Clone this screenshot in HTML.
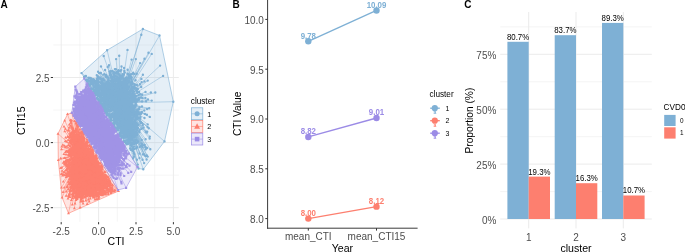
<!DOCTYPE html>
<html><head><meta charset="utf-8"><style>
html,body{margin:0;padding:0;background:#fff;width:685px;height:252px;overflow:hidden;}
svg{display:block;will-change:transform;}
text{font-family:"Liberation Sans",sans-serif;}
</style></head><body>
<svg width="685" height="252" viewBox="0 0 685 252">
<defs><clipPath id="cpA"><rect x="53.3" y="19.0" width="125.50000000000001" height="202.7"/></clipPath></defs>
<line x1="79.90" y1="19.0" x2="79.90" y2="221.7" stroke="#EBEBEB" stroke-width="0.5"/>
<line x1="117.30" y1="19.0" x2="117.30" y2="221.7" stroke="#EBEBEB" stroke-width="0.5"/>
<line x1="154.70" y1="19.0" x2="154.70" y2="221.7" stroke="#EBEBEB" stroke-width="0.5"/>
<line x1="53.3" y1="175.15" x2="178.8" y2="175.15" stroke="#EBEBEB" stroke-width="0.5"/>
<line x1="53.3" y1="110.05" x2="178.8" y2="110.05" stroke="#EBEBEB" stroke-width="0.5"/>
<line x1="53.3" y1="44.95" x2="178.8" y2="44.95" stroke="#EBEBEB" stroke-width="0.5"/>
<line x1="61.20" y1="19.0" x2="61.20" y2="221.7" stroke="#EBEBEB" stroke-width="1"/>
<line x1="98.60" y1="19.0" x2="98.60" y2="221.7" stroke="#EBEBEB" stroke-width="1"/>
<line x1="136.00" y1="19.0" x2="136.00" y2="221.7" stroke="#EBEBEB" stroke-width="1"/>
<line x1="173.40" y1="19.0" x2="173.40" y2="221.7" stroke="#EBEBEB" stroke-width="1"/>
<line x1="53.3" y1="207.70" x2="178.8" y2="207.70" stroke="#EBEBEB" stroke-width="1"/>
<line x1="53.3" y1="142.60" x2="178.8" y2="142.60" stroke="#EBEBEB" stroke-width="1"/>
<line x1="53.3" y1="77.50" x2="178.8" y2="77.50" stroke="#EBEBEB" stroke-width="1"/>
<g clip-path="url(#cpA)"><path d="M81.5 73.1 L107.1 50.2 L142.9 29.0 L159.5 35.5 L173.3 101.7 L164.5 141.4 L143.3 169.3 L138.5 168.5Z" fill="#7EB0D5" fill-opacity="0.2" stroke="#7EB0D5" stroke-width="0.6"/><path d="M58.0 133.8 L67.5 114.2 L71.8 113.0 L118.5 191.0 L68.5 213.3 L62.1 197.5 L58.3 160.0Z" fill="#FD7F6F" fill-opacity="0.2" stroke="#FD7F6F" stroke-width="0.6"/><path d="M71.8 113.0 L75.3 86.7 L84.3 78.5 L137.5 167.0 L126.1 187.8 L118.0 190.0Z" fill="#A093E6" fill-opacity="0.2" stroke="#A093E6" stroke-width="0.6"/><path d="M120.0 103.0L128.8 111.3M120.0 103.0L116.7 107.3M120.0 103.0L119.0 106.3M120.0 103.0L121.4 132.1M120.0 103.0L117.5 81.1M120.0 103.0L126.8 83.6M120.0 103.0L128.0 104.1M120.0 103.0L116.1 119.9M120.0 103.0L118.3 78.3M120.0 103.0L118.4 99.9M120.0 103.0L111.6 96.3M120.0 103.0L126.6 98.9M120.0 103.0L122.5 104.4M120.0 103.0L112.9 102.3M120.0 103.0L101.1 85.8M120.0 103.0L113.6 103.3M120.0 103.0L115.1 100.0M120.0 103.0L127.9 134.4M120.0 103.0L130.6 83.2M120.0 103.0L125.3 78.6M120.0 103.0L133.2 134.8M120.0 103.0L126.6 115.2M120.0 103.0L99.0 96.3M120.0 103.0L122.2 126.1M120.0 103.0L104.4 108.3M120.0 103.0L127.6 86.5M120.0 103.0L131.9 121.4M120.0 103.0L123.1 133.7M120.0 103.0L100.0 97.5M120.0 103.0L104.6 93.3M120.0 103.0L119.8 105.4M120.0 103.0L136.7 116.7M120.0 103.0L111.1 92.1M120.0 103.0L125.8 123.8M120.0 103.0L117.1 90.0M120.0 103.0L119.9 109.4M120.0 103.0L115.8 95.8M120.0 103.0L114.7 87.9M120.0 103.0L102.6 84.9M120.0 103.0L122.1 86.7M120.0 103.0L119.1 135.0M120.0 103.0L105.5 104.2M120.0 103.0L104.4 80.2M120.0 103.0L129.6 100.4M120.0 103.0L112.0 94.6M120.0 103.0L120.5 77.3M120.0 103.0L112.3 77.1M120.0 103.0L122.0 115.4M120.0 103.0L137.1 114.1M120.0 103.0L133.6 92.2M120.0 103.0L110.6 91.5M120.0 103.0L124.9 127.3M120.0 103.0L125.0 130.0M120.0 103.0L104.4 95.0M120.0 103.0L118.1 94.9M120.0 103.0L96.0 83.7M120.0 103.0L98.2 94.6M120.0 103.0L105.8 91.2M120.0 103.0L133.9 94.3M120.0 103.0L126.5 96.3M120.0 103.0L128.8 104.3M120.0 103.0L104.8 99.1M120.0 103.0L103.9 93.9M120.0 103.0L135.0 106.8M120.0 103.0L129.3 101.6M120.0 103.0L129.4 125.5M120.0 103.0L133.0 86.8M120.0 103.0L129.7 126.1M120.0 103.0L124.6 90.5M120.0 103.0L132.1 105.4M120.0 103.0L132.6 133.2M120.0 103.0L129.1 128.6M120.0 103.0L103.5 105.3M120.0 103.0L135.0 135.4M120.0 103.0L114.0 74.6M120.0 103.0L117.5 110.1M120.0 103.0L123.5 126.7M120.0 103.0L133.4 111.3M120.0 103.0L134.4 129.3M120.0 103.0L108.8 95.7M120.0 103.0L107.3 85.0M120.0 103.0L136.7 126.1M120.0 103.0L129.2 119.1M120.0 103.0L124.3 84.8M120.0 103.0L122.1 76.9M120.0 103.0L99.9 103.3M120.0 103.0L130.7 137.7M120.0 103.0L130.9 129.2M120.0 103.0L123.2 133.1M120.0 103.0L112.6 123.4M120.0 103.0L134.5 95.7M120.0 103.0L120.2 101.8M120.0 103.0L123.7 91.1M120.0 103.0L114.2 78.1M120.0 103.0L116.6 78.8M120.0 103.0L90.3 84.2M120.0 103.0L126.0 82.8M120.0 103.0L120.5 128.0M120.0 103.0L127.0 126.9M120.0 103.0L123.7 108.9M120.0 103.0L126.5 101.4M120.0 103.0L112.2 76.8M120.0 103.0L114.9 118.4M120.0 103.0L112.6 80.4M120.0 103.0L132.7 110.4M120.0 103.0L113.0 107.8M120.0 103.0L131.7 87.5M120.0 103.0L112.6 100.8M120.0 103.0L126.3 91.7M120.0 103.0L104.9 107.8M120.0 103.0L123.3 86.4M120.0 103.0L123.5 128.1M120.0 103.0L118.5 109.6M120.0 103.0L112.5 100.6M120.0 103.0L127.8 122.6M120.0 103.0L113.6 103.7M120.0 103.0L129.5 117.0M120.0 103.0L95.1 83.3M120.0 103.0L109.1 110.2M120.0 103.0L118.1 116.8M120.0 103.0L126.2 114.0M120.0 103.0L103.6 109.8M120.0 103.0L125.9 113.4M120.0 103.0L131.0 118.0M120.0 103.0L132.0 137.9M120.0 103.0L114.0 127.0M120.0 103.0L123.4 128.9M120.0 103.0L135.2 120.3M120.0 103.0L113.8 99.2M120.0 103.0L134.9 121.6M120.0 103.0L131.1 89.9M120.0 103.0L93.0 82.3M120.0 103.0L125.3 109.8M120.0 103.0L128.9 86.9M120.0 103.0L133.9 125.8M120.0 103.0L133.0 114.3M120.0 103.0L103.1 106.0M120.0 103.0L95.9 90.6M120.0 103.0L135.1 133.3M120.0 103.0L108.8 106.2M120.0 103.0L125.7 132.8M120.0 103.0L125.3 95.8M120.0 103.0L122.5 82.4M120.0 103.0L127.0 84.9M120.0 103.0L128.8 97.7M120.0 103.0L120.7 110.1M120.0 103.0L116.8 128.5M120.0 103.0L123.2 89.5M120.0 103.0L101.2 105.8M120.0 103.0L119.4 110.5M120.0 103.0L113.7 93.6M120.0 103.0L94.1 79.8M120.0 103.0L102.0 93.0M120.0 103.0L120.2 90.7M120.0 103.0L113.7 84.0M120.0 103.0L125.3 115.9M120.0 103.0L124.7 85.6M120.0 103.0L136.9 112.7M120.0 103.0L107.0 103.5M120.0 103.0L118.3 113.2M120.0 103.0L101.1 85.4M120.0 103.0L105.4 97.8M120.0 103.0L124.9 129.5M120.0 103.0L96.9 83.2M120.0 103.0L118.6 79.0M120.0 103.0L133.2 94.9M120.0 103.0L124.0 105.7M120.0 103.0L122.8 112.6M120.0 103.0L124.9 108.9M120.0 103.0L101.1 87.2M120.0 103.0L133.5 92.2M120.0 103.0L133.6 95.1M120.0 103.0L107.5 110.6M120.0 103.0L126.8 107.2M120.0 103.0L108.7 78.3M120.0 103.0L121.0 117.5M120.0 103.0L133.9 107.3M120.0 103.0L132.0 125.1M120.0 103.0L124.6 95.0M120.0 103.0L129.7 102.5M120.0 103.0L117.0 124.3M120.0 103.0L109.6 85.0M120.0 103.0L103.3 97.9M120.0 103.0L98.5 78.5M120.0 103.0L109.5 105.5M120.0 103.0L105.3 92.6M120.0 103.0L118.3 84.2M120.0 103.0L131.2 123.7M120.0 103.0L106.4 103.4M120.0 103.0L108.8 106.1M120.0 103.0L131.4 104.8M120.0 103.0L100.5 82.7M120.0 103.0L91.1 88.3M120.0 103.0L121.6 94.5M120.0 103.0L104.3 85.5M120.0 103.0L97.0 97.9M120.0 103.0L120.5 103.9M120.0 103.0L130.1 123.2M120.0 103.0L125.5 136.8M120.0 103.0L106.9 103.1M120.0 103.0L122.9 112.3M120.0 103.0L96.1 88.1M120.0 103.0L117.0 80.6M120.0 103.0L120.1 107.2M120.0 103.0L114.6 107.6M120.0 103.0L126.8 130.4M120.0 103.0L96.1 84.5M120.0 103.0L123.8 85.6M120.0 103.0L111.4 83.2M120.0 103.0L128.1 125.5M120.0 103.0L114.1 76.4M120.0 103.0L105.2 83.7M120.0 103.0L105.7 91.6M120.0 103.0L119.5 106.2M120.0 103.0L112.8 91.1M120.0 103.0L123.2 116.7M120.0 103.0L112.0 104.0M120.0 103.0L110.5 119.4M120.0 103.0L116.0 109.9M120.0 103.0L120.2 95.6M120.0 103.0L97.4 78.7M120.0 103.0L115.2 96.5M120.0 103.0L121.7 78.5M120.0 103.0L122.3 101.0M120.0 103.0L119.4 83.1M120.0 103.0L129.5 105.0M120.0 103.0L133.9 134.8M120.0 103.0L120.1 83.1M120.0 103.0L120.2 76.0M120.0 103.0L121.0 125.3M120.0 103.0L95.5 83.4M120.0 103.0L121.0 97.6M120.0 103.0L114.3 77.9M120.0 103.0L125.9 78.0M120.0 103.0L129.1 108.6M120.0 103.0L128.6 128.0M120.0 103.0L114.4 97.7M120.0 103.0L122.1 129.9M120.0 103.0L121.3 116.1M120.0 103.0L128.2 96.9M120.0 103.0L96.0 91.2M120.0 103.0L120.9 111.2M120.0 103.0L102.7 90.8M120.0 103.0L127.1 140.2M120.0 103.0L107.2 103.4M120.0 103.0L124.9 81.7M120.0 103.0L97.7 80.5M120.0 103.0L133.3 112.7M120.0 103.0L119.5 112.8M120.0 103.0L100.6 87.6M120.0 103.0L126.5 94.2M120.0 103.0L127.0 95.7M120.0 103.0L131.2 121.5M120.0 103.0L118.4 89.4M120.0 103.0L111.7 98.0M120.0 103.0L118.7 97.4M120.0 103.0L116.3 110.5M120.0 103.0L129.7 110.3M120.0 103.0L131.2 106.4M120.0 103.0L128.3 96.7M120.0 103.0L112.6 84.0M120.0 103.0L129.6 131.7M120.0 103.0L118.6 99.6M120.0 103.0L126.4 111.1M120.0 103.0L126.9 127.5M120.0 103.0L121.3 127.6M120.0 103.0L104.3 108.2M120.0 103.0L98.0 92.1M120.0 103.0L105.5 109.5M120.0 103.0L107.9 84.3M120.0 103.0L124.4 85.9M120.0 103.0L116.7 85.6M120.0 103.0L132.6 120.2M120.0 103.0L103.2 85.4M120.0 103.0L127.1 134.1M120.0 103.0L134.0 96.0M120.0 103.0L114.5 76.0M120.0 103.0L116.6 121.1M120.0 103.0L108.2 101.6M120.0 103.0L118.8 81.2M120.0 103.0L102.0 84.8M120.0 103.0L135.8 113.6M120.0 103.0L133.0 101.3M120.0 103.0L113.3 99.9M120.0 103.0L110.7 76.5M120.0 103.0L119.7 114.1M120.0 103.0L122.5 131.6M120.0 103.0L114.9 85.1M120.0 103.0L119.3 123.2M120.0 103.0L111.6 110.5M120.0 103.0L115.1 117.4M120.0 103.0L121.0 106.5M120.0 103.0L116.9 76.6M120.0 103.0L131.0 123.8M120.0 103.0L107.5 76.8M120.0 103.0L96.9 95.2M120.0 103.0L119.7 115.3M120.0 103.0L107.1 82.4M120.0 103.0L114.0 118.5M120.0 103.0L116.4 87.5M120.0 103.0L116.7 78.6M120.0 103.0L136.8 101.5M120.0 103.0L107.0 112.9M120.0 103.0L116.1 102.7M120.0 103.0L128.5 137.6M120.0 103.0L124.2 130.1M120.0 103.0L123.4 110.9M120.0 103.0L119.9 124.5M120.0 103.0L113.3 89.6M120.0 103.0L98.3 81.3M120.0 103.0L124.8 107.7M120.0 103.0L125.7 131.4M120.0 103.0L110.4 95.7M120.0 103.0L113.2 100.1M120.0 103.0L111.7 78.8M120.0 103.0L104.7 86.0M120.0 103.0L132.4 130.5M120.0 103.0L131.3 109.4M120.0 103.0L125.0 95.1M120.0 103.0L124.3 78.6M120.0 103.0L123.7 117.9M120.0 103.0L130.9 136.9M120.0 103.0L93.1 88.7M120.0 103.0L123.5 111.7M120.0 103.0L133.5 109.9M120.0 103.0L110.9 85.8M120.0 103.0L136.2 104.5M120.0 103.0L129.1 113.4M120.0 103.0L104.9 100.1M120.0 103.0L109.9 85.6M120.0 103.0L129.1 97.8M120.0 103.0L122.5 94.3M120.0 103.0L111.4 96.7M120.0 103.0L122.1 121.2M120.0 103.0L118.6 91.2M120.0 103.0L133.7 99.9M120.0 103.0L135.3 102.0M120.0 103.0L134.3 105.7M120.0 103.0L107.6 91.7M120.0 103.0L107.9 100.9M120.0 103.0L134.2 99.0M120.0 103.0L129.8 130.5M120.0 103.0L97.4 95.8M120.0 103.0L119.6 95.1M120.0 103.0L132.5 109.3M120.0 103.0L136.8 123.6M120.0 103.0L107.6 114.3M120.0 103.0L124.0 93.7M120.0 103.0L120.6 93.7M120.0 103.0L105.9 109.1M120.0 103.0L131.0 94.3M120.0 103.0L116.3 86.8M120.0 103.0L132.9 131.0M120.0 103.0L125.4 141.3M120.0 103.0L128.1 120.7M120.0 103.0L128.5 81.6M120.0 103.0L114.0 107.3M120.0 103.0L110.6 104.4M120.0 103.0L99.0 101.1M120.0 103.0L124.5 81.3M120.0 103.0L102.8 103.4M120.0 103.0L111.3 115.4M120.0 103.0L124.4 87.4M120.0 103.0L130.5 130.3M120.0 103.0L96.2 91.5M120.0 103.0L113.1 116.9M120.0 103.0L107.1 113.6M120.0 103.0L133.7 88.1M120.0 103.0L113.7 85.3M120.0 103.0L124.1 81.6M120.0 103.0L93.5 80.0M120.0 103.0L131.8 104.6M120.0 103.0L137.3 124.7M120.0 103.0L124.4 127.5M120.0 103.0L134.5 115.8M120.0 103.0L103.6 86.1M120.0 103.0L104.7 109.8M120.0 103.0L127.4 88.3M120.0 103.0L108.1 111.0M120.0 103.0L123.4 136.1M120.0 103.0L127.3 96.2M120.0 103.0L126.9 88.6M120.0 103.0L137.6 117.3M120.0 103.0L123.5 97.1M120.0 103.0L124.6 102.7M120.0 103.0L117.1 124.0M120.0 103.0L107.7 105.6M120.0 103.0L123.5 81.5M120.0 103.0L132.9 122.0M120.0 103.0L138.0 114.6M120.0 103.0L121.4 94.0M120.0 103.0L95.0 92.1M120.0 103.0L130.2 113.0M120.0 103.0L116.8 86.9M120.0 103.0L128.3 89.1M120.0 103.0L127.9 106.3M120.0 103.0L110.4 75.8M120.0 103.0L91.7 81.3M120.0 103.0L130.7 114.7M120.0 103.0L110.3 110.9M120.0 103.0L130.1 124.5M120.0 103.0L111.2 102.4M120.0 103.0L106.0 75.0M120.0 103.0L114.1 126.0M120.0 103.0L97.7 89.1M120.0 103.0L102.9 90.6M120.0 103.0L102.5 93.8M120.0 103.0L127.6 112.5M120.0 103.0L127.1 84.9M120.0 103.0L97.3 99.0M120.0 103.0L129.0 99.9M120.0 103.0L96.6 93.0M120.0 103.0L123.6 133.7M120.0 103.0L124.4 127.2M120.0 103.0L98.9 100.7M120.0 103.0L130.3 119.7M120.0 103.0L133.0 86.6M120.0 103.0L121.8 136.8M120.0 103.0L122.6 82.0M120.0 103.0L126.2 131.8M120.0 103.0L126.3 136.0M120.0 103.0L115.3 76.0M120.0 103.0L112.3 92.7M120.0 103.0L123.7 127.3M120.0 103.0L117.3 123.5M120.0 103.0L118.8 110.9M120.0 103.0L94.3 82.4M120.0 103.0L117.2 84.7M120.0 103.0L135.1 112.8M120.0 103.0L135.9 114.5M120.0 103.0L125.3 85.9M120.0 103.0L131.1 100.5M120.0 103.0L102.9 99.3M120.0 103.0L110.7 115.3M120.0 103.0L128.3 105.9M120.0 103.0L134.2 132.6M120.0 103.0L113.1 117.2M120.0 103.0L123.0 132.6M120.0 103.0L109.7 104.3M120.0 103.0L133.6 106.9M120.0 103.0L104.7 111.3M120.0 103.0L114.0 110.2M120.0 103.0L114.3 80.6M120.0 103.0L115.3 103.0M120.0 103.0L111.5 90.1M120.0 103.0L122.6 99.5M120.0 103.0L135.5 102.2M120.0 103.0L105.6 75.9M120.0 103.0L132.8 126.4M120.0 103.0L117.4 85.5M120.0 103.0L129.1 126.5M120.0 103.0L118.1 77.6M120.0 103.0L119.3 79.9M120.0 103.0L100.6 101.8M120.0 103.0L126.8 121.4M120.0 103.0L109.0 83.2M120.0 103.0L126.1 99.9M120.0 103.0L129.9 90.6M120.0 103.0L95.6 87.0M120.0 103.0L123.7 104.0M120.0 103.0L128.7 93.6M120.0 103.0L126.3 117.1M120.0 103.0L99.3 94.6M120.0 103.0L128.5 101.1M120.0 103.0L130.1 126.2M120.0 103.0L98.8 101.4M120.0 103.0L107.8 84.2M120.0 103.0L114.5 120.4M120.0 103.0L119.6 124.0M120.0 103.0L135.2 107.0M120.0 103.0L123.0 96.4M120.0 103.0L134.3 97.2M120.0 103.0L104.5 98.6M120.0 103.0L115.1 116.2M120.0 103.0L133.4 122.7M120.0 103.0L115.9 128.2M120.0 103.0L103.4 83.7M120.0 103.0L129.2 92.5M120.0 103.0L120.4 76.8M120.0 103.0L135.2 105.8M120.0 103.0L119.5 84.3M120.0 103.0L111.6 104.9M120.0 103.0L121.8 91.9M120.0 103.0L130.3 90.7M120.0 103.0L111.3 79.0M120.0 103.0L129.6 114.6M120.0 103.0L118.4 92.9M120.0 103.0L113.4 124.7M120.0 103.0L120.6 136.3M120.0 103.0L123.6 111.4M120.0 103.0L129.0 112.6M120.0 103.0L130.8 91.6M120.0 103.0L91.5 88.4M120.0 103.0L99.1 86.6M120.0 103.0L124.8 97.3M120.0 103.0L96.9 80.4M120.0 103.0L133.6 122.2M120.0 103.0L113.2 108.0M120.0 103.0L112.7 101.6M120.0 103.0L126.5 117.8M120.0 103.0L128.0 98.1M120.0 103.0L109.5 117.5M120.0 103.0L125.5 91.3M120.0 103.0L128.7 140.0M120.0 103.0L105.0 91.5M120.0 103.0L129.3 81.9M120.0 103.0L125.6 104.5M120.0 103.0L135.2 98.1M120.0 103.0L92.9 84.1M120.0 103.0L102.7 89.3M120.0 103.0L130.0 130.2M120.0 103.0L128.2 102.2M120.0 103.0L111.8 110.4M120.0 103.0L109.2 92.2M120.0 103.0L131.2 113.6M120.0 103.0L121.9 135.9M120.0 103.0L123.8 121.8M120.0 103.0L97.8 86.1M120.0 103.0L113.4 123.0M120.0 103.0L129.2 81.4M120.0 103.0L100.1 104.1M120.0 103.0L130.5 132.2M120.0 103.0L127.7 111.9M120.0 103.0L136.9 100.4M120.0 103.0L116.5 95.1M120.0 103.0L135.8 115.5M120.0 103.0L114.9 100.0M120.0 103.0L130.3 104.7M120.0 103.0L121.5 98.9M120.0 103.0L116.8 117.5M120.0 103.0L125.6 78.4M120.0 103.0L98.3 99.2M120.0 103.0L130.5 92.9M120.0 103.0L114.2 122.4M120.0 103.0L124.0 130.6M120.0 103.0L130.5 90.6M120.0 103.0L124.1 88.1M120.0 103.0L118.2 81.4M120.0 103.0L133.7 96.2M120.0 103.0L105.0 95.2M120.0 103.0L128.2 123.8M120.0 103.0L124.8 106.0M120.0 103.0L133.0 98.4M120.0 103.0L131.4 104.8M120.0 103.0L91.6 83.2M120.0 103.0L111.6 77.2M120.0 103.0L130.7 97.0M120.0 103.0L129.8 128.1M120.0 103.0L120.7 91.4M120.0 103.0L119.4 111.0M120.0 103.0L133.2 136.3M120.0 103.0L133.2 115.0M120.0 103.0L132.8 137.3M120.0 103.0L104.8 88.5M120.0 103.0L110.5 107.8M120.0 103.0L103.3 92.0M120.0 103.0L131.8 126.7M120.0 103.0L112.6 104.0M120.0 103.0L94.6 82.6M120.0 103.0L128.4 88.5M120.0 103.0L129.1 105.2M120.0 103.0L101.2 100.7M120.0 103.0L115.2 119.4M120.0 103.0L91.0 88.9M120.0 103.0L99.8 100.5M120.0 103.0L108.9 115.8M120.0 103.0L132.6 89.9M120.0 103.0L114.7 115.0M120.0 103.0L116.5 114.0M120.0 103.0L93.5 90.2M120.0 103.0L98.1 78.5M120.0 103.0L120.4 95.8M120.0 103.0L125.2 79.3M120.0 103.0L121.2 76.0M120.0 103.0L121.3 101.5M120.0 103.0L93.5 86.6M120.0 103.0L114.4 86.9M120.0 103.0L123.0 119.1M120.0 103.0L125.8 83.1M120.0 103.0L107.0 101.6M120.0 103.0L120.4 128.1M120.0 103.0L130.3 107.5M120.0 103.0L108.0 87.1M120.0 103.0L111.4 76.1M120.0 103.0L101.3 99.0M120.0 103.0L112.2 100.1M120.0 103.0L95.5 95.0M120.0 103.0L128.9 119.4M120.0 103.0L133.7 93.8M120.0 103.0L127.2 116.3M120.0 103.0L101.3 104.1M120.0 103.0L103.5 91.5M120.0 103.0L137.4 110.0M120.0 103.0L99.4 97.0M120.0 103.0L132.5 118.5M120.0 103.0L124.7 109.7M120.0 103.0L125.1 101.5M120.0 103.0L115.8 111.1M120.0 103.0L125.9 95.7M120.0 103.0L135.6 127.0M120.0 103.0L127.7 92.0M120.0 103.0L92.0 83.7M120.0 103.0L123.9 130.8M120.0 103.0L129.2 136.3M120.0 103.0L109.3 103.8M120.0 103.0L98.5 77.4M120.0 103.0L107.0 97.2M120.0 103.0L116.6 84.7M120.0 103.0L124.2 104.7M120.0 103.0L109.2 102.7M120.0 103.0L120.6 104.0M120.0 103.0L123.6 120.3M120.0 103.0L122.8 119.9M120.0 103.0L113.9 84.9M120.0 103.0L135.5 112.0M120.0 103.0L121.5 83.0M120.0 103.0L133.2 133.9M120.0 103.0L110.8 97.8M120.0 103.0L100.3 88.9M120.0 103.0L101.3 82.9M120.0 103.0L128.7 120.8M120.0 103.0L114.2 84.9M120.0 103.0L114.5 79.6M120.0 103.0L118.3 127.5M120.0 103.0L132.3 88.6M120.0 103.0L133.7 116.5M120.0 103.0L102.1 82.3M120.0 103.0L130.2 128.7M120.0 103.0L125.9 122.7M120.0 103.0L124.4 124.1M120.0 103.0L133.4 113.7M120.0 103.0L125.7 121.3M120.0 103.0L103.9 91.3M120.0 103.0L117.1 89.4M120.0 103.0L121.0 97.2M120.0 103.0L106.7 98.0M120.0 103.0L126.9 132.5M120.0 103.0L114.2 94.3M120.0 103.0L117.8 93.3M120.0 103.0L120.9 129.6M120.0 103.0L107.4 82.0M120.0 103.0L105.1 91.4M120.0 103.0L105.8 92.4M120.0 103.0L111.8 101.4M120.0 103.0L125.8 87.1M120.0 103.0L97.3 80.0M120.0 103.0L105.4 99.6M120.0 103.0L130.8 124.1M120.0 103.0L103.7 106.1M120.0 103.0L96.7 78.7M120.0 103.0L105.0 95.8M120.0 103.0L129.0 126.6M120.0 103.0L118.2 101.9M120.0 103.0L101.0 82.3M120.0 103.0L132.4 89.9M120.0 103.0L117.5 103.9M120.0 103.0L125.9 124.9M120.0 103.0L126.9 88.2M120.0 103.0L102.5 79.8M120.0 103.0L93.1 89.8M120.0 103.0L120.5 97.6M120.0 103.0L135.4 125.0M120.0 103.0L122.4 130.3M120.0 103.0L126.8 80.7M120.0 103.0L96.3 89.3M120.0 103.0L90.0 85.8M120.0 103.0L115.9 118.5M120.0 103.0L128.0 117.6M120.0 103.0L110.5 105.3M120.0 103.0L125.3 94.7M120.0 103.0L123.5 103.4M120.0 103.0L124.2 83.1M120.0 103.0L127.3 112.5M120.0 103.0L136.5 101.4M120.0 103.0L123.3 95.4M120.0 103.0L122.7 133.1M120.0 103.0L106.5 111.5M120.0 103.0L131.4 100.2M120.0 103.0L115.3 119.2M120.0 103.0L129.2 115.4M120.0 103.0L106.4 90.7M120.0 103.0L110.4 121.4M120.0 103.0L96.8 94.9M120.0 103.0L114.1 124.6M120.0 103.0L120.4 82.0M120.0 103.0L130.1 139.5M120.0 103.0L111.2 116.5M120.0 103.0L124.6 82.6M120.0 103.0L95.4 81.3M120.0 103.0L126.7 117.7M120.0 103.0L118.3 130.2M120.0 103.0L108.2 97.9M120.0 103.0L122.6 129.9M120.0 103.0L106.7 82.0M120.0 103.0L108.8 101.9M120.0 103.0L122.6 125.1M120.0 103.0L130.4 102.3M120.0 103.0L127.7 110.1M120.0 103.0L123.2 99.8M120.0 103.0L106.4 108.3M120.0 103.0L126.6 128.8M120.0 103.0L122.5 94.8M120.0 103.0L117.2 130.1M120.0 103.0L108.1 114.3M120.0 103.0L127.4 109.2M120.0 103.0L97.1 79.9M120.0 103.0L122.2 132.9M120.0 103.0L120.4 133.8M120.0 103.0L114.2 116.0M120.0 103.0L131.5 85.0M120.0 103.0L106.0 87.1M120.0 103.0L127.0 124.2M120.0 103.0L131.3 102.8M120.0 103.0L106.4 105.2M120.0 103.0L125.3 126.5M120.0 103.0L132.5 137.2M120.0 103.0L124.7 131.2M120.0 103.0L93.9 87.0M120.0 103.0L102.0 98.1M120.0 103.0L116.2 121.7M120.0 103.0L103.5 92.1M120.0 103.0L120.9 136.1M120.0 103.0L131.9 114.9M120.0 103.0L119.9 85.0M120.0 103.0L110.6 104.8M120.0 103.0L120.3 136.3M120.0 103.0L124.3 88.8M120.0 103.0L106.6 114.3M120.0 103.0L114.0 116.3M120.0 103.0L106.6 87.1M120.0 103.0L129.4 137.3M120.0 103.0L114.3 127.5M120.0 103.0L125.0 114.4M120.0 103.0L116.3 115.8M120.0 103.0L117.7 114.8M120.0 103.0L111.6 89.6M120.0 103.0L124.1 123.9M120.0 103.0L125.0 93.5M120.0 103.0L107.6 108.4M120.0 103.0L131.0 117.9M120.0 103.0L118.3 120.0M120.0 103.0L117.0 95.8M120.0 103.0L129.9 139.5M120.0 103.0L109.1 86.0M120.0 103.0L118.8 78.5M120.0 103.0L115.2 79.7M120.0 103.0L123.7 140.7M120.0 103.0L106.0 109.8M120.0 103.0L106.5 75.9M120.0 103.0L114.7 95.2M120.0 103.0L110.6 106.0M120.0 103.0L124.3 103.4M120.0 103.0L107.3 88.5M120.0 103.0L115.1 80.9M120.0 103.0L105.9 109.7M120.0 103.0L121.5 89.2M120.0 103.0L104.8 111.6M120.0 103.0L112.8 97.9M120.0 103.0L104.3 87.8M120.0 103.0L112.3 82.0M120.0 103.0L129.4 110.3M120.0 103.0L114.7 100.6M120.0 103.0L119.7 120.8M120.0 103.0L130.9 124.8M120.0 103.0L125.6 131.5M120.0 103.0L119.1 109.0M120.0 103.0L129.7 121.2M120.0 103.0L105.4 99.9M120.0 103.0L122.6 121.9M120.0 103.0L98.6 99.9M120.0 103.0L107.9 101.5M120.0 103.0L122.6 93.5M120.0 103.0L127.7 113.0M120.0 103.0L111.0 118.5M120.0 103.0L104.2 87.0M120.0 103.0L99.4 92.8M120.0 103.0L130.7 139.6M120.0 103.0L107.9 96.7M120.0 103.0L108.5 97.9M120.0 103.0L102.1 88.1M120.0 103.0L126.1 81.7M120.0 103.0L106.9 102.9M120.0 103.0L93.8 82.9M120.0 103.0L102.5 91.4M120.0 103.0L104.2 107.3M120.0 103.0L108.9 87.5M120.0 103.0L136.3 123.3M120.0 103.0L106.9 81.7M120.0 103.0L106.6 103.8M120.0 103.0L109.1 90.1M120.0 103.0L102.4 94.9M120.0 103.0L111.8 110.2M120.0 103.0L132.0 138.0M120.0 103.0L104.1 101.7M120.0 103.0L106.8 87.2M120.0 103.0L119.1 103.2M120.0 103.0L133.2 93.7M120.0 103.0L123.0 104.1M120.0 103.0L101.1 97.5M120.0 103.0L130.3 120.2M120.0 103.0L113.9 84.1M120.0 103.0L103.3 107.9M120.0 103.0L124.2 115.0M120.0 103.0L117.7 89.6M120.0 103.0L109.3 84.0M120.0 103.0L131.8 111.3M120.0 103.0L123.0 96.8M120.0 103.0L111.0 117.8M120.0 103.0L131.1 134.6M120.0 103.0L104.0 107.3M120.0 103.0L130.0 113.2M120.0 103.0L110.4 103.1M120.0 103.0L119.7 125.7M120.0 103.0L117.5 107.4M120.0 103.0L124.3 90.8M120.0 103.0L127.3 121.5M120.0 103.0L126.8 79.0M120.0 103.0L114.4 103.8M120.0 103.0L95.3 94.3M120.0 103.0L134.4 107.9M120.0 103.0L105.6 95.1M120.0 103.0L131.8 122.2M120.0 103.0L101.6 84.8M120.0 103.0L132.7 117.4M120.0 103.0L131.9 114.4M120.0 103.0L124.8 132.4M120.0 103.0L129.3 110.0M120.0 103.0L120.5 135.1M120.0 103.0L125.1 137.3M120.0 103.0L105.6 106.0M120.0 103.0L114.3 79.5M120.0 103.0L118.5 85.5M120.0 103.0L115.1 119.7M120.0 103.0L119.3 124.1M120.0 103.0L116.8 78.9M120.0 103.0L103.9 91.5M120.0 103.0L96.9 90.4M120.0 103.0L134.8 99.6M120.0 103.0L115.3 127.7M120.0 103.0L126.6 103.0M120.0 103.0L126.0 118.1M120.0 103.0L127.0 97.6M120.0 103.0L119.2 118.0M120.0 103.0L111.4 76.1M120.0 103.0L128.7 97.4M120.0 103.0L125.6 125.7M120.0 103.0L125.1 86.3M120.0 103.0L123.1 122.4M120.0 103.0L103.4 103.4M120.0 103.0L102.8 84.3M120.0 103.0L109.2 96.7M120.0 103.0L109.7 75.4M120.0 103.0L119.5 133.2M120.0 103.0L96.9 82.5M120.0 103.0L110.7 101.1M120.0 103.0L135.0 105.4M120.0 103.0L109.7 96.8M120.0 103.0L102.2 87.6M120.0 103.0L103.0 107.1M120.0 103.0L137.1 112.6M120.0 103.0L119.3 113.2M120.0 103.0L110.3 105.6M120.0 103.0L109.9 90.7M120.0 103.0L115.6 122.7M120.0 103.0L135.7 103.5M120.0 103.0L117.1 84.4M120.0 103.0L135.3 124.8M120.0 103.0L102.3 79.0M120.0 103.0L128.4 109.6M120.0 103.0L125.0 130.9M120.0 103.0L106.6 83.9M120.0 103.0L134.3 132.4M120.0 103.0L118.8 87.9M120.0 103.0L127.0 79.7M120.0 103.0L119.0 91.7M120.0 103.0L112.7 107.1M120.0 103.0L116.6 84.9M120.0 103.0L102.1 80.5M120.0 103.0L111.7 85.4M120.0 103.0L118.1 85.4M120.0 103.0L108.9 97.8M120.0 103.0L119.7 81.1M120.0 103.0L133.7 91.5M120.0 103.0L132.0 133.0M120.0 103.0L105.8 112.6M120.0 103.0L109.3 114.2M120.0 103.0L133.7 134.1M120.0 103.0L136.9 100.1M120.0 103.0L126.1 86.5M120.0 103.0L114.9 105.7M120.0 103.0L124.0 120.5M120.0 103.0L125.8 92.6M120.0 103.0L95.2 92.8M120.0 103.0L117.2 110.0M120.0 103.0L129.2 126.5M120.0 103.0L130.9 110.0M120.0 103.0L117.3 117.4M120.0 103.0L108.2 106.3M120.0 103.0L110.9 76.9M120.0 103.0L124.6 133.9M120.0 103.0L127.1 98.3M120.0 103.0L122.9 101.4M120.0 103.0L113.5 92.0M120.0 103.0L117.7 91.6M120.0 103.0L121.6 138.3M120.0 103.0L111.1 117.6M120.0 103.0L115.3 121.9M120.0 103.0L103.4 79.1M120.0 103.0L93.2 91.7M120.0 103.0L110.8 80.9M120.0 103.0L133.4 125.2M120.0 103.0L131.8 121.4M120.0 103.0L105.8 76.8M120.0 103.0L100.5 77.5M120.0 103.0L136.6 128.8M120.0 103.0L98.6 81.7M120.0 103.0L95.9 88.8M120.0 103.0L123.3 137.3M120.0 103.0L98.2 91.2M120.0 103.0L129.3 128.7M120.0 103.0L110.3 95.4M120.0 103.0L114.3 117.2M120.0 103.0L98.0 83.3M120.0 103.0L113.1 115.1M120.0 103.0L134.5 94.5M120.0 103.0L105.1 96.3M120.0 103.0L121.1 76.6M120.0 103.0L118.4 127.8M120.0 103.0L99.5 87.9M120.0 103.0L111.3 114.1M120.0 103.0L102.9 85.6M120.0 103.0L100.2 88.5M120.0 103.0L134.1 107.7M120.0 103.0L105.7 102.3M120.0 103.0L112.3 116.7M120.0 103.0L121.9 82.8M120.0 103.0L126.8 105.6M120.0 103.0L112.9 114.9M120.0 103.0L122.2 84.2M120.0 103.0L121.6 132.0M120.0 103.0L130.3 123.3M120.0 103.0L112.9 116.9M120.0 103.0L130.6 132.4M120.0 103.0L110.5 85.3M120.0 103.0L113.6 96.6M120.0 103.0L113.8 120.0M120.0 103.0L105.7 94.5M120.0 103.0L95.7 83.2M120.0 103.0L124.1 93.3M120.0 103.0L122.4 131.2M120.0 103.0L100.6 96.5M120.0 103.0L117.4 91.7M120.0 103.0L135.4 113.8M120.0 103.0L114.5 107.1M120.0 103.0L124.3 99.9M120.0 103.0L124.4 133.3M120.0 103.0L131.8 98.7M120.0 103.0L111.0 117.1M120.0 103.0L119.0 115.7M120.0 103.0L131.9 91.4M120.0 103.0L117.6 126.0M120.0 103.0L127.2 137.3M120.0 103.0L100.6 101.2M120.0 103.0L121.9 129.9M120.0 103.0L111.9 114.2M120.0 103.0L110.5 101.2M120.0 103.0L120.0 84.0M120.0 103.0L98.0 81.7M120.0 103.0L100.8 94.1M120.0 103.0L107.7 86.5M120.0 103.0L124.0 137.7M120.0 103.0L102.8 100.4M120.0 103.0L109.9 110.3M120.0 103.0L130.1 94.9M120.0 103.0L136.3 131.6M120.0 103.0L135.5 96.1M120.0 103.0L106.8 114.9M120.0 103.0L110.4 95.7M120.0 103.0L115.7 113.7M120.0 103.0L115.9 108.6M120.0 103.0L122.8 107.7M120.0 103.0L137.4 110.9M120.0 103.0L111.2 75.3M120.0 103.0L131.8 105.3M120.0 103.0L136.4 105.0M120.0 103.0L109.6 93.0M120.0 103.0L118.7 127.8M120.0 103.0L119.9 94.0M120.0 103.0L125.5 91.7M120.0 103.0L115.6 123.4M120.0 103.0L135.5 118.2M120.0 103.0L95.0 93.2M120.0 103.0L115.3 114.5M120.0 103.0L126.1 112.2M120.0 103.0L100.6 100.6M120.0 103.0L108.0 114.5M120.0 103.0L123.0 115.1M120.0 103.0L106.1 98.2M120.0 103.0L130.4 91.3M120.0 103.0L119.4 105.6M120.0 103.0L117.3 95.0M120.0 103.0L102.8 79.7M120.0 103.0L118.9 93.8M120.0 103.0L110.8 84.2M120.0 103.0L134.5 136.4M120.0 103.0L100.4 87.4M120.0 103.0L102.4 103.9M120.0 103.0L128.0 116.9M120.0 103.0L123.8 96.5M120.0 103.0L107.9 86.5M120.0 103.0L115.8 120.1M120.0 103.0L118.3 97.9M120.0 103.0L137.1 115.0M120.0 103.0L129.0 138.0M120.0 103.0L120.8 136.3M120.0 103.0L106.5 98.6M120.0 103.0L96.9 79.7M120.0 103.0L116.7 130.6M120.0 103.0L125.7 101.1M120.0 103.0L127.0 118.3M120.0 103.0L125.0 136.0M120.0 103.0L137.2 119.4M120.0 103.0L102.7 99.3M120.0 103.0L132.8 106.9M120.0 103.0L109.3 83.1M120.0 103.0L126.4 124.7M120.0 103.0L120.7 122.1M120.0 103.0L99.4 88.8M120.0 103.0L132.1 96.5M120.0 103.0L103.9 109.1M120.0 103.0L93.8 86.9M120.0 103.0L127.0 84.9M120.0 103.0L128.9 133.0M120.0 103.0L131.4 108.9M120.0 103.0L135.2 123.8M120.0 103.0L112.9 99.2M120.0 103.0L112.2 98.6M120.0 103.0L131.3 88.5M120.0 103.0L108.5 80.3M120.0 103.0L114.4 121.4M120.0 103.0L127.9 107.6M120.0 103.0L123.9 79.7M120.0 103.0L122.4 118.0M120.0 103.0L109.9 90.7M120.0 103.0L125.0 113.5M120.0 103.0L114.3 84.9M120.0 103.0L95.5 90.7M120.0 103.0L105.0 89.8M120.0 103.0L130.8 114.2M120.0 103.0L110.0 86.4M120.0 103.0L102.9 104.8M120.0 103.0L126.4 98.3M120.0 103.0L110.9 77.3M120.0 103.0L100.7 79.0M120.0 103.0L106.7 111.0M120.0 103.0L127.4 105.8M120.0 103.0L111.9 120.6M120.0 103.0L100.7 102.4M120.0 103.0L119.5 86.7M120.0 103.0L130.1 119.6M120.0 103.0L131.8 103.3M120.0 103.0L114.7 92.0M120.0 103.0L133.9 106.3M120.0 103.0L96.2 86.3M120.0 103.0L132.6 110.3M120.0 103.0L104.1 110.8M120.0 103.0L104.3 105.0M120.0 103.0L95.0 89.6M120.0 103.0L126.0 137.2M120.0 103.0L129.4 136.7M120.0 103.0L93.3 85.5M120.0 103.0L103.9 95.5M120.0 103.0L116.1 87.7M120.0 103.0L111.3 104.0M120.0 103.0L135.0 127.0M120.0 103.0L111.9 99.2M120.0 103.0L127.0 127.6M120.0 103.0L114.5 104.2M120.0 103.0L115.7 121.3M120.0 103.0L111.1 84.1M120.0 103.0L99.9 102.8M120.0 103.0L122.3 129.5M120.0 103.0L129.2 81.0M120.0 103.0L134.9 126.3M120.0 103.0L121.7 103.5M120.0 103.0L131.0 120.0M120.0 103.0L110.2 111.0M120.0 103.0L122.9 132.2M120.0 103.0L120.6 111.9M120.0 103.0L130.3 93.1M120.0 103.0L132.7 132.7M120.0 103.0L112.3 113.7M120.0 103.0L117.5 106.7M120.0 103.0L111.5 83.1M120.0 103.0L123.4 96.5M120.0 103.0L118.4 112.9M120.0 103.0L116.9 105.8M120.0 103.0L102.5 92.8M120.0 103.0L131.8 86.6M120.0 103.0L125.1 124.0M120.0 103.0L141.4 78.9M120.0 103.0L140.3 113.5M120.0 103.0L139.8 129.7M120.0 103.0L139.5 132.2M120.0 103.0L116.0 73.3M120.0 103.0L129.7 77.8M120.0 103.0L127.6 73.8M120.0 103.0L128.7 78.2M120.0 103.0L87.1 81.6M120.0 103.0L135.5 88.1M120.0 103.0L149.2 108.3M120.0 103.0L100.9 73.0M120.0 103.0L142.1 101.4M120.0 103.0L141.2 87.0M120.0 103.0L118.7 73.9M120.0 103.0L144.3 110.5M120.0 103.0L122.5 76.1M120.0 103.0L151.7 100.6M120.0 103.0L138.6 94.9M120.0 103.0L137.1 135.1M120.0 103.0L134.1 86.5M120.0 103.0L129.0 143.1M120.0 103.0L121.2 69.9M120.0 103.0L88.1 83.5M120.0 103.0L123.8 74.6M120.0 103.0L136.0 140.2M120.0 103.0L129.4 140.6M120.0 103.0L105.1 70.0M120.0 103.0L138.9 117.8M120.0 103.0L115.9 69.3M120.0 103.0L128.9 76.8M120.0 103.0L131.0 139.7M120.0 103.0L135.0 84.8M120.0 103.0L124.7 141.8M120.0 103.0L138.3 125.0M120.0 103.0L100.5 72.9M120.0 103.0L131.6 59.6M120.0 103.0L139.7 147.0M120.0 103.0L138.9 99.7M120.0 103.0L137.2 99.5M120.0 103.0L119.2 55.7M120.0 103.0L141.1 97.4M120.0 103.0L149.8 136.6M120.0 103.0L123.8 142.2M120.0 103.0L141.1 113.7M120.0 103.0L90.3 80.4M120.0 103.0L141.6 82.1M120.0 103.0L136.3 96.0M120.0 103.0L138.9 98.0M120.0 103.0L140.2 94.3M120.0 103.0L136.7 73.7M120.0 103.0L132.0 82.0M120.0 103.0L134.8 87.4M120.0 103.0L138.1 128.1M120.0 103.0L137.0 133.3M120.0 103.0L145.0 113.9M120.0 103.0L120.4 70.9M120.0 103.0L145.8 131.8M120.0 103.0L85.9 75.9M120.0 103.0L130.0 78.1M120.0 103.0L110.9 71.2M120.0 103.0L122.6 74.3M120.0 103.0L132.6 83.6M120.0 103.0L148.0 99.4M120.0 103.0L98.1 71.8M120.0 103.0L119.5 74.8M120.0 103.0L126.3 77.4M120.0 103.0L131.9 143.0M120.0 103.0L121.5 66.5M120.0 103.0L130.8 145.3M120.0 103.0L133.8 141.8M120.0 103.0L127.2 78.1M120.0 103.0L109.4 71.8M120.0 103.0L139.9 114.6M120.0 103.0L93.6 79.3M120.0 103.0L96.8 75.2M120.0 103.0L99.1 73.0M120.0 103.0L146.9 132.5M120.0 103.0L127.9 144.0M120.0 103.0L137.3 130.4M120.0 103.0L110.7 71.8M120.0 103.0L134.2 73.9M120.0 103.0L134.0 146.6M120.0 103.0L137.3 92.8M120.0 103.0L139.9 84.3M120.0 103.0L86.2 80.0M120.0 103.0L128.4 141.6M120.0 103.0L149.8 116.9M120.0 103.0L134.4 84.2M120.0 103.0L113.3 73.6M120.0 103.0L135.2 143.3M120.0 103.0L133.1 140.7M120.0 103.0L93.1 79.7M120.0 103.0L87.7 79.6M120.0 103.0L137.8 88.9M120.0 103.0L134.7 136.8M120.0 103.0L142.2 94.7M120.0 103.0L131.8 74.1M120.0 103.0L129.0 74.5M120.0 103.0L132.1 82.3M120.0 103.0L128.9 141.8M120.0 103.0L133.2 72.7M120.0 103.0L136.9 84.9M120.0 103.0L141.7 122.9M120.0 103.0L117.0 72.0M120.0 103.0L114.0 73.1M120.0 103.0L140.1 118.7M120.0 103.0L135.4 140.9M120.0 103.0L127.6 69.8M120.0 103.0L85.6 76.2M120.0 103.0L136.9 89.1M120.0 103.0L130.4 76.1M120.0 103.0L142.6 98.1M120.0 103.0L114.8 72.5M120.0 103.0L132.2 139.3M120.0 103.0L98.4 76.5M120.0 103.0L140.0 121.6M120.0 103.0L141.6 128.7M120.0 103.0L130.5 82.6M120.0 103.0L147.6 127.1M120.0 103.0L88.9 77.7M120.0 103.0L124.1 67.9M120.0 103.0L107.7 67.0M120.0 103.0L112.5 71.0M120.0 103.0L124.4 70.9M120.0 103.0L104.3 74.1M120.0 103.0L130.4 77.1M120.0 103.0L140.4 117.8M120.0 103.0L131.6 77.4M120.0 103.0L135.0 88.5M120.0 103.0L137.9 91.8M120.0 103.0L147.1 109.0M120.0 103.0L91.9 79.7M120.0 103.0L97.6 76.9M120.0 103.0L132.5 143.8M120.0 103.0L131.5 145.8M120.0 103.0L109.7 73.7M120.0 103.0L131.7 83.4M120.0 103.0L137.8 127.4M120.0 103.0L109.5 71.8M120.0 103.0L109.0 65.2M120.0 103.0L145.5 91.9M120.0 103.0L88.7 85.1M120.0 103.0L90.4 82.5M120.0 103.0L84.1 76.8M120.0 103.0L145.4 97.9M120.0 103.0L91.6 78.8M120.0 103.0L128.7 75.9M120.0 103.0L130.6 74.5M120.0 103.0L103.3 74.6M120.0 103.0L140.5 116.9M120.0 103.0L139.0 109.2M120.0 103.0L140.7 121.7M120.0 103.0L113.4 71.7M120.0 103.0L116.9 73.3M120.0 103.0L137.8 111.8M120.0 103.0L90.5 82.0M120.0 103.0L142.8 124.9M120.0 103.0L118.4 70.1M120.0 103.0L101.0 66.4M120.0 103.0L134.2 148.9M120.0 103.0L141.9 111.9M120.0 103.0L90.7 78.0M120.0 103.0L139.5 107.5M120.0 103.0L89.0 81.0M120.0 103.0L129.5 143.0M120.0 103.0L131.5 79.6M120.0 103.0L127.0 143.0M120.0 103.0L139.1 92.0M120.0 103.0L135.1 135.8M120.0 103.0L110.0 73.4M120.0 103.0L143.6 127.5M120.0 103.0L139.0 131.8M120.0 103.0L136.7 90.4M120.0 103.0L135.7 140.5M120.0 103.0L137.0 91.2M120.0 103.0L118.4 70.3M120.0 103.0L139.0 113.1M120.0 103.0L114.9 69.1M120.0 103.0L118.0 71.8M120.0 103.0L140.9 122.9M120.0 103.0L137.0 134.9M120.0 103.0L145.6 149.4M120.0 103.0L136.9 89.2M120.0 103.0L137.9 109.8M120.0 103.0L139.0 113.8M120.0 103.0L135.5 80.2M120.0 103.0L124.8 72.6M120.0 103.0L90.2 81.3M120.0 103.0L142.0 106.5M120.0 103.0L103.7 56.0M120.0 103.0L116.1 59.1M120.0 103.0L127.5 49.9M120.0 103.0L141.3 34.8M120.0 103.0L148.5 52.8M120.0 103.0L151.7 53.9M120.0 103.0L135.8 59.1M120.0 103.0L144.5 58.7M120.0 103.0L140.1 63.1M120.0 103.0L160.1 65.6M120.0 103.0L163.1 75.9M120.0 103.0L142.9 74.8M120.0 103.0L147.7 80.6M120.0 103.0L150.9 92.5M120.0 103.0L155.3 92.5M120.0 103.0L144.5 81.4M120.0 103.0L146.1 101.3M120.0 103.0L146.9 114.8M120.0 103.0L147.7 124.4M120.0 103.0L144.5 118.0M120.0 103.0L148.8 128.2M120.0 103.0L147.2 131.7M120.0 103.0L149.6 138.5M120.0 103.0L145.6 139.3M120.0 103.0L141.7 140.0M120.0 103.0L147.2 148.0M120.0 103.0L144.0 154.4M120.0 103.0L145.6 156.0M120.0 103.0L126.0 142.9M120.0 103.0L134.3 154.3M120.0 103.0L142.6 147.3M120.0 103.0L142.8 154.4M120.0 103.0L146.9 155.5M120.0 103.0L139.5 153.5M120.0 103.0L133.9 156.7M120.0 103.0L137.1 147.3M120.0 103.0L136.0 143.4M120.0 103.0L142.9 145.1M120.0 103.0L133.7 153.1M120.0 103.0L136.9 159.7M120.0 103.0L147.7 156.6M120.0 103.0L132.6 148.5M120.0 103.0L126.5 144.2M120.0 103.0L137.1 142.8M120.0 103.0L144.7 144.9M120.0 103.0L137.8 164.6M120.0 103.0L130.1 148.5M120.0 103.0L150.3 149.2M120.0 103.0L136.2 148.4M120.0 103.0L144.8 155.4M120.0 103.0L142.5 159.8M120.0 103.0L134.1 143.9M120.0 103.0L130.8 149.7M120.0 103.0L141.8 143.8M120.0 103.0L138.0 141.4M120.0 103.0L141.1 145.9M120.0 103.0L139.5 158.1M120.0 103.0L133.1 158.3M120.0 103.0L133.9 142.9M120.0 103.0L132.8 150.9M120.0 103.0L146.6 159.5M120.0 103.0L144.1 163.1M120.0 103.0L145.3 147.0M120.0 103.0L81.5 73.1M120.0 103.0L107.1 50.2M120.0 103.0L142.9 29.0M120.0 103.0L159.5 35.5M120.0 103.0L173.3 101.7M120.0 103.0L164.5 141.4M120.0 103.0L143.3 169.3M120.0 103.0L138.5 168.5" stroke="#7EB0D5" stroke-width="0.5" fill="none" stroke-opacity="1.0"/><path d="M81.0 154.0L78.1 151.7M81.0 154.0L76.2 140.0M81.0 154.0L75.9 148.1M81.0 154.0L72.4 181.7M81.0 154.0L84.1 197.4M81.0 154.0L69.2 162.5M81.0 154.0L81.6 140.4M81.0 154.0L85.4 170.6M81.0 154.0L74.8 145.8M81.0 154.0L105.2 186.8M81.0 154.0L71.7 180.8M81.0 154.0L72.8 147.5M81.0 154.0L71.9 178.6M81.0 154.0L75.9 147.1M81.0 154.0L70.2 154.9M81.0 154.0L96.8 192.5M81.0 154.0L88.6 182.2M81.0 154.0L109.9 182.9M81.0 154.0L83.1 141.0M81.0 154.0L96.2 156.7M81.0 154.0L96.0 168.6M81.0 154.0L100.8 189.3M81.0 154.0L84.3 164.3M81.0 154.0L91.6 155.1M81.0 154.0L83.5 191.3M81.0 154.0L92.2 166.4M81.0 154.0L85.7 186.6M81.0 154.0L75.7 174.8M81.0 154.0L69.0 174.8M81.0 154.0L103.2 188.4M81.0 154.0L86.8 148.3M81.0 154.0L75.4 181.8M81.0 154.0L90.8 195.8M81.0 154.0L90.8 176.4M81.0 154.0L84.2 154.9M81.0 154.0L87.2 160.2M81.0 154.0L92.3 190.3M81.0 154.0L92.5 180.5M81.0 154.0L99.8 174.0M81.0 154.0L74.8 151.2M81.0 154.0L89.0 174.6M81.0 154.0L80.8 132.2M81.0 154.0L70.5 183.0M81.0 154.0L72.5 165.1M81.0 154.0L89.1 150.8M81.0 154.0L83.8 178.5M81.0 154.0L78.2 165.7M81.0 154.0L76.5 130.6M81.0 154.0L91.7 195.8M81.0 154.0L89.7 192.0M81.0 154.0L78.5 162.9M81.0 154.0L79.7 185.2M81.0 154.0L84.4 137.6M81.0 154.0L79.6 178.6M81.0 154.0L105.3 184.5M81.0 154.0L100.4 182.7M81.0 154.0L76.3 165.2M81.0 154.0L107.9 192.7M81.0 154.0L76.7 189.3M81.0 154.0L80.0 137.1M81.0 154.0L92.1 177.0M81.0 154.0L83.1 132.7M81.0 154.0L73.0 170.6M81.0 154.0L72.6 164.7M81.0 154.0L103.0 180.8M81.0 154.0L73.1 140.5M81.0 154.0L96.1 166.5M81.0 154.0L81.7 161.1M81.0 154.0L100.0 170.7M81.0 154.0L92.4 185.5M81.0 154.0L88.2 174.9M81.0 154.0L76.0 184.0M81.0 154.0L92.1 161.0M81.0 154.0L91.3 169.5M81.0 154.0L85.5 182.6M81.0 154.0L70.9 187.8M81.0 154.0L74.5 141.3M81.0 154.0L110.7 190.8M81.0 154.0L107.2 192.4M81.0 154.0L80.0 129.5M81.0 154.0L110.0 183.9M81.0 154.0L78.4 174.6M81.0 154.0L70.3 187.2M81.0 154.0L80.8 152.2M81.0 154.0L81.5 193.5M81.0 154.0L86.9 193.8M81.0 154.0L105.6 184.4M81.0 154.0L77.7 173.4M81.0 154.0L80.2 152.6M81.0 154.0L102.3 167.0M81.0 154.0L84.3 171.0M81.0 154.0L83.0 160.6M81.0 154.0L94.1 161.6M81.0 154.0L101.6 195.2M81.0 154.0L76.5 193.9M81.0 154.0L109.4 185.9M81.0 154.0L87.2 163.6M81.0 154.0L89.3 195.5M81.0 154.0L78.3 188.6M81.0 154.0L69.8 179.0M81.0 154.0L78.0 185.8M81.0 154.0L92.0 185.4M81.0 154.0L81.8 157.9M81.0 154.0L96.0 166.5M81.0 154.0L85.4 178.5M81.0 154.0L93.8 170.1M81.0 154.0L82.0 131.3M81.0 154.0L76.6 155.5M81.0 154.0L109.1 189.7M81.0 154.0L93.9 186.1M81.0 154.0L83.9 192.8M81.0 154.0L84.3 167.5M81.0 154.0L77.6 149.8M81.0 154.0L88.1 191.5M81.0 154.0L69.5 152.7M81.0 154.0L81.9 143.0M81.0 154.0L89.4 144.9M81.0 154.0L74.3 179.8M81.0 154.0L69.2 172.6M81.0 154.0L79.5 151.2M81.0 154.0L107.7 179.4M81.0 154.0L101.4 192.8M81.0 154.0L88.8 152.5M81.0 154.0L105.2 174.7M81.0 154.0L101.0 187.8M81.0 154.0L94.0 174.6M81.0 154.0L73.5 161.6M81.0 154.0L90.5 184.4M81.0 154.0L75.6 160.3M81.0 154.0L96.8 189.6M81.0 154.0L94.1 174.0M81.0 154.0L75.7 187.9M81.0 154.0L78.8 161.1M81.0 154.0L69.5 171.7M81.0 154.0L71.4 137.6M81.0 154.0L97.0 167.3M81.0 154.0L88.9 178.6M81.0 154.0L71.2 184.4M81.0 154.0L78.3 156.3M81.0 154.0L111.1 192.1M81.0 154.0L83.7 134.3M81.0 154.0L80.1 163.2M81.0 154.0L73.7 158.4M81.0 154.0L86.6 193.0M81.0 154.0L78.6 155.9M81.0 154.0L88.4 187.5M81.0 154.0L85.5 196.2M81.0 154.0L109.3 190.6M81.0 154.0L86.0 184.3M81.0 154.0L97.7 184.5M81.0 154.0L80.0 181.5M81.0 154.0L74.1 189.2M81.0 154.0L85.7 150.4M81.0 154.0L74.2 172.0M81.0 154.0L79.6 158.5M81.0 154.0L77.2 125.5M81.0 154.0L76.1 192.5M81.0 154.0L93.2 191.0M81.0 154.0L81.8 132.2M81.0 154.0L88.9 161.3M81.0 154.0L68.7 161.6M81.0 154.0L76.8 188.2M81.0 154.0L100.2 167.9M81.0 154.0L111.6 188.9M81.0 154.0L102.6 187.4M81.0 154.0L85.3 178.0M81.0 154.0L87.2 161.8M81.0 154.0L98.6 192.7M81.0 154.0L88.6 195.7M81.0 154.0L85.4 144.3M81.0 154.0L110.6 187.8M81.0 154.0L96.6 185.3M81.0 154.0L98.2 161.6M81.0 154.0L102.4 186.1M81.0 154.0L97.5 180.1M81.0 154.0L94.5 189.3M81.0 154.0L87.1 191.2M81.0 154.0L78.4 138.1M81.0 154.0L105.6 178.1M81.0 154.0L91.1 189.9M81.0 154.0L97.2 170.9M81.0 154.0L93.1 155.5M81.0 154.0L75.5 153.8M81.0 154.0L92.5 181.7M81.0 154.0L79.0 176.3M81.0 154.0L79.7 192.0M81.0 154.0L71.3 151.4M81.0 154.0L97.7 194.3M81.0 154.0L82.9 155.2M81.0 154.0L105.5 188.1M81.0 154.0L90.7 175.9M81.0 154.0L71.0 176.1M81.0 154.0L77.9 171.8M81.0 154.0L81.3 168.6M81.0 154.0L90.1 148.4M81.0 154.0L98.0 174.7M81.0 154.0L88.8 164.7M81.0 154.0L78.1 155.7M81.0 154.0L98.9 173.6M81.0 154.0L80.2 136.9M81.0 154.0L75.6 183.2M81.0 154.0L97.3 164.7M81.0 154.0L98.4 194.9M81.0 154.0L108.3 184.5M81.0 154.0L92.7 169.2M81.0 154.0L82.6 154.4M81.0 154.0L101.4 195.0M81.0 154.0L72.3 171.7M81.0 154.0L94.6 160.4M81.0 154.0L112.2 186.8M81.0 154.0L97.0 192.8M81.0 154.0L82.9 194.8M81.0 154.0L94.0 181.5M81.0 154.0L89.3 149.1M81.0 154.0L86.9 161.2M81.0 154.0L82.6 148.4M81.0 154.0L85.1 165.6M81.0 154.0L72.5 167.2M81.0 154.0L81.3 150.8M81.0 154.0L82.2 133.3M81.0 154.0L106.0 186.3M81.0 154.0L77.2 185.9M81.0 154.0L91.7 154.7M81.0 154.0L97.0 161.1M81.0 154.0L82.7 183.7M81.0 154.0L77.8 167.7M81.0 154.0L85.9 166.6M81.0 154.0L76.9 134.1M81.0 154.0L96.6 178.7M81.0 154.0L105.3 172.1M81.0 154.0L95.7 190.6M81.0 154.0L91.0 159.9M81.0 154.0L90.1 157.3M81.0 154.0L98.2 181.7M81.0 154.0L104.7 193.4M81.0 154.0L98.3 165.3M81.0 154.0L69.5 142.4M81.0 154.0L77.1 172.9M81.0 154.0L89.3 171.3M81.0 154.0L96.9 158.2M81.0 154.0L69.5 173.8M81.0 154.0L75.0 140.6M81.0 154.0L77.9 197.4M81.0 154.0L82.1 155.8M81.0 154.0L69.8 146.0M81.0 154.0L72.1 190.7M81.0 154.0L87.6 145.2M81.0 154.0L85.0 143.1M81.0 154.0L82.3 168.9M81.0 154.0L92.8 192.4M81.0 154.0L76.1 145.9M81.0 154.0L80.3 140.1M81.0 154.0L86.4 156.9M81.0 154.0L73.1 175.6M81.0 154.0L85.6 160.2M81.0 154.0L85.0 143.8M81.0 154.0L96.2 163.1M81.0 154.0L97.6 162.2M81.0 154.0L78.6 153.6M81.0 154.0L91.6 172.5M81.0 154.0L97.7 173.8M81.0 154.0L83.6 167.0M81.0 154.0L78.4 147.3M81.0 154.0L75.9 137.9M81.0 154.0L102.8 183.0M81.0 154.0L100.9 192.5M81.0 154.0L103.2 186.7M81.0 154.0L90.2 161.1M81.0 154.0L80.1 147.6M81.0 154.0L76.2 172.9M81.0 154.0L84.8 166.9M81.0 154.0L90.9 179.1M81.0 154.0L80.8 193.3M81.0 154.0L85.3 150.8M81.0 154.0L107.9 186.3M81.0 154.0L101.3 193.8M81.0 154.0L91.0 186.7M81.0 154.0L97.8 181.1M81.0 154.0L89.3 194.4M81.0 154.0L69.0 167.6M81.0 154.0L78.9 144.0M81.0 154.0L108.8 180.5M81.0 154.0L97.3 179.3M81.0 154.0L73.7 186.1M81.0 154.0L79.5 189.1M81.0 154.0L89.7 166.0M81.0 154.0L104.7 179.0M81.0 154.0L110.6 182.6M81.0 154.0L79.6 129.5M81.0 154.0L100.5 171.1M81.0 154.0L71.5 169.8M81.0 154.0L92.9 175.7M81.0 154.0L69.0 153.9M81.0 154.0L88.1 166.7M81.0 154.0L76.1 150.5M81.0 154.0L102.7 168.8M81.0 154.0L103.6 190.3M81.0 154.0L80.8 163.7M81.0 154.0L81.4 173.6M81.0 154.0L79.1 192.4M81.0 154.0L107.2 188.9M81.0 154.0L81.3 195.3M81.0 154.0L74.4 147.9M81.0 154.0L97.7 195.8M81.0 154.0L79.7 153.9M81.0 154.0L92.8 181.3M81.0 154.0L97.6 177.2M81.0 154.0L72.5 161.7M81.0 154.0L85.6 172.3M81.0 154.0L75.3 137.6M81.0 154.0L80.8 160.7M81.0 154.0L70.2 151.6M81.0 154.0L92.3 185.3M81.0 154.0L91.7 194.0M81.0 154.0L109.9 183.7M81.0 154.0L71.0 137.6M81.0 154.0L77.6 143.8M81.0 154.0L84.7 150.8M81.0 154.0L87.4 164.4M81.0 154.0L96.3 179.8M81.0 154.0L103.0 177.4M81.0 154.0L89.2 164.8M81.0 154.0L80.8 182.8M81.0 154.0L80.7 152.8M81.0 154.0L93.3 154.6M81.0 154.0L99.7 193.6M81.0 154.0L88.3 178.5M81.0 154.0L77.5 194.9M81.0 154.0L69.8 149.9M81.0 154.0L82.7 195.6M81.0 154.0L72.1 182.9M81.0 154.0L109.2 184.1M81.0 154.0L93.6 175.7M81.0 154.0L95.2 180.4M81.0 154.0L82.3 179.9M81.0 154.0L85.0 142.4M81.0 154.0L68.0 161.2M81.0 154.0L73.0 187.1M81.0 154.0L89.4 184.3M81.0 154.0L74.7 184.8M81.0 154.0L85.8 157.1M81.0 154.0L96.6 176.8M81.0 154.0L82.3 140.1M81.0 154.0L91.4 184.6M81.0 154.0L94.8 179.6M81.0 154.0L84.6 189.6M81.0 154.0L91.8 194.1M81.0 154.0L111.0 185.0M81.0 154.0L85.1 154.9M81.0 154.0L76.1 130.8M81.0 154.0L84.4 150.8M81.0 154.0L76.6 170.4M81.0 154.0L87.1 184.3M81.0 154.0L90.4 192.6M81.0 154.0L92.5 161.7M81.0 154.0L98.8 166.5M81.0 154.0L110.6 182.6M81.0 154.0L92.8 186.8M81.0 154.0L84.5 137.9M81.0 154.0L71.7 153.2M81.0 154.0L79.8 145.7M81.0 154.0L82.1 147.3M81.0 154.0L91.5 192.0M81.0 154.0L75.5 149.1M81.0 154.0L84.5 171.0M81.0 154.0L96.1 194.2M81.0 154.0L78.7 163.7M81.0 154.0L70.4 170.4M81.0 154.0L111.8 190.3M81.0 154.0L105.5 193.0M81.0 154.0L71.5 180.5M81.0 154.0L89.8 164.3M81.0 154.0L96.1 168.1M81.0 154.0L70.0 175.1M81.0 154.0L86.6 183.5M81.0 154.0L85.9 144.9M81.0 154.0L80.8 140.5M81.0 154.0L86.4 142.0M81.0 154.0L110.0 183.9M81.0 154.0L79.2 185.9M81.0 154.0L97.0 166.0M81.0 154.0L100.0 191.6M81.0 154.0L83.5 164.4M81.0 154.0L77.8 145.2M81.0 154.0L70.6 140.5M81.0 154.0L74.1 190.0M81.0 154.0L77.4 186.8M81.0 154.0L85.8 153.2M81.0 154.0L109.5 185.4M81.0 154.0L109.8 181.4M81.0 154.0L78.8 132.1M81.0 154.0L94.3 158.7M81.0 154.0L84.1 145.0M81.0 154.0L90.5 171.6M81.0 154.0L105.0 191.3M81.0 154.0L74.9 163.5M81.0 154.0L86.0 153.1M81.0 154.0L86.4 143.2M81.0 154.0L103.9 181.0M81.0 154.0L76.7 149.9M81.0 154.0L86.4 163.3M81.0 154.0L87.2 162.8M81.0 154.0L83.9 177.5M81.0 154.0L100.6 168.0M81.0 154.0L89.9 145.9M81.0 154.0L84.7 168.4M81.0 154.0L92.7 193.9M81.0 154.0L71.2 162.5M81.0 154.0L106.8 190.0M81.0 154.0L83.0 158.6M81.0 154.0L96.7 168.8M81.0 154.0L77.7 179.8M81.0 154.0L91.2 147.1M81.0 154.0L98.0 184.4M81.0 154.0L83.8 180.0M81.0 154.0L68.4 172.6M81.0 154.0L75.5 184.3M81.0 154.0L83.4 175.2M81.0 154.0L85.0 190.3M81.0 154.0L73.1 161.2M81.0 154.0L109.3 185.2M81.0 154.0L77.7 159.7M81.0 154.0L74.4 155.5M81.0 154.0L76.5 176.3M81.0 154.0L84.5 138.6M81.0 154.0L98.3 188.7M81.0 154.0L71.9 185.8M81.0 154.0L82.2 165.5M81.0 154.0L87.0 176.1M81.0 154.0L76.0 184.6M81.0 154.0L71.8 188.1M81.0 154.0L69.3 151.0M81.0 154.0L86.6 168.4M81.0 154.0L88.6 191.7M81.0 154.0L74.6 160.7M81.0 154.0L83.5 191.7M81.0 154.0L83.4 168.1M81.0 154.0L76.2 158.1M81.0 154.0L82.9 185.9M81.0 154.0L100.8 169.6M81.0 154.0L89.3 167.9M81.0 154.0L93.2 179.4M81.0 154.0L74.4 180.4M81.0 154.0L91.7 190.8M81.0 154.0L78.0 160.8M81.0 154.0L72.2 155.4M81.0 154.0L78.7 150.7M81.0 154.0L75.5 171.0M81.0 154.0L85.5 143.4M81.0 154.0L92.8 176.9M81.0 154.0L72.6 179.6M81.0 154.0L80.6 150.1M81.0 154.0L88.9 173.1M81.0 154.0L84.2 172.8M81.0 154.0L70.8 154.4M81.0 154.0L102.0 187.0M81.0 154.0L90.7 177.3M81.0 154.0L86.6 160.4M81.0 154.0L84.3 161.8M81.0 154.0L101.6 192.3M81.0 154.0L73.1 182.7M81.0 154.0L96.8 193.4M81.0 154.0L89.0 161.5M81.0 154.0L77.6 179.5M81.0 154.0L72.5 152.4M81.0 154.0L93.6 165.1M81.0 154.0L77.5 149.7M81.0 154.0L75.8 165.5M81.0 154.0L81.7 167.6M81.0 154.0L85.3 160.6M81.0 154.0L89.4 166.1M81.0 154.0L81.7 139.7M81.0 154.0L73.7 142.0M81.0 154.0L74.7 161.5M81.0 154.0L69.5 165.5M81.0 154.0L68.3 151.0M81.0 154.0L92.2 177.8M81.0 154.0L95.5 193.2M81.0 154.0L100.1 188.5M81.0 154.0L93.5 179.9M81.0 154.0L85.3 150.4M81.0 154.0L82.9 142.4M81.0 154.0L90.9 161.0M81.0 154.0L82.3 151.0M81.0 154.0L83.6 187.5M81.0 154.0L71.6 153.0M81.0 154.0L74.4 187.2M81.0 154.0L95.4 160.1M81.0 154.0L88.0 178.4M81.0 154.0L79.8 154.2M81.0 154.0L93.2 178.7M81.0 154.0L100.5 163.5M81.0 154.0L81.9 193.8M81.0 154.0L91.6 189.9M81.0 154.0L88.3 180.7M81.0 154.0L109.9 180.6M81.0 154.0L73.7 184.0M81.0 154.0L81.3 170.9M81.0 154.0L81.6 192.0M81.0 154.0L92.7 193.7M81.0 154.0L79.9 158.8M81.0 154.0L108.3 182.1M81.0 154.0L77.9 176.9M81.0 154.0L87.5 187.4M81.0 154.0L87.4 152.0M81.0 154.0L103.8 175.5M81.0 154.0L108.0 183.3M81.0 154.0L93.7 195.8M81.0 154.0L71.8 166.8M81.0 154.0L75.8 160.7M81.0 154.0L71.9 134.5M81.0 154.0L99.5 188.9M81.0 154.0L91.4 158.9M81.0 154.0L74.1 166.4M81.0 154.0L83.6 165.8M81.0 154.0L84.8 169.8M81.0 154.0L80.9 139.8M81.0 154.0L73.9 149.2M81.0 154.0L85.7 150.7M81.0 154.0L80.0 151.7M81.0 154.0L87.9 154.6M81.0 154.0L83.6 179.3M81.0 154.0L92.8 157.0M81.0 154.0L88.1 142.4M81.0 154.0L77.9 126.7M81.0 154.0L90.1 152.6M81.0 154.0L83.3 186.9M81.0 154.0L86.3 148.1M81.0 154.0L97.1 195.2M81.0 154.0L102.3 188.4M81.0 154.0L70.9 154.3M81.0 154.0L80.4 136.9M81.0 154.0L81.6 188.8M81.0 154.0L81.9 165.8M81.0 154.0L96.7 181.9M81.0 154.0L71.0 147.6M81.0 154.0L86.5 152.7M81.0 154.0L76.9 185.7M81.0 154.0L108.9 182.9M81.0 154.0L88.6 177.4M81.0 154.0L86.1 157.2M81.0 154.0L97.3 190.1M81.0 154.0L85.1 175.0M81.0 154.0L101.0 168.2M81.0 154.0L72.6 162.1M81.0 154.0L74.2 167.8M81.0 154.0L87.6 195.7M81.0 154.0L72.7 168.2M81.0 154.0L73.3 172.5M81.0 154.0L78.7 193.9M81.0 154.0L84.1 156.9M81.0 154.0L71.2 180.8M81.0 154.0L72.0 151.3M81.0 154.0L85.0 153.7M81.0 154.0L84.7 182.6M81.0 154.0L73.1 136.0M81.0 154.0L74.2 167.5M81.0 154.0L92.9 156.2M81.0 154.0L103.9 187.6M81.0 154.0L71.9 140.2M81.0 154.0L81.5 157.4M81.0 154.0L100.0 181.1M81.0 154.0L75.6 171.0M81.0 154.0L87.9 142.6M81.0 154.0L114.3 191.5M81.0 154.0L72.1 164.5M81.0 154.0L76.8 165.2M81.0 154.0L76.9 144.3M81.0 154.0L75.9 162.0M81.0 154.0L93.0 169.3M81.0 154.0L92.4 153.1M81.0 154.0L96.9 172.6M81.0 154.0L69.3 150.2M81.0 154.0L84.8 197.1M81.0 154.0L104.9 194.4M81.0 154.0L89.6 153.5M81.0 154.0L86.9 163.4M81.0 154.0L83.5 136.9M81.0 154.0L76.2 159.2M81.0 154.0L68.2 166.5M81.0 154.0L91.5 184.1M81.0 154.0L90.0 166.6M81.0 154.0L83.1 192.6M81.0 154.0L101.0 178.5M81.0 154.0L70.4 172.5M81.0 154.0L84.9 190.2M81.0 154.0L94.6 185.6M81.0 154.0L84.4 140.6M81.0 154.0L102.4 187.6M81.0 154.0L71.8 188.1M81.0 154.0L76.2 161.3M81.0 154.0L109.0 183.0M81.0 154.0L82.3 140.6M81.0 154.0L85.1 187.0M81.0 154.0L69.3 174.7M81.0 154.0L85.9 148.3M81.0 154.0L81.4 181.5M81.0 154.0L73.5 135.5M81.0 154.0L84.9 183.0M81.0 154.0L93.0 181.9M81.0 154.0L82.0 131.9M81.0 154.0L91.0 168.2M81.0 154.0L75.6 182.8M81.0 154.0L81.2 168.2M81.0 154.0L88.2 195.2M81.0 154.0L98.0 163.4M81.0 154.0L69.8 159.7M81.0 154.0L70.1 171.0M81.0 154.0L89.2 156.6M81.0 154.0L102.9 188.9M81.0 154.0L72.9 147.2M81.0 154.0L74.1 146.9M81.0 154.0L86.2 147.3M81.0 154.0L95.4 176.3M81.0 154.0L92.3 177.5M81.0 154.0L84.9 151.3M81.0 154.0L92.5 168.3M81.0 154.0L95.3 179.1M81.0 154.0L81.5 171.0M81.0 154.0L80.4 197.3M81.0 154.0L81.5 136.8M81.0 154.0L98.2 193.3M81.0 154.0L82.6 172.1M81.0 154.0L101.4 170.3M81.0 154.0L81.7 136.1M81.0 154.0L72.4 155.2M81.0 154.0L99.4 177.2M81.0 154.0L81.0 192.5M81.0 154.0L97.4 172.4M81.0 154.0L72.9 130.5M81.0 154.0L71.2 162.4M81.0 154.0L71.6 139.6M81.0 154.0L82.6 147.5M81.0 154.0L85.2 185.4M81.0 154.0L85.6 160.5M81.0 154.0L76.9 196.2M81.0 154.0L84.1 167.6M81.0 154.0L98.9 170.5M81.0 154.0L80.2 146.0M81.0 154.0L94.0 171.3M81.0 154.0L70.0 153.2M81.0 154.0L86.3 176.0M81.0 154.0L76.3 148.4M81.0 154.0L68.1 151.9M81.0 154.0L80.4 167.1M81.0 154.0L77.8 154.7M81.0 154.0L78.5 159.5M81.0 154.0L79.2 163.8M81.0 154.0L90.0 154.4M81.0 154.0L71.0 143.0M81.0 154.0L77.7 179.6M81.0 154.0L68.7 163.4M81.0 154.0L80.3 161.3M81.0 154.0L73.1 169.3M81.0 154.0L76.7 183.4M81.0 154.0L95.8 176.0M81.0 154.0L87.2 178.7M81.0 154.0L104.8 193.0M81.0 154.0L75.9 128.5M81.0 154.0L73.0 146.0M81.0 154.0L90.9 195.1M81.0 154.0L83.0 169.6M81.0 154.0L98.6 180.7M81.0 154.0L74.8 134.0M81.0 154.0L96.0 191.8M81.0 154.0L74.0 141.8M81.0 154.0L87.5 179.5M81.0 154.0L92.7 168.0M81.0 154.0L94.2 173.9M81.0 154.0L72.9 154.0M81.0 154.0L79.3 183.8M81.0 154.0L72.0 168.1M81.0 154.0L102.9 184.1M81.0 154.0L77.8 125.3M81.0 154.0L107.8 184.5M81.0 154.0L79.2 168.8M81.0 154.0L80.3 169.2M81.0 154.0L107.0 187.5M81.0 154.0L79.4 149.3M81.0 154.0L103.7 184.3M81.0 154.0L87.0 163.5M81.0 154.0L95.3 158.0M81.0 154.0L112.6 184.8M81.0 154.0L74.6 184.0M81.0 154.0L104.3 181.0M81.0 154.0L100.2 177.8M81.0 154.0L86.9 145.8M81.0 154.0L93.8 160.0M81.0 154.0L90.3 160.3M81.0 154.0L98.5 186.1M81.0 154.0L73.7 154.2M81.0 154.0L78.6 138.8M81.0 154.0L93.1 153.0M81.0 154.0L98.1 175.5M81.0 154.0L81.2 132.8M81.0 154.0L73.2 136.3M81.0 154.0L86.0 195.6M81.0 154.0L92.9 177.8M81.0 154.0L79.7 170.0M81.0 154.0L70.2 169.1M81.0 154.0L74.5 138.3M81.0 154.0L86.7 151.6M81.0 154.0L89.7 187.6M81.0 154.0L71.2 164.2M81.0 154.0L69.5 178.9M81.0 154.0L72.1 167.9M81.0 154.0L91.4 151.6M81.0 154.0L79.7 164.9M81.0 154.0L108.5 182.0M81.0 154.0L74.6 179.0M81.0 154.0L90.9 153.1M81.0 154.0L89.8 160.0M81.0 154.0L96.9 186.0M81.0 154.0L98.3 168.8M81.0 154.0L105.3 192.0M81.0 154.0L83.5 190.3M81.0 154.0L93.2 177.6M81.0 154.0L95.6 156.4M81.0 154.0L72.7 141.3M81.0 154.0L94.5 174.4M81.0 154.0L81.0 139.8M81.0 154.0L95.7 165.1M81.0 154.0L112.7 191.3M81.0 154.0L74.0 177.4M81.0 154.0L96.5 165.1M81.0 154.0L83.4 168.7M81.0 154.0L72.0 182.1M81.0 154.0L82.7 143.4M81.0 154.0L97.9 170.9M81.0 154.0L90.8 168.4M81.0 154.0L80.1 168.5M81.0 154.0L84.2 152.4M81.0 154.0L109.0 178.7M81.0 154.0L73.9 188.7M81.0 154.0L70.2 183.5M81.0 154.0L74.9 193.1M81.0 154.0L104.6 177.0M81.0 154.0L93.2 152.6M81.0 154.0L74.3 177.1M81.0 154.0L77.3 149.8M81.0 154.0L93.2 158.1M81.0 154.0L71.4 169.9M81.0 154.0L80.0 140.4M81.0 154.0L76.3 158.7M81.0 154.0L91.4 149.7M81.0 154.0L90.9 194.3M81.0 154.0L78.0 190.1M81.0 154.0L92.6 168.1M81.0 154.0L72.7 194.0M81.0 154.0L90.2 189.6M81.0 154.0L80.0 175.1M81.0 154.0L77.0 137.0M81.0 154.0L95.7 166.4M81.0 154.0L103.7 194.5M81.0 154.0L85.5 151.2M81.0 154.0L80.2 133.0M81.0 154.0L96.5 170.2M81.0 154.0L87.3 178.1M81.0 154.0L104.6 177.1M81.0 154.0L89.0 162.7M81.0 154.0L93.7 176.1M81.0 154.0L104.4 191.4M81.0 154.0L98.2 181.4M81.0 154.0L79.3 154.8M81.0 154.0L88.0 151.6M81.0 154.0L88.0 167.3M81.0 154.0L87.5 155.8M81.0 154.0L95.7 168.8M81.0 154.0L76.0 159.4M81.0 154.0L79.8 143.0M81.0 154.0L102.2 178.5M81.0 154.0L71.6 144.2M81.0 154.0L75.7 156.1M81.0 154.0L89.3 185.1M81.0 154.0L95.0 164.1M81.0 154.0L74.6 157.7M81.0 154.0L73.7 193.6M81.0 154.0L90.1 168.9M81.0 154.0L112.4 189.0M81.0 154.0L104.4 193.2M81.0 154.0L102.8 175.1M81.0 154.0L71.0 182.8M81.0 154.0L71.3 157.1M81.0 154.0L69.2 154.3M81.0 154.0L80.7 145.7M81.0 154.0L89.8 181.0M81.0 154.0L86.2 146.2M81.0 154.0L86.8 139.6M81.0 154.0L76.1 138.8M81.0 154.0L75.7 130.2M81.0 154.0L101.5 177.4M81.0 154.0L78.1 147.9M81.0 154.0L104.6 185.9M81.0 154.0L91.5 160.1M81.0 154.0L94.4 173.7M81.0 154.0L106.1 192.4M81.0 154.0L91.7 162.5M81.0 154.0L98.9 185.9M81.0 154.0L82.8 184.9M81.0 154.0L71.6 187.0M81.0 154.0L76.6 186.8M81.0 154.0L73.5 184.6M81.0 154.0L79.6 186.5M81.0 154.0L92.9 161.2M81.0 154.0L95.3 161.5M81.0 154.0L91.6 147.5M81.0 154.0L87.5 166.6M81.0 154.0L103.1 186.1M81.0 154.0L85.4 149.6M81.0 154.0L76.3 177.7M81.0 154.0L79.0 169.2M81.0 154.0L106.9 176.8M81.0 154.0L85.0 187.0M81.0 154.0L96.8 184.7M81.0 154.0L83.4 134.5M81.0 154.0L80.8 168.1M81.0 154.0L102.6 175.3M81.0 154.0L78.0 194.9M81.0 154.0L101.8 176.0M81.0 154.0L88.2 163.8M81.0 154.0L104.5 181.9M81.0 154.0L77.4 146.7M81.0 154.0L79.0 196.1M81.0 154.0L75.1 162.5M81.0 154.0L81.1 191.6M81.0 154.0L99.2 189.4M81.0 154.0L84.6 186.7M81.0 154.0L80.6 161.6M81.0 154.0L92.8 150.5M81.0 154.0L77.2 170.3M81.0 154.0L70.0 142.6M81.0 154.0L93.4 157.6M81.0 154.0L92.7 149.7M81.0 154.0L69.8 155.9M81.0 154.0L76.6 149.3M81.0 154.0L90.1 196.3M81.0 154.0L97.0 157.8M81.0 154.0L92.2 151.8M81.0 154.0L91.5 154.9M81.0 154.0L85.0 162.8M81.0 154.0L90.1 172.6M81.0 154.0L91.3 149.9M81.0 154.0L87.2 193.8M81.0 154.0L101.2 166.2M81.0 154.0L85.0 177.1M81.0 154.0L70.1 152.6M81.0 154.0L91.0 147.2M81.0 154.0L76.5 167.6M81.0 154.0L96.6 189.6M81.0 154.0L83.0 146.1M81.0 154.0L74.5 172.3M81.0 154.0L87.2 175.7M81.0 154.0L82.8 149.0M81.0 154.0L90.9 178.6M81.0 154.0L102.5 191.3M81.0 154.0L97.4 174.2M81.0 154.0L78.8 137.3M81.0 154.0L77.8 144.6M81.0 154.0L72.7 173.1M81.0 154.0L79.7 133.6M81.0 154.0L79.0 134.9M81.0 154.0L85.2 166.2M81.0 154.0L94.4 176.3M81.0 154.0L76.1 155.7M81.0 154.0L91.3 178.5M81.0 154.0L73.6 143.7M81.0 154.0L87.0 166.6M81.0 154.0L80.6 156.1M81.0 154.0L71.3 181.7M81.0 154.0L76.6 171.4M81.0 154.0L87.6 193.0M81.0 154.0L94.1 192.9M81.0 154.0L109.9 190.2M81.0 154.0L98.7 181.4M81.0 154.0L77.5 182.1M81.0 154.0L72.4 175.6M81.0 154.0L79.5 168.1M81.0 154.0L82.5 193.3M81.0 154.0L115.0 190.7M81.0 154.0L97.3 163.9M81.0 154.0L80.0 185.7M81.0 154.0L85.3 191.1M81.0 154.0L70.7 140.9M81.0 154.0L68.4 151.8M81.0 154.0L93.6 167.1M81.0 154.0L70.4 142.0M81.0 154.0L74.4 185.6M81.0 154.0L71.3 159.0M81.0 154.0L88.9 145.6M81.0 154.0L78.2 152.0M81.0 154.0L86.1 169.5M81.0 154.0L78.9 192.4M81.0 154.0L86.4 171.3M81.0 154.0L78.2 140.8M81.0 154.0L80.6 161.5M81.0 154.0L81.8 144.9M81.0 154.0L87.0 174.3M81.0 154.0L90.3 148.3M81.0 154.0L68.4 174.3M81.0 154.0L81.6 144.8M81.0 154.0L70.0 140.3M81.0 154.0L77.9 181.2M81.0 154.0L90.6 194.6M81.0 154.0L82.5 190.5M81.0 154.0L72.6 133.2M81.0 154.0L76.4 177.0M81.0 154.0L71.7 153.8M81.0 154.0L102.7 173.0M81.0 154.0L77.1 143.6M81.0 154.0L101.1 180.9M81.0 154.0L106.2 181.6M81.0 154.0L88.5 163.3M81.0 154.0L74.9 185.6M81.0 154.0L76.2 195.1M81.0 154.0L83.4 184.3M81.0 154.0L72.5 168.5M81.0 154.0L87.9 188.4M81.0 154.0L74.0 168.1M81.0 154.0L94.3 193.6M81.0 154.0L88.8 168.3M81.0 154.0L87.7 192.5M81.0 154.0L86.4 179.6M81.0 154.0L96.7 159.2M81.0 154.0L84.9 160.2M81.0 154.0L71.3 144.4M81.0 154.0L88.3 180.8M81.0 154.0L75.2 149.5M81.0 154.0L88.2 177.9M81.0 154.0L90.0 193.6M81.0 154.0L76.1 169.3M81.0 154.0L67.7 168.3M81.0 154.0L104.4 171.5M81.0 154.0L72.6 170.4M81.0 154.0L72.3 136.7M81.0 154.0L102.9 193.8M81.0 154.0L102.1 171.7M81.0 154.0L113.6 191.5M81.0 154.0L72.7 190.9M81.0 154.0L92.9 190.3M81.0 154.0L75.2 132.0M81.0 154.0L78.9 154.2M81.0 154.0L80.1 192.7M81.0 154.0L87.4 189.1M81.0 154.0L91.5 156.1M81.0 154.0L94.7 170.4M81.0 154.0L78.6 152.1M81.0 154.0L101.5 194.5M81.0 154.0L73.0 148.6M81.0 154.0L100.2 188.6M81.0 154.0L85.1 192.0M81.0 154.0L88.2 150.5M81.0 154.0L83.7 187.6M81.0 154.0L69.2 184.1M81.0 154.0L83.9 170.0M81.0 154.0L68.4 175.4M81.0 154.0L81.8 184.5M81.0 154.0L91.8 166.5M81.0 154.0L80.2 142.1M81.0 154.0L71.8 166.4M81.0 154.0L96.6 175.4M81.0 154.0L102.5 190.5M81.0 154.0L78.0 136.5M81.0 154.0L84.1 170.7M81.0 154.0L94.9 169.8M81.0 154.0L76.4 190.7M81.0 154.0L73.7 155.1M81.0 154.0L88.9 189.6M81.0 154.0L71.2 174.4M81.0 154.0L75.6 177.7M81.0 154.0L74.2 161.9M81.0 154.0L81.5 138.9M81.0 154.0L73.0 141.6M81.0 154.0L73.7 168.7M81.0 154.0L79.8 179.9M81.0 154.0L85.3 196.9M81.0 154.0L87.9 186.0M81.0 154.0L88.7 168.7M81.0 154.0L81.9 144.0M81.0 154.0L87.4 171.6M81.0 154.0L110.9 192.9M81.0 154.0L105.7 182.1M81.0 154.0L93.2 153.6M81.0 154.0L84.6 144.8M81.0 154.0L71.3 178.7M81.0 154.0L83.0 166.0M81.0 154.0L93.6 167.0M81.0 154.0L71.8 150.6M81.0 154.0L92.5 195.4M81.0 154.0L74.4 168.9M81.0 154.0L92.5 155.1M81.0 154.0L99.6 191.5M81.0 154.0L83.6 168.8M81.0 154.0L90.3 146.2M81.0 154.0L91.8 177.5M81.0 154.0L77.7 167.4M81.0 154.0L96.4 190.9M81.0 154.0L80.6 164.0M81.0 154.0L74.2 181.6M81.0 154.0L77.7 160.8M81.0 154.0L98.1 175.6M81.0 154.0L104.7 187.5M81.0 154.0L89.2 188.9M81.0 154.0L90.9 181.8M81.0 154.0L98.5 175.6M81.0 154.0L73.1 131.7M81.0 154.0L91.5 167.2M81.0 154.0L107.8 185.7M81.0 154.0L76.3 164.0M81.0 154.0L93.2 190.4M81.0 154.0L102.1 189.3M81.0 154.0L93.3 155.5M81.0 154.0L81.3 144.0M81.0 154.0L72.9 170.1M81.0 154.0L74.5 176.0M81.0 154.0L88.3 168.3M81.0 154.0L74.2 153.2M81.0 154.0L87.7 156.5M81.0 154.0L73.3 150.9M81.0 154.0L76.8 168.6M81.0 154.0L80.1 141.0M81.0 154.0L94.9 195.1M81.0 154.0L77.4 189.4M81.0 154.0L100.1 162.9M81.0 154.0L75.7 185.7M81.0 154.0L78.9 137.2M81.0 154.0L83.2 172.8M81.0 154.0L90.0 190.9M81.0 154.0L78.9 182.7M81.0 154.0L93.8 182.3M81.0 154.0L88.4 173.2M81.0 154.0L85.8 166.9M81.0 154.0L77.4 164.6M81.0 154.0L101.0 192.2M81.0 154.0L96.8 187.4M81.0 154.0L87.2 190.4M81.0 154.0L70.9 155.4M81.0 154.0L88.5 155.2M81.0 154.0L98.0 189.8M81.0 154.0L81.1 192.4M81.0 154.0L104.1 181.6M81.0 154.0L84.0 187.2M81.0 154.0L76.4 138.8M81.0 154.0L95.8 175.3M81.0 154.0L95.7 165.8M81.0 154.0L102.9 192.0M81.0 154.0L79.4 142.7M81.0 154.0L97.8 169.8M81.0 154.0L71.1 188.1M81.0 154.0L76.3 196.9M81.0 154.0L105.4 178.9M81.0 154.0L74.8 147.8M81.0 154.0L96.6 189.3M81.0 154.0L108.3 184.6M81.0 154.0L69.7 172.2M81.0 154.0L74.6 191.2M81.0 154.0L95.3 176.1M81.0 154.0L84.0 144.6M81.0 154.0L112.9 191.6M81.0 154.0L87.1 150.1M81.0 154.0L69.4 168.7M81.0 154.0L71.4 176.6M81.0 154.0L77.5 173.1M81.0 154.0L96.0 180.4M81.0 154.0L79.3 164.9M81.0 154.0L77.8 156.4M81.0 154.0L68.0 150.9M81.0 154.0L72.9 176.9M81.0 154.0L89.0 167.2M81.0 154.0L102.5 187.4M81.0 154.0L83.0 195.8M81.0 154.0L69.9 183.5M81.0 154.0L72.4 182.1M81.0 154.0L74.8 178.1M81.0 154.0L80.3 144.6M81.0 154.0L99.9 186.3M81.0 154.0L87.2 159.6M81.0 154.0L102.7 191.2M81.0 154.0L82.9 162.3M81.0 154.0L74.8 171.4M81.0 154.0L94.5 169.8M81.0 154.0L74.0 158.7M81.0 154.0L83.1 168.1M81.0 154.0L75.4 166.8M81.0 154.0L74.1 182.7M81.0 154.0L100.2 182.7M81.0 154.0L82.4 131.8M81.0 154.0L87.2 175.5M81.0 154.0L75.4 175.5M81.0 154.0L90.2 174.5M81.0 154.0L83.2 146.0M81.0 154.0L83.2 174.6M81.0 154.0L96.0 169.6M81.0 154.0L100.6 179.7M81.0 154.0L88.4 151.0M81.0 154.0L86.9 171.1M81.0 154.0L93.2 196.4M81.0 154.0L76.7 158.5M81.0 154.0L92.6 152.3M81.0 154.0L72.4 190.0M81.0 154.0L78.4 126.3M81.0 154.0L69.9 154.0M81.0 154.0L90.8 151.8M81.0 154.0L89.9 163.7M81.0 154.0L102.3 178.9M81.0 154.0L76.7 164.0M81.0 154.0L104.1 180.9M81.0 154.0L74.0 138.1M81.0 154.0L73.0 153.4M81.0 154.0L94.3 175.5M81.0 154.0L78.5 177.1M81.0 154.0L73.8 175.1M81.0 154.0L108.7 189.9M81.0 154.0L109.3 191.4M81.0 154.0L84.7 161.4M81.0 154.0L72.8 138.2M81.0 154.0L81.6 154.6M81.0 154.0L99.7 176.7M81.0 154.0L101.4 169.2M81.0 154.0L69.4 160.4M81.0 154.0L68.1 172.8M81.0 154.0L74.2 191.2M81.0 154.0L91.8 173.7M81.0 154.0L76.6 136.0M81.0 154.0L82.7 189.8M81.0 154.0L82.3 155.3M81.0 154.0L88.6 176.9M81.0 154.0L78.4 144.2M81.0 154.0L79.3 193.7M81.0 154.0L75.4 136.9M81.0 154.0L87.6 141.6M81.0 154.0L94.0 187.9M81.0 154.0L103.6 176.5M81.0 154.0L85.1 184.1M81.0 154.0L77.3 178.4M81.0 154.0L90.5 158.8M81.0 154.0L74.5 138.9M81.0 154.0L82.4 154.4M81.0 154.0L76.9 175.3M81.0 154.0L90.0 165.6M81.0 154.0L81.9 176.5M81.0 154.0L96.4 187.7M81.0 154.0L91.9 162.7M81.0 154.0L92.4 186.3M81.0 154.0L101.7 189.9M81.0 154.0L93.5 181.2M81.0 154.0L80.2 167.7M81.0 154.0L71.7 152.1M81.0 154.0L69.3 166.6M81.0 154.0L72.3 132.6M81.0 154.0L84.5 182.6M81.0 154.0L84.8 191.3M81.0 154.0L95.7 194.0M81.0 154.0L80.4 151.5M81.0 154.0L105.9 176.2M81.0 154.0L84.2 194.1M81.0 154.0L94.4 168.2M81.0 154.0L80.4 188.3M81.0 154.0L106.7 175.5M81.0 154.0L89.3 190.4M81.0 154.0L84.0 182.6M81.0 154.0L99.8 190.7M81.0 154.0L83.5 195.5M81.0 154.0L71.4 148.9M81.0 154.0L79.8 152.7M81.0 154.0L68.4 154.8M81.0 154.0L86.1 171.9M81.0 154.0L82.6 189.4M81.0 154.0L92.1 173.3M81.0 154.0L102.7 179.2M81.0 154.0L90.0 178.5M81.0 154.0L82.4 166.8M81.0 154.0L74.3 131.1M81.0 154.0L75.2 165.3M81.0 154.0L79.6 161.5M81.0 154.0L110.0 184.1M81.0 154.0L84.0 189.3M81.0 154.0L73.5 173.5M81.0 154.0L70.0 176.3M81.0 154.0L86.7 196.1M81.0 154.0L87.1 188.0M81.0 154.0L88.5 156.6M81.0 154.0L85.5 178.0M81.0 154.0L86.5 162.7M81.0 154.0L72.1 179.6M81.0 154.0L74.1 166.8M81.0 154.0L78.1 168.0M81.0 154.0L74.4 146.5M81.0 154.0L71.5 172.4M81.0 154.0L84.1 149.1M81.0 154.0L80.7 169.8M81.0 154.0L103.3 190.2M81.0 154.0L83.5 151.5M81.0 154.0L98.2 166.9M81.0 154.0L72.9 149.4M81.0 154.0L106.8 184.4M81.0 154.0L100.2 185.6M81.0 154.0L85.1 193.3M81.0 154.0L89.5 181.7M81.0 154.0L89.2 154.4M81.0 154.0L78.2 154.5M81.0 154.0L99.9 194.4M81.0 154.0L76.0 179.6M81.0 154.0L82.4 195.8M81.0 154.0L82.8 150.9M81.0 154.0L76.3 151.7M81.0 154.0L83.8 148.1M81.0 154.0L94.4 156.5M81.0 154.0L74.5 154.9M81.0 154.0L92.1 194.5M81.0 154.0L68.1 165.5M81.0 154.0L80.0 137.9M81.0 154.0L81.5 132.7M81.0 154.0L104.1 176.4M81.0 154.0L97.4 177.6M81.0 154.0L87.9 176.9M81.0 154.0L91.6 177.6M81.0 154.0L101.3 194.2M81.0 154.0L68.6 164.6M81.0 154.0L101.0 193.4M81.0 154.0L81.6 179.3M81.0 154.0L78.8 170.7M81.0 154.0L74.5 152.3M81.0 154.0L69.6 174.8M81.0 154.0L86.2 192.2M81.0 154.0L72.5 180.7M81.0 154.0L93.6 177.7M81.0 154.0L68.6 166.4M81.0 154.0L73.4 140.2M81.0 154.0L80.1 166.8M81.0 154.0L94.2 182.1M81.0 154.0L75.8 151.4M81.0 154.0L93.9 157.6M81.0 154.0L87.1 146.5M81.0 154.0L81.4 150.3M81.0 154.0L74.3 186.6M81.0 154.0L102.1 182.1M81.0 154.0L97.6 162.7M81.0 154.0L100.4 192.6M81.0 154.0L84.5 182.8M81.0 154.0L72.1 166.1M81.0 154.0L92.6 188.2M81.0 154.0L79.3 195.4M81.0 154.0L77.3 159.5M81.0 154.0L90.7 153.9M81.0 154.0L71.3 187.8M81.0 154.0L97.4 166.4M81.0 154.0L92.8 151.4M81.0 154.0L94.4 158.3M81.0 154.0L92.3 158.6M81.0 154.0L77.8 164.6M81.0 154.0L80.9 175.8M81.0 154.0L93.6 163.2M81.0 154.0L74.0 136.8M81.0 154.0L68.7 160.3M81.0 154.0L76.8 161.3M81.0 154.0L109.7 180.9M81.0 154.0L96.7 173.1M81.0 154.0L69.0 155.4M81.0 154.0L95.9 155.1M81.0 154.0L82.8 185.0M81.0 154.0L77.3 165.8M81.0 154.0L88.6 148.3M81.0 154.0L82.9 137.4M81.0 154.0L77.3 190.1M81.0 154.0L74.8 191.1M81.0 154.0L102.5 195.3M81.0 154.0L98.5 174.1M81.0 154.0L82.3 179.4M81.0 154.0L83.4 170.9M81.0 154.0L81.7 161.1M81.0 154.0L99.9 166.1M81.0 154.0L84.2 182.7M81.0 154.0L92.8 152.2M81.0 154.0L85.2 179.6M81.0 154.0L76.4 185.9M81.0 154.0L97.5 187.8M81.0 154.0L98.7 179.3M81.0 154.0L98.4 180.9M81.0 154.0L96.5 168.8M81.0 154.0L71.4 150.4M81.0 154.0L102.4 183.1M81.0 154.0L88.8 167.0M81.0 154.0L73.4 163.1M81.0 154.0L103.7 180.1M81.0 154.0L72.4 177.3M81.0 154.0L75.6 140.7M81.0 154.0L81.7 196.0M81.0 154.0L79.0 197.2M81.0 154.0L81.4 152.8M81.0 154.0L76.5 172.0M81.0 154.0L101.9 165.6M81.0 154.0L89.2 186.2M81.0 154.0L82.8 182.7M81.0 154.0L81.7 182.6M81.0 154.0L95.4 186.0M81.0 154.0L108.3 177.1M81.0 154.0L82.2 175.8M81.0 154.0L114.9 189.8M81.0 154.0L81.1 166.5M81.0 154.0L82.8 139.4M81.0 154.0L63.1 192.1M81.0 154.0L77.2 199.1M81.0 154.0L75.0 196.7M81.0 154.0L68.3 144.9M81.0 154.0L68.7 130.5M81.0 154.0L69.1 127.6M81.0 154.0L71.8 132.3M81.0 154.0L72.9 128.1M81.0 154.0L98.8 197.9M81.0 154.0L65.0 158.0M81.0 154.0L61.4 173.7M81.0 154.0L68.2 189.3M81.0 154.0L98.4 198.9M81.0 154.0L82.4 197.9M81.0 154.0L75.0 203.5M81.0 154.0L65.4 128.8M81.0 154.0L69.4 193.8M81.0 154.0L77.0 197.7M81.0 154.0L96.8 198.9M81.0 154.0L81.8 201.4M81.0 154.0L70.7 134.2M81.0 154.0L68.3 139.9M81.0 154.0L70.1 133.6M81.0 154.0L108.3 194.1M81.0 154.0L66.1 175.3M81.0 154.0L89.2 201.5M81.0 154.0L66.7 169.1M81.0 154.0L96.3 196.6M81.0 154.0L66.0 154.6M81.0 154.0L93.2 197.7M81.0 154.0L74.6 120.9M81.0 154.0L70.9 125.8M81.0 154.0L67.4 165.3M81.0 154.0L71.4 200.2M81.0 154.0L71.4 127.6M81.0 154.0L76.5 121.7M81.0 154.0L67.0 187.1M81.0 154.0L66.2 191.6M81.0 154.0L76.4 121.3M81.0 154.0L67.2 186.3M81.0 154.0L72.0 194.2M81.0 154.0L70.1 134.9M81.0 154.0L83.1 201.0M81.0 154.0L67.4 161.2M81.0 154.0L106.0 194.5M81.0 154.0L62.8 144.7M81.0 154.0L63.9 154.2M81.0 154.0L63.8 161.8M81.0 154.0L99.1 196.7M81.0 154.0L72.6 196.3M81.0 154.0L64.7 131.2M81.0 154.0L76.2 123.5M81.0 154.0L70.3 189.6M81.0 154.0L69.7 191.0M81.0 154.0L73.8 196.1M81.0 154.0L95.0 199.6M81.0 154.0L61.5 187.6M81.0 154.0L70.9 122.9M81.0 154.0L68.5 136.9M81.0 154.0L66.1 162.9M81.0 154.0L70.1 190.7M81.0 154.0L65.6 137.5M81.0 154.0L61.8 146.7M81.0 154.0L80.1 207.5M81.0 154.0L65.7 161.4M81.0 154.0L68.1 175.5M81.0 154.0L72.6 198.3M81.0 154.0L70.2 190.2M81.0 154.0L68.9 196.4M81.0 154.0L64.2 158.0M81.0 154.0L64.5 145.8M81.0 154.0L66.8 160.6M81.0 154.0L64.9 163.7M81.0 154.0L65.7 163.4M81.0 154.0L65.8 165.6M81.0 154.0L83.1 203.4M81.0 154.0L70.3 191.2M81.0 154.0L69.8 196.8M81.0 154.0L90.2 198.6M81.0 154.0L60.6 168.0M81.0 154.0L69.7 197.1M81.0 154.0L85.3 197.6M81.0 154.0L65.2 147.3M81.0 154.0L62.1 170.8M81.0 154.0L70.3 136.1M81.0 154.0L65.8 173.6M81.0 154.0L67.0 159.5M81.0 154.0L68.2 130.0M81.0 154.0L66.7 146.6M81.0 154.0L68.0 176.3M81.0 154.0L66.6 141.5M81.0 154.0L67.1 174.0M81.0 154.0L64.5 175.4M81.0 154.0L61.7 174.1M81.0 154.0L68.0 175.4M81.0 154.0L69.3 124.5M81.0 154.0L66.0 162.4M81.0 154.0L71.7 120.3M81.0 154.0L66.7 165.7M81.0 154.0L74.9 197.7M81.0 154.0L64.5 164.2M81.0 154.0L65.3 141.2M81.0 154.0L61.9 167.5M81.0 154.0L67.6 171.3M81.0 154.0L65.4 152.1M81.0 154.0L66.1 195.8M81.0 154.0L96.0 196.6M81.0 154.0L81.3 198.6M81.0 154.0L97.4 196.7M81.0 154.0L66.1 170.0M81.0 154.0L72.8 195.1M81.0 154.0L77.0 198.7M81.0 154.0L69.8 137.8M81.0 154.0L76.1 200.1M81.0 154.0L66.6 166.5M81.0 154.0L69.1 194.6M81.0 154.0L85.8 200.5M81.0 154.0L64.1 172.1M81.0 154.0L82.0 198.1M81.0 154.0L70.6 136.7M81.0 154.0L64.2 187.5M81.0 154.0L64.0 126.5M81.0 154.0L81.0 199.6M81.0 154.0L65.6 160.5M81.0 154.0L68.0 198.4M81.0 154.0L80.6 201.4M81.0 154.0L72.6 128.7M81.0 154.0L87.2 204.0M81.0 154.0L63.2 162.8M81.0 154.0L60.7 158.4M81.0 154.0L66.4 151.0M81.0 154.0L76.0 123.0M81.0 154.0L62.6 175.5M81.0 154.0L66.1 177.1M81.0 154.0L70.5 119.9M81.0 154.0L94.4 197.5M81.0 154.0L61.5 149.2M81.0 154.0L67.6 136.7M81.0 154.0L71.1 121.3M81.0 154.0L68.4 195.7M81.0 154.0L63.3 181.7M81.0 154.0L68.1 175.0M81.0 154.0L63.0 174.3M81.0 154.0L69.0 194.5M81.0 154.0L64.7 120.6M81.0 154.0L88.3 199.7M81.0 154.0L71.1 133.7M81.0 154.0L74.4 208.3M81.0 154.0L68.3 181.9M81.0 154.0L72.3 204.5M81.0 154.0L67.5 114.2M81.0 154.0L71.8 113.0M81.0 154.0L118.5 191.0M81.0 154.0L117.9 190.2M81.0 154.0L68.5 213.3M81.0 154.0L62.1 197.5M81.0 154.0L58.3 160.0M81.0 154.0L58.0 133.8" stroke="#FD7F6F" stroke-width="0.5" fill="none" stroke-opacity="1.0"/><path d="M100.0 137.0L95.0 104.1M100.0 137.0L97.9 108.6M100.0 137.0L109.0 169.8M100.0 137.0L103.4 158.1M100.0 137.0L88.4 116.8M100.0 137.0L110.3 134.2M100.0 137.0L97.6 134.8M100.0 137.0L91.4 122.2M100.0 137.0L77.2 121.1M100.0 137.0L93.7 109.6M100.0 137.0L90.9 138.6M100.0 137.0L100.4 153.9M100.0 137.0L105.0 149.8M100.0 137.0L113.1 135.4M100.0 137.0L101.7 143.8M100.0 137.0L91.0 116.2M100.0 137.0L89.0 133.3M100.0 137.0L90.3 95.3M100.0 137.0L93.7 108.3M100.0 137.0L120.1 144.4M100.0 137.0L109.2 131.5M100.0 137.0L112.7 138.2M100.0 137.0L112.4 162.5M100.0 137.0L122.9 142.8M100.0 137.0L97.0 113.2M100.0 137.0L77.2 117.7M100.0 137.0L112.4 138.4M100.0 137.0L83.9 112.0M100.0 137.0L87.5 95.8M100.0 137.0L99.7 147.2M100.0 137.0L89.6 119.9M100.0 137.0L109.3 151.1M100.0 137.0L99.4 110.3M100.0 137.0L107.0 126.9M100.0 137.0L117.6 148.6M100.0 137.0L93.5 107.7M100.0 137.0L116.5 148.3M100.0 137.0L116.9 151.7M100.0 137.0L103.2 124.8M100.0 137.0L113.4 127.6M100.0 137.0L94.0 134.7M100.0 137.0L85.0 133.4M100.0 137.0L121.8 146.8M100.0 137.0L114.4 162.2M100.0 137.0L87.7 121.1M100.0 137.0L89.4 106.1M100.0 137.0L93.5 105.8M100.0 137.0L90.1 129.7M100.0 137.0L89.7 120.0M100.0 137.0L110.4 146.9M100.0 137.0L99.5 122.5M100.0 137.0L95.1 115.1M100.0 137.0L88.0 130.9M100.0 137.0L101.5 107.8M100.0 137.0L114.6 144.4M100.0 137.0L82.6 125.3M100.0 137.0L113.6 136.9M100.0 137.0L101.4 116.4M100.0 137.0L89.9 113.9M100.0 137.0L87.9 122.5M100.0 137.0L86.4 127.8M100.0 137.0L89.9 141.2M100.0 137.0L87.7 115.2M100.0 137.0L92.8 109.8M100.0 137.0L97.1 122.3M100.0 137.0L85.6 112.3M100.0 137.0L95.8 130.5M100.0 137.0L92.1 138.0M100.0 137.0L107.0 128.3M100.0 137.0L87.5 136.9M100.0 137.0L109.8 135.9M100.0 137.0L81.3 115.2M100.0 137.0L91.1 134.8M100.0 137.0L74.9 117.5M100.0 137.0L96.9 103.5M100.0 137.0L117.1 159.6M100.0 137.0L106.2 150.8M100.0 137.0L94.8 113.3M100.0 137.0L95.5 104.5M100.0 137.0L93.7 106.1M100.0 137.0L100.6 108.4M100.0 137.0L101.4 137.0M100.0 137.0L124.3 145.6M100.0 137.0L110.7 155.8M100.0 137.0L84.3 95.3M100.0 137.0L99.1 153.6M100.0 137.0L93.0 132.1M100.0 137.0L99.6 121.3M100.0 137.0L109.2 148.6M100.0 137.0L97.5 139.1M100.0 137.0L94.9 98.6M100.0 137.0L82.5 124.4M100.0 137.0L86.3 104.1M100.0 137.0L100.5 137.6M100.0 137.0L84.8 111.7M100.0 137.0L99.1 150.4M100.0 137.0L116.2 159.7M100.0 137.0L85.6 123.0M100.0 137.0L98.5 131.7M100.0 137.0L105.4 157.1M100.0 137.0L102.1 113.7M100.0 137.0L99.4 142.6M100.0 137.0L99.0 137.2M100.0 137.0L91.5 135.3M100.0 137.0L86.3 133.5M100.0 137.0L100.4 157.6M100.0 137.0L94.8 147.6M100.0 137.0L90.8 114.7M100.0 137.0L77.3 118.3M100.0 137.0L110.8 168.0M100.0 137.0L94.6 145.4M100.0 137.0L117.7 134.3M100.0 137.0L85.5 126.5M100.0 137.0L113.4 147.1M100.0 137.0L94.6 119.4M100.0 137.0L109.3 141.2M100.0 137.0L76.7 119.2M100.0 137.0L108.8 123.2M100.0 137.0L95.5 134.5M100.0 137.0L103.0 113.9M100.0 137.0L86.7 101.8M100.0 137.0L92.1 142.8M100.0 137.0L84.5 103.3M100.0 137.0L100.7 143.5M100.0 137.0L91.0 135.5M100.0 137.0L122.8 143.8M100.0 137.0L96.3 151.1M100.0 137.0L98.6 117.3M100.0 137.0L79.6 124.8M100.0 137.0L88.9 129.4M100.0 137.0L102.4 128.8M100.0 137.0L105.7 127.0M100.0 137.0L94.6 115.7M100.0 137.0L112.2 146.3M100.0 137.0L89.5 133.9M100.0 137.0L94.8 148.7M100.0 137.0L100.1 144.1M100.0 137.0L118.7 151.1M100.0 137.0L114.8 147.3M100.0 137.0L106.4 147.7M100.0 137.0L84.7 104.2M100.0 137.0L108.9 131.3M100.0 137.0L100.3 117.0M100.0 137.0L83.5 104.2M100.0 137.0L86.7 97.6M100.0 137.0L104.4 125.1M100.0 137.0L93.4 126.3M100.0 137.0L90.0 135.5M100.0 137.0L101.9 125.6M100.0 137.0L78.8 108.3M100.0 137.0L102.7 124.8M100.0 137.0L111.6 158.3M100.0 137.0L106.4 141.6M100.0 137.0L100.8 138.6M100.0 137.0L105.7 145.2M100.0 137.0L88.0 101.1M100.0 137.0L94.4 108.7M100.0 137.0L110.8 137.3M100.0 137.0L114.2 147.5M100.0 137.0L99.3 107.5M100.0 137.0L91.1 120.7M100.0 137.0L109.1 134.6M100.0 137.0L106.7 121.2M100.0 137.0L77.1 111.5M100.0 137.0L94.0 109.6M100.0 137.0L73.9 115.9M100.0 137.0L115.6 151.9M100.0 137.0L98.9 153.4M100.0 137.0L85.4 117.1M100.0 137.0L99.9 127.3M100.0 137.0L111.6 160.2M100.0 137.0L91.5 119.9M100.0 137.0L77.8 108.7M100.0 137.0L98.2 104.4M100.0 137.0L93.1 119.3M100.0 137.0L95.5 106.2M100.0 137.0L97.2 116.3M100.0 137.0L89.2 102.5M100.0 137.0L97.6 127.4M100.0 137.0L94.0 128.0M100.0 137.0L112.1 158.1M100.0 137.0L118.8 141.3M100.0 137.0L86.9 127.9M100.0 137.0L120.1 143.3M100.0 137.0L112.0 125.7M100.0 137.0L104.9 145.5M100.0 137.0L111.4 156.0M100.0 137.0L87.4 130.5M100.0 137.0L100.6 131.7M100.0 137.0L80.0 115.2M100.0 137.0L114.1 146.8M100.0 137.0L85.2 100.8M100.0 137.0L97.3 134.5M100.0 137.0L100.7 108.1M100.0 137.0L94.7 143.9M100.0 137.0L101.5 140.9M100.0 137.0L90.6 129.6M100.0 137.0L106.7 122.0M100.0 137.0L112.2 147.6M100.0 137.0L89.7 114.3M100.0 137.0L114.0 144.0M100.0 137.0L107.4 167.6M100.0 137.0L115.8 147.7M100.0 137.0L115.2 154.0M100.0 137.0L78.6 123.5M100.0 137.0L81.1 101.6M100.0 137.0L90.4 106.4M100.0 137.0L118.4 135.7M100.0 137.0L117.3 154.8M100.0 137.0L94.2 95.6M100.0 137.0L104.3 115.9M100.0 137.0L110.5 171.9M100.0 137.0L113.9 144.2M100.0 137.0L101.9 159.3M100.0 137.0L95.7 114.3M100.0 137.0L80.2 110.6M100.0 137.0L113.5 161.0M100.0 137.0L101.7 147.6M100.0 137.0L107.1 142.2M100.0 137.0L112.2 147.4M100.0 137.0L107.3 152.2M100.0 137.0L86.0 102.7M100.0 137.0L99.1 113.6M100.0 137.0L106.0 120.5M100.0 137.0L104.6 154.2M100.0 137.0L87.2 110.7M100.0 137.0L102.0 129.3M100.0 137.0L108.1 154.8M100.0 137.0L81.5 120.2M100.0 137.0L90.9 112.4M100.0 137.0L107.2 141.1M100.0 137.0L89.1 124.3M100.0 137.0L78.3 107.4M100.0 137.0L93.0 143.5M100.0 137.0L118.6 142.2M100.0 137.0L89.0 102.9M100.0 137.0L100.3 145.7M100.0 137.0L83.9 126.7M100.0 137.0L120.5 153.2M100.0 137.0L117.2 159.0M100.0 137.0L102.0 154.2M100.0 137.0L120.2 154.3M100.0 137.0L88.2 122.2M100.0 137.0L76.5 117.5M100.0 137.0L113.9 149.7M100.0 137.0L79.1 123.6M100.0 137.0L104.6 134.2M100.0 137.0L92.0 103.4M100.0 137.0L106.3 139.4M100.0 137.0L105.3 164.8M100.0 137.0L86.9 134.9M100.0 137.0L105.9 134.5M100.0 137.0L95.2 117.4M100.0 137.0L92.2 94.1M100.0 137.0L98.7 146.7M100.0 137.0L76.8 110.0M100.0 137.0L94.2 121.4M100.0 137.0L105.1 164.7M100.0 137.0L116.9 154.3M100.0 137.0L113.2 159.9M100.0 137.0L87.2 106.7M100.0 137.0L102.8 141.1M100.0 137.0L92.5 105.4M100.0 137.0L104.1 161.5M100.0 137.0L96.4 146.1M100.0 137.0L95.1 107.5M100.0 137.0L117.5 139.7M100.0 137.0L104.5 153.9M100.0 137.0L115.2 158.4M100.0 137.0L88.0 132.7M100.0 137.0L96.1 124.3M100.0 137.0L94.9 116.9M100.0 137.0L88.9 122.0M100.0 137.0L112.5 163.2M100.0 137.0L88.0 120.7M100.0 137.0L86.1 119.1M100.0 137.0L106.7 163.3M100.0 137.0L109.3 135.6M100.0 137.0L84.0 127.9M100.0 137.0L89.6 109.0M100.0 137.0L101.4 140.5M100.0 137.0L93.3 116.3M100.0 137.0L99.3 111.6M100.0 137.0L109.8 149.6M100.0 137.0L94.6 126.1M100.0 137.0L89.7 128.2M100.0 137.0L80.1 116.8M100.0 137.0L94.2 138.3M100.0 137.0L113.5 165.2M100.0 137.0L91.1 99.5M100.0 137.0L111.2 158.4M100.0 137.0L94.3 98.3M100.0 137.0L87.0 120.7M100.0 137.0L96.9 103.1M100.0 137.0L97.9 123.0M100.0 137.0L89.3 126.6M100.0 137.0L97.1 109.3M100.0 137.0L98.4 123.6M100.0 137.0L95.6 127.5M100.0 137.0L88.2 109.9M100.0 137.0L106.9 126.3M100.0 137.0L109.0 129.4M100.0 137.0L101.2 149.1M100.0 137.0L83.7 125.3M100.0 137.0L101.0 152.2M100.0 137.0L106.2 128.3M100.0 137.0L108.2 169.2M100.0 137.0L107.3 139.0M100.0 137.0L103.4 120.4M100.0 137.0L115.8 162.7M100.0 137.0L76.3 109.5M100.0 137.0L97.5 123.3M100.0 137.0L104.2 121.1M100.0 137.0L116.2 143.4M100.0 137.0L96.3 120.1M100.0 137.0L93.3 105.5M100.0 137.0L108.8 120.6M100.0 137.0L91.7 115.9M100.0 137.0L81.4 111.3M100.0 137.0L73.4 115.5M100.0 137.0L81.4 116.9M100.0 137.0L105.0 130.9M100.0 137.0L80.5 105.0M100.0 137.0L102.6 124.2M100.0 137.0L88.1 98.4M100.0 137.0L93.0 134.1M100.0 137.0L77.4 108.2M100.0 137.0L101.5 133.8M100.0 137.0L117.3 155.0M100.0 137.0L89.9 92.0M100.0 137.0L105.9 123.1M100.0 137.0L82.1 112.8M100.0 137.0L90.1 91.3M100.0 137.0L81.2 105.2M100.0 137.0L104.0 150.2M100.0 137.0L107.2 143.2M100.0 137.0L100.1 113.1M100.0 137.0L105.2 134.8M100.0 137.0L109.4 148.7M100.0 137.0L78.7 113.6M100.0 137.0L94.6 121.2M100.0 137.0L89.2 138.6M100.0 137.0L98.4 102.3M100.0 137.0L118.9 144.4M100.0 137.0L112.4 161.6M100.0 137.0L108.8 156.2M100.0 137.0L107.2 119.0M100.0 137.0L121.1 150.5M100.0 137.0L85.6 111.9M100.0 137.0L112.2 152.1M100.0 137.0L92.4 127.2M100.0 137.0L99.9 131.0M100.0 137.0L100.2 146.8M100.0 137.0L110.5 149.1M100.0 137.0L107.5 136.4M100.0 137.0L94.2 124.1M100.0 137.0L111.7 144.9M100.0 137.0L98.4 132.8M100.0 137.0L105.8 120.4M100.0 137.0L84.6 130.9M100.0 137.0L82.0 118.6M100.0 137.0L92.9 137.8M100.0 137.0L118.4 145.8M100.0 137.0L120.0 152.7M100.0 137.0L97.7 120.3M100.0 137.0L102.1 116.1M100.0 137.0L100.8 119.5M100.0 137.0L98.6 152.2M100.0 137.0L114.5 132.0M100.0 137.0L90.9 116.9M100.0 137.0L98.4 104.8M100.0 137.0L121.1 152.3M100.0 137.0L114.8 160.4M100.0 137.0L93.9 122.1M100.0 137.0L121.0 142.8M100.0 137.0L103.2 150.0M100.0 137.0L117.2 154.0M100.0 137.0L98.3 137.1M100.0 137.0L99.4 106.7M100.0 137.0L82.8 118.6M100.0 137.0L104.4 136.5M100.0 137.0L106.2 135.4M100.0 137.0L111.3 166.0M100.0 137.0L92.6 132.3M100.0 137.0L116.3 135.5M100.0 137.0L113.5 158.0M100.0 137.0L80.7 125.8M100.0 137.0L104.4 140.2M100.0 137.0L115.4 141.6M100.0 137.0L119.9 139.8M100.0 137.0L87.3 127.7M100.0 137.0L112.7 157.7M100.0 137.0L109.3 134.4M100.0 137.0L102.2 133.7M100.0 137.0L80.5 117.8M100.0 137.0L111.2 166.8M100.0 137.0L90.0 131.3M100.0 137.0L105.3 148.2M100.0 137.0L95.7 127.4M100.0 137.0L90.4 100.7M100.0 137.0L116.7 157.4M100.0 137.0L98.0 108.6M100.0 137.0L121.7 148.6M100.0 137.0L90.3 137.9M100.0 137.0L103.4 118.3M100.0 137.0L91.3 117.4M100.0 137.0L74.5 113.6M100.0 137.0L86.6 101.3M100.0 137.0L89.2 139.4M100.0 137.0L92.2 108.9M100.0 137.0L93.2 129.9M100.0 137.0L88.6 116.7M100.0 137.0L95.7 141.3M100.0 137.0L103.4 155.3M100.0 137.0L79.5 114.9M100.0 137.0L88.5 110.9M100.0 137.0L94.0 143.2M100.0 137.0L89.8 127.9M100.0 137.0L92.8 128.0M100.0 137.0L90.9 107.5M100.0 137.0L107.4 142.9M100.0 137.0L102.3 112.0M100.0 137.0L94.7 134.4M100.0 137.0L123.0 145.1M100.0 137.0L99.3 132.8M100.0 137.0L83.5 108.8M100.0 137.0L111.3 154.3M100.0 137.0L76.3 117.4M100.0 137.0L113.4 147.0M100.0 137.0L99.2 135.2M100.0 137.0L91.3 109.7M100.0 137.0L77.2 110.0M100.0 137.0L104.6 127.3M100.0 137.0L94.4 104.2M100.0 137.0L100.7 149.2M100.0 137.0L93.5 129.1M100.0 137.0L113.2 145.5M100.0 137.0L107.5 134.6M100.0 137.0L109.1 142.1M100.0 137.0L100.9 107.3M100.0 137.0L106.3 145.7M100.0 137.0L86.2 108.6M100.0 137.0L112.9 126.5M100.0 137.0L105.8 161.5M100.0 137.0L77.1 119.4M100.0 137.0L105.5 129.4M100.0 137.0L101.9 145.7M100.0 137.0L88.1 98.8M100.0 137.0L91.8 100.9M100.0 137.0L117.8 148.0M100.0 137.0L84.2 125.1M100.0 137.0L118.3 149.3M100.0 137.0L100.5 154.4M100.0 137.0L77.2 108.2M100.0 137.0L94.6 116.0M100.0 137.0L88.7 135.0M100.0 137.0L109.5 150.5M100.0 137.0L87.9 136.9M100.0 137.0L93.8 134.2M100.0 137.0L103.4 152.5M100.0 137.0L95.5 134.4M100.0 137.0L98.9 148.6M100.0 137.0L120.4 150.1M100.0 137.0L86.3 123.2M100.0 137.0L95.8 101.6M100.0 137.0L84.0 109.6M100.0 137.0L85.1 108.5M100.0 137.0L112.6 156.3M100.0 137.0L93.9 128.7M100.0 137.0L78.4 105.7M100.0 137.0L78.4 113.3M100.0 137.0L109.3 169.9M100.0 137.0L77.0 112.4M100.0 137.0L86.6 109.9M100.0 137.0L111.5 132.3M100.0 137.0L101.1 130.3M100.0 137.0L117.4 143.4M100.0 137.0L115.6 131.5M100.0 137.0L91.6 138.9M100.0 137.0L109.7 154.2M100.0 137.0L101.6 140.6M100.0 137.0L101.7 133.9M100.0 137.0L81.1 100.4M100.0 137.0L114.2 137.6M100.0 137.0L110.4 125.0M100.0 137.0L94.0 119.3M100.0 137.0L89.3 90.8M100.0 137.0L84.6 120.3M100.0 137.0L81.7 100.6M100.0 137.0L105.6 150.2M100.0 137.0L98.0 143.0M100.0 137.0L75.1 114.1M100.0 137.0L106.1 166.5M100.0 137.0L107.9 152.8M100.0 137.0L94.7 124.9M100.0 137.0L102.1 155.8M100.0 137.0L100.3 133.1M100.0 137.0L78.7 104.0M100.0 137.0L120.2 145.7M100.0 137.0L79.0 105.6M100.0 137.0L89.1 92.0M100.0 137.0L108.6 120.4M100.0 137.0L100.3 139.0M100.0 137.0L104.6 116.0M100.0 137.0L92.3 126.8M100.0 137.0L115.3 160.6M100.0 137.0L99.7 156.4M100.0 137.0L90.3 98.2M100.0 137.0L88.9 131.0M100.0 137.0L104.1 122.8M100.0 137.0L94.5 144.9M100.0 137.0L98.5 103.0M100.0 137.0L116.2 136.5M100.0 137.0L84.9 102.4M100.0 137.0L97.1 120.2M100.0 137.0L111.9 150.8M100.0 137.0L103.7 152.9M100.0 137.0L94.6 127.6M100.0 137.0L94.7 147.1M100.0 137.0L98.4 133.1M100.0 137.0L99.5 143.5M100.0 137.0L118.5 155.9M100.0 137.0L100.6 152.2M100.0 137.0L113.4 162.6M100.0 137.0L89.4 132.0M100.0 137.0L112.9 138.9M100.0 137.0L111.5 159.4M100.0 137.0L108.5 139.4M100.0 137.0L110.6 127.7M100.0 137.0L107.3 131.5M100.0 137.0L103.6 125.0M100.0 137.0L88.0 124.5M100.0 137.0L85.8 98.8M100.0 137.0L108.6 160.1M100.0 137.0L114.0 132.3M100.0 137.0L94.4 97.7M100.0 137.0L82.9 105.3M100.0 137.0L109.8 158.9M100.0 137.0L110.6 130.2M100.0 137.0L90.5 139.4M100.0 137.0L86.4 104.6M100.0 137.0L116.6 149.6M100.0 137.0L93.3 132.2M100.0 137.0L110.8 122.8M100.0 137.0L81.3 122.7M100.0 137.0L111.3 143.1M100.0 137.0L89.4 95.3M100.0 137.0L93.1 102.0M100.0 137.0L93.6 127.4M100.0 137.0L107.3 136.1M100.0 137.0L97.0 115.2M100.0 137.0L91.2 121.4M100.0 137.0L93.6 135.5M100.0 137.0L91.7 144.1M100.0 137.0L101.8 145.3M100.0 137.0L95.1 110.9M100.0 137.0L91.5 118.9M100.0 137.0L112.4 155.2M100.0 137.0L85.2 126.5M100.0 137.0L109.1 156.8M100.0 137.0L123.5 147.4M100.0 137.0L91.7 114.7M100.0 137.0L107.6 159.9M100.0 137.0L84.0 101.4M100.0 137.0L110.9 134.6M100.0 137.0L102.1 123.0M100.0 137.0L101.8 133.9M100.0 137.0L99.5 150.2M100.0 137.0L86.7 92.7M100.0 137.0L94.0 126.6M100.0 137.0L97.5 152.2M100.0 137.0L113.7 143.8M100.0 137.0L103.0 126.2M100.0 137.0L99.5 112.9M100.0 137.0L99.7 127.2M100.0 137.0L120.4 142.2M100.0 137.0L105.0 158.6M100.0 137.0L115.0 142.3M100.0 137.0L101.8 111.0M100.0 137.0L91.6 112.7M100.0 137.0L97.3 119.7M100.0 137.0L106.1 135.3M100.0 137.0L82.4 117.0M100.0 137.0L113.1 136.7M100.0 137.0L82.0 104.9M100.0 137.0L110.6 137.3M100.0 137.0L118.2 145.6M100.0 137.0L109.5 129.9M100.0 137.0L113.9 137.1M100.0 137.0L108.7 137.4M100.0 137.0L100.1 136.7M100.0 137.0L116.7 146.0M100.0 137.0L88.8 95.1M100.0 137.0L85.6 105.0M100.0 137.0L99.8 156.2M100.0 137.0L85.0 120.9M100.0 137.0L79.8 109.5M100.0 137.0L110.5 143.3M100.0 137.0L102.8 138.5M100.0 137.0L79.6 125.0M100.0 137.0L101.0 146.2M100.0 137.0L78.4 122.5M100.0 137.0L115.7 135.6M100.0 137.0L117.0 160.0M100.0 137.0L108.9 161.9M100.0 137.0L96.9 118.8M100.0 137.0L88.3 127.7M100.0 137.0L89.6 121.7M100.0 137.0L100.8 157.8M100.0 137.0L93.4 118.3M100.0 137.0L80.9 105.6M100.0 137.0L119.8 154.1M100.0 137.0L107.7 158.4M100.0 137.0L83.6 104.3M100.0 137.0L103.9 134.1M100.0 137.0L106.1 148.7M100.0 137.0L90.7 97.4M100.0 137.0L104.9 138.5M100.0 137.0L92.0 129.7M100.0 137.0L86.1 128.3M100.0 137.0L108.9 131.0M100.0 137.0L83.7 114.9M100.0 137.0L83.0 104.8M100.0 137.0L111.5 159.7M100.0 137.0L105.1 153.2M100.0 137.0L81.1 102.2M100.0 137.0L100.4 128.1M100.0 137.0L114.2 161.4M100.0 137.0L108.0 140.8M100.0 137.0L95.7 127.6M100.0 137.0L114.8 129.3M100.0 137.0L95.0 140.7M100.0 137.0L119.6 145.8M100.0 137.0L104.8 121.4M100.0 137.0L113.8 137.0M100.0 137.0L108.5 141.0M100.0 137.0L94.6 110.1M100.0 137.0L112.7 139.3M100.0 137.0L86.1 114.3M100.0 137.0L86.6 102.5M100.0 137.0L80.1 125.4M100.0 137.0L106.3 156.9M100.0 137.0L94.9 134.6M100.0 137.0L101.7 130.4M100.0 137.0L92.3 138.9M100.0 137.0L102.5 158.0M100.0 137.0L114.5 162.9M100.0 137.0L86.0 128.8M100.0 137.0L90.8 130.9M100.0 137.0L100.1 123.8M100.0 137.0L104.2 113.4M100.0 137.0L96.1 147.1M100.0 137.0L94.7 144.5M100.0 137.0L95.9 121.7M100.0 137.0L94.5 145.2M100.0 137.0L104.7 142.0M100.0 137.0L100.5 143.9M100.0 137.0L86.1 119.4M100.0 137.0L92.8 142.7M100.0 137.0L116.7 137.8M100.0 137.0L92.8 142.6M100.0 137.0L75.6 111.4M100.0 137.0L107.1 139.8M100.0 137.0L107.0 131.5M100.0 137.0L95.5 136.8M100.0 137.0L107.4 133.8M100.0 137.0L104.3 157.9M100.0 137.0L106.9 163.3M100.0 137.0L107.0 164.5M100.0 137.0L89.1 133.6M100.0 137.0L93.6 106.4M100.0 137.0L89.1 102.0M100.0 137.0L98.4 114.2M100.0 137.0L91.9 127.7M100.0 137.0L97.3 114.1M100.0 137.0L92.4 99.7M100.0 137.0L76.8 112.3M100.0 137.0L109.1 126.9M100.0 137.0L85.3 131.1M100.0 137.0L97.7 127.7M100.0 137.0L83.9 128.6M100.0 137.0L105.5 161.0M100.0 137.0L104.5 156.6M100.0 137.0L88.0 114.5M100.0 137.0L93.6 114.8M100.0 137.0L87.5 98.4M100.0 137.0L88.4 114.0M100.0 137.0L85.9 125.2M100.0 137.0L108.5 169.7M100.0 137.0L103.7 121.9M100.0 137.0L86.7 118.3M100.0 137.0L81.2 113.6M100.0 137.0L86.1 93.7M100.0 137.0L108.5 150.6M100.0 137.0L102.3 146.2M100.0 137.0L83.0 115.0M100.0 137.0L86.3 134.4M100.0 137.0L95.1 104.1M100.0 137.0L89.3 136.4M100.0 137.0L105.8 142.2M100.0 137.0L85.7 104.8M100.0 137.0L99.7 115.6M100.0 137.0L79.3 102.3M100.0 137.0L100.5 148.2M100.0 137.0L84.5 126.3M100.0 137.0L114.6 147.3M100.0 137.0L79.6 121.0M100.0 137.0L98.4 106.8M100.0 137.0L100.6 156.1M100.0 137.0L109.5 141.1M100.0 137.0L119.4 142.3M100.0 137.0L102.9 110.9M100.0 137.0L92.5 116.7M100.0 137.0L107.2 147.5M100.0 137.0L99.7 116.5M100.0 137.0L94.9 125.1M100.0 137.0L105.2 137.3M100.0 137.0L113.4 130.6M100.0 137.0L101.9 138.1M100.0 137.0L103.6 120.8M100.0 137.0L97.2 129.7M100.0 137.0L97.1 133.6M100.0 137.0L83.0 124.1M100.0 137.0L85.0 118.3M100.0 137.0L86.7 128.5M100.0 137.0L111.1 124.8M100.0 137.0L84.6 102.3M100.0 137.0L102.9 130.4M100.0 137.0L89.6 96.7M100.0 137.0L99.1 142.6M100.0 137.0L112.2 128.5M100.0 137.0L87.4 126.7M100.0 137.0L106.6 145.2M100.0 137.0L95.0 104.0M100.0 137.0L91.8 131.9M100.0 137.0L113.5 132.6M100.0 137.0L82.5 104.5M100.0 137.0L95.0 141.2M100.0 137.0L98.2 140.3M100.0 137.0L97.0 132.6M100.0 137.0L90.1 117.1M100.0 137.0L112.8 134.3M100.0 137.0L91.3 113.6M100.0 137.0L94.8 138.8M100.0 137.0L119.2 142.1M100.0 137.0L89.9 98.6M100.0 137.0L98.5 153.5M100.0 137.0L112.9 158.7M100.0 137.0L102.3 124.1M100.0 137.0L83.1 119.4M100.0 137.0L102.3 145.9M100.0 137.0L90.7 130.1M100.0 137.0L82.0 117.4M100.0 137.0L103.7 131.8M100.0 137.0L88.5 131.1M100.0 137.0L111.0 145.0M100.0 137.0L101.7 113.4M100.0 137.0L110.0 143.0M100.0 137.0L115.5 161.4M100.0 137.0L84.4 95.2M100.0 137.0L104.5 154.4M100.0 137.0L87.7 108.5M100.0 137.0L105.5 155.1M100.0 137.0L90.4 127.6M100.0 137.0L95.7 100.5M100.0 137.0L110.5 147.3M100.0 137.0L108.3 167.0M100.0 137.0L108.9 152.2M100.0 137.0L89.4 138.0M100.0 137.0L105.5 162.7M100.0 137.0L94.1 97.1M100.0 137.0L96.4 108.7M100.0 137.0L104.0 140.8M100.0 137.0L99.8 150.4M100.0 137.0L93.0 95.9M100.0 137.0L103.4 159.2M100.0 137.0L91.2 91.6M100.0 137.0L95.9 145.7M100.0 137.0L100.1 126.7M100.0 137.0L102.2 129.1M100.0 137.0L110.5 170.4M100.0 137.0L92.5 94.7M100.0 137.0L102.4 156.4M100.0 137.0L106.1 122.4M100.0 137.0L80.4 113.4M100.0 137.0L92.3 115.5M100.0 137.0L94.9 134.8M100.0 137.0L107.3 168.0M100.0 137.0L115.7 157.6M100.0 137.0L110.5 134.3M100.0 137.0L90.3 94.1M100.0 137.0L98.5 139.6M100.0 137.0L105.1 136.8M100.0 137.0L88.3 120.2M100.0 137.0L87.0 129.6M100.0 137.0L94.5 132.1M100.0 137.0L115.6 138.6M100.0 137.0L104.9 123.3M100.0 137.0L110.7 131.6M100.0 137.0L83.7 130.7M100.0 137.0L92.6 107.2M100.0 137.0L109.6 158.7M100.0 137.0L94.1 133.6M100.0 137.0L82.2 105.4M100.0 137.0L105.8 131.6M100.0 137.0L90.9 104.1M100.0 137.0L104.7 121.6M100.0 137.0L94.0 102.9M100.0 137.0L86.8 130.1M100.0 137.0L86.6 127.8M100.0 137.0L113.2 130.9M100.0 137.0L103.4 135.1M100.0 137.0L84.5 131.2M100.0 137.0L101.4 137.6M100.0 137.0L75.4 115.0M100.0 137.0L103.6 118.9M100.0 137.0L80.5 108.8M100.0 137.0L111.1 161.4M100.0 137.0L81.2 100.9M100.0 137.0L78.6 114.9M100.0 137.0L110.6 134.3M100.0 137.0L108.5 167.1M100.0 137.0L93.3 134.5M100.0 137.0L94.3 132.6M100.0 137.0L105.3 127.8M100.0 137.0L84.8 109.4M100.0 137.0L109.4 139.4M100.0 137.0L115.0 138.0M100.0 137.0L79.7 122.7M100.0 137.0L84.2 124.0M100.0 137.0L88.9 92.0M100.0 137.0L120.0 148.0M100.0 137.0L102.6 130.8M100.0 137.0L90.3 123.0M100.0 137.0L107.0 131.2M100.0 137.0L94.7 142.9M100.0 137.0L95.7 100.5M100.0 137.0L81.5 119.5M100.0 137.0L86.4 104.1M100.0 137.0L104.5 140.9M100.0 137.0L82.2 117.4M100.0 137.0L95.6 110.8M100.0 137.0L74.9 113.6M100.0 137.0L81.3 100.1M100.0 137.0L111.9 152.5M100.0 137.0L94.4 123.6M100.0 137.0L120.4 153.7M100.0 137.0L87.0 103.8M100.0 137.0L93.4 132.2M100.0 137.0L116.7 140.5M100.0 137.0L99.1 133.7M100.0 137.0L112.7 130.5M100.0 137.0L110.2 154.9M100.0 137.0L101.4 157.1M100.0 137.0L104.5 130.4M100.0 137.0L109.0 170.6M100.0 137.0L84.9 98.7M100.0 137.0L91.9 100.9M100.0 137.0L96.1 110.4M100.0 137.0L107.2 140.7M100.0 137.0L82.6 111.2M100.0 137.0L119.0 157.0M100.0 137.0L92.4 117.7M100.0 137.0L105.0 127.5M100.0 137.0L120.9 146.0M100.0 137.0L109.6 154.9M100.0 137.0L101.7 141.4M100.0 137.0L82.7 124.6M100.0 137.0L118.1 156.3M100.0 137.0L105.5 126.4M100.0 137.0L114.3 162.3M100.0 137.0L88.9 121.4M100.0 137.0L79.8 112.5M100.0 137.0L93.1 129.9M100.0 137.0L99.8 114.1M100.0 137.0L87.7 101.8M100.0 137.0L116.9 153.8M100.0 137.0L101.7 159.6M100.0 137.0L103.8 117.9M100.0 137.0L112.3 128.2M100.0 137.0L94.0 125.0M100.0 137.0L85.7 100.2M100.0 137.0L92.6 110.4M100.0 137.0L103.6 116.2M100.0 137.0L95.9 145.0M100.0 137.0L104.3 126.3M100.0 137.0L76.6 107.8M100.0 137.0L104.0 138.9M100.0 137.0L115.2 141.6M100.0 137.0L77.1 118.2M100.0 137.0L90.9 102.3M100.0 137.0L97.1 129.7M100.0 137.0L117.6 136.8M100.0 137.0L117.6 138.6M100.0 137.0L77.8 109.9M100.0 137.0L100.4 105.7M100.0 137.0L107.0 163.2M100.0 137.0L105.4 163.3M100.0 137.0L85.3 128.8M100.0 137.0L122.5 144.4M100.0 137.0L79.0 113.2M100.0 137.0L90.8 91.1M100.0 137.0L91.9 93.7M100.0 137.0L97.6 151.2M100.0 137.0L86.4 122.4M100.0 137.0L89.8 111.5M100.0 137.0L112.0 141.8M100.0 137.0L95.6 118.5M100.0 137.0L111.8 151.6M100.0 137.0L92.3 112.3M100.0 137.0L80.6 120.0M100.0 137.0L104.3 124.0M100.0 137.0L99.8 145.9M100.0 137.0L112.5 159.3M100.0 137.0L86.6 126.7M100.0 137.0L110.1 165.5M100.0 137.0L104.7 153.0M100.0 137.0L93.4 138.1M100.0 137.0L92.8 99.8M100.0 137.0L75.3 114.9M100.0 137.0L106.5 134.9M100.0 137.0L83.5 124.2M100.0 137.0L93.3 102.7M100.0 137.0L103.5 134.4M100.0 137.0L92.5 133.3M100.0 137.0L117.7 149.7M100.0 137.0L110.1 156.0M100.0 137.0L96.0 148.5M100.0 137.0L108.6 146.4M100.0 137.0L87.8 106.9M100.0 137.0L88.7 97.8M100.0 137.0L99.0 153.3M100.0 137.0L84.7 105.8M100.0 137.0L108.5 156.5M100.0 137.0L96.1 119.9M100.0 137.0L111.1 151.3M100.0 137.0L92.1 133.4M100.0 137.0L97.6 121.6M100.0 137.0L122.2 148.4M100.0 137.0L91.1 136.1M100.0 137.0L109.2 145.3M100.0 137.0L76.6 108.5M100.0 137.0L87.0 114.7M100.0 137.0L113.6 150.3M100.0 137.0L115.9 139.7M100.0 137.0L106.8 148.6M100.0 137.0L116.3 139.8M100.0 137.0L93.6 98.3M100.0 137.0L97.1 152.6M100.0 137.0L107.8 135.3M100.0 137.0L80.6 121.3M100.0 137.0L92.2 103.4M100.0 137.0L89.1 114.5M100.0 137.0L123.0 148.6M100.0 137.0L107.6 161.3M100.0 137.0L89.0 135.9M100.0 137.0L93.9 137.9M100.0 137.0L102.0 131.2M100.0 137.0L77.6 111.1M100.0 137.0L87.7 113.0M100.0 137.0L120.1 148.0M100.0 137.0L96.5 128.3M100.0 137.0L82.3 117.2M100.0 137.0L96.0 121.2M100.0 137.0L94.9 134.2M100.0 137.0L100.2 133.3M100.0 137.0L91.1 124.2M100.0 137.0L85.9 122.5M100.0 137.0L102.4 109.7M100.0 137.0L84.7 122.3M100.0 137.0L101.8 152.1M100.0 137.0L93.0 95.8M100.0 137.0L91.8 140.6M100.0 137.0L102.9 151.7M100.0 137.0L111.1 133.3M100.0 137.0L86.2 107.3M100.0 137.0L113.3 134.6M100.0 137.0L90.5 130.6M100.0 137.0L117.9 154.4M100.0 137.0L101.1 142.9M100.0 137.0L88.4 125.2M100.0 137.0L75.1 114.3M100.0 137.0L105.2 121.3M100.0 137.0L114.4 148.6M100.0 137.0L83.3 120.9M100.0 137.0L84.5 126.2M100.0 137.0L93.3 120.8M100.0 137.0L107.0 163.8M100.0 137.0L82.3 107.8M100.0 137.0L107.3 128.9M100.0 137.0L120.2 145.6M100.0 137.0L114.6 140.5M100.0 137.0L85.5 119.0M100.0 137.0L77.7 107.4M100.0 137.0L101.9 154.7M100.0 137.0L96.9 120.2M100.0 137.0L112.1 152.8M100.0 137.0L91.5 140.5M100.0 137.0L104.3 116.5M100.0 137.0L97.8 135.9M100.0 137.0L80.0 119.8M100.0 137.0L109.7 153.8M100.0 137.0L88.6 101.5M100.0 137.0L96.4 120.8M100.0 137.0L88.2 105.6M100.0 137.0L76.7 120.3M100.0 137.0L91.9 104.7M100.0 137.0L89.0 126.4M100.0 137.0L117.6 143.9M100.0 137.0L103.7 123.7M100.0 137.0L84.2 127.9M100.0 137.0L113.3 129.9M100.0 137.0L86.4 95.8M100.0 137.0L119.0 138.5M100.0 137.0L90.3 106.9M100.0 137.0L80.9 119.6M100.0 137.0L103.0 126.1M100.0 137.0L77.1 115.0M100.0 137.0L100.4 144.9M100.0 137.0L104.3 136.8M100.0 137.0L106.4 129.2M100.0 137.0L109.0 166.4M100.0 137.0L85.8 124.9M100.0 137.0L88.9 112.7M100.0 137.0L86.4 121.1M100.0 137.0L83.6 117.6M100.0 137.0L118.8 138.9M100.0 137.0L102.1 133.6M100.0 137.0L120.8 139.7M100.0 137.0L95.5 144.3M100.0 137.0L99.0 117.9M100.0 137.0L106.2 154.6M100.0 137.0L100.4 138.5M100.0 137.0L88.8 129.5M100.0 137.0L115.4 163.1M100.0 137.0L117.2 140.8M100.0 137.0L101.7 135.8M100.0 137.0L98.8 136.1M100.0 137.0L111.9 146.5M100.0 137.0L87.0 106.5M100.0 137.0L90.8 138.2M100.0 137.0L90.3 125.7M100.0 137.0L97.8 134.4M100.0 137.0L75.1 116.7M100.0 137.0L106.7 160.5M100.0 137.0L97.5 150.0M100.0 137.0L95.2 127.6M100.0 137.0L87.5 96.9M100.0 137.0L107.7 139.9M100.0 137.0L105.4 133.9M100.0 137.0L115.4 137.8M100.0 137.0L92.0 92.9M100.0 137.0L74.3 115.3M100.0 137.0L84.3 132.4M100.0 137.0L119.1 141.3M100.0 137.0L119.3 152.9M100.0 137.0L101.6 142.8M100.0 137.0L110.4 140.3M100.0 137.0L93.1 137.8M100.0 137.0L104.6 121.9M100.0 137.0L94.3 134.2M100.0 137.0L87.5 124.4M100.0 137.0L112.2 127.6M100.0 137.0L83.5 116.5M100.0 137.0L109.4 128.9M100.0 137.0L94.2 101.2M100.0 137.0L90.0 104.1M100.0 137.0L82.8 103.1M100.0 137.0L106.6 137.3M100.0 137.0L97.6 136.2M100.0 137.0L94.3 144.6M100.0 137.0L80.3 106.6M100.0 137.0L117.3 141.5M100.0 137.0L101.4 133.6M100.0 137.0L94.6 103.8M100.0 137.0L115.7 141.0M100.0 137.0L106.8 131.8M100.0 137.0L107.1 122.7M100.0 137.0L114.5 152.8M100.0 137.0L84.3 132.3M100.0 137.0L118.0 142.9M100.0 137.0L94.6 134.4M100.0 137.0L89.4 95.6M100.0 137.0L110.9 152.7M100.0 137.0L90.7 133.1M100.0 137.0L93.7 147.2M100.0 137.0L102.2 113.6M100.0 137.0L111.5 130.9M100.0 137.0L88.6 93.0M100.0 137.0L85.8 112.9M100.0 137.0L93.2 119.3M100.0 137.0L83.6 118.6M100.0 137.0L78.5 118.8M100.0 137.0L92.2 121.1M100.0 137.0L84.1 111.3M100.0 137.0L112.7 161.6M100.0 137.0L101.4 120.5M100.0 137.0L84.7 102.9M100.0 137.0L107.3 128.2M100.0 137.0L102.0 110.0M100.0 137.0L104.5 153.0M100.0 137.0L91.0 106.2M100.0 137.0L91.5 93.2M100.0 137.0L102.7 125.7M100.0 137.0L117.1 156.4M100.0 137.0L99.0 134.8M100.0 137.0L101.1 133.4M100.0 137.0L83.0 120.3M100.0 137.0L94.7 111.4M100.0 137.0L106.3 122.1M100.0 137.0L121.1 146.4M100.0 137.0L96.1 147.5M100.0 137.0L85.3 128.8M100.0 137.0L106.3 157.4M100.0 137.0L99.4 127.1M100.0 137.0L80.1 123.2M100.0 137.0L100.6 148.2M100.0 137.0L115.7 141.9M100.0 137.0L113.2 156.8M100.0 137.0L102.5 140.4M100.0 137.0L95.4 147.0M100.0 137.0L81.6 122.0M100.0 137.0L119.4 145.0M100.0 137.0L88.8 136.3M100.0 137.0L103.6 122.2M100.0 137.0L86.9 122.4M100.0 137.0L90.5 116.7M100.0 137.0L111.0 169.8M100.0 137.0L80.2 123.7M100.0 137.0L112.0 124.9M100.0 137.0L104.8 159.7M100.0 137.0L108.6 163.7M100.0 137.0L89.6 124.1M100.0 137.0L75.8 114.7M100.0 137.0L93.9 101.4M100.0 137.0L107.6 141.3M100.0 137.0L94.3 129.9M100.0 137.0L97.0 109.4M100.0 137.0L85.0 98.6M100.0 137.0L104.7 157.6M100.0 137.0L108.2 138.9M100.0 137.0L95.0 144.5M100.0 137.0L108.7 145.2M100.0 137.0L89.8 128.6M100.0 137.0L95.2 135.3M100.0 137.0L87.1 125.5M100.0 137.0L96.8 138.5M100.0 137.0L103.8 151.3M100.0 137.0L91.1 137.1M100.0 137.0L112.6 126.0M100.0 137.0L103.3 127.0M100.0 137.0L91.1 103.8M100.0 137.0L87.8 101.7M100.0 137.0L103.1 159.0M100.0 137.0L96.3 132.5M100.0 137.0L88.3 107.7M100.0 137.0L93.5 133.8M100.0 137.0L98.0 105.9M100.0 137.0L88.2 105.1M100.0 137.0L113.7 137.1M100.0 137.0L105.9 142.8M100.0 137.0L105.5 135.2M100.0 137.0L103.4 129.5M100.0 137.0L83.8 122.8M100.0 137.0L87.9 111.6M100.0 137.0L75.3 117.6M100.0 137.0L93.5 134.9M100.0 137.0L78.9 110.0M100.0 137.0L106.0 137.3M100.0 137.0L107.0 125.2M100.0 137.0L99.7 154.9M100.0 137.0L75.8 117.9M100.0 137.0L115.6 152.1M100.0 137.0L94.1 119.3M100.0 137.0L82.5 129.2M100.0 137.0L107.8 132.8M100.0 137.0L84.2 129.3M100.0 137.0L83.7 99.6M100.0 137.0L103.1 157.9M100.0 137.0L84.4 99.4M100.0 137.0L98.7 146.4M100.0 137.0L108.3 123.4M100.0 137.0L77.4 116.8M100.0 137.0L108.1 121.5M100.0 137.0L103.7 122.4M100.0 137.0L74.5 112.3M100.0 137.0L116.4 152.8M100.0 137.0L114.4 161.9M100.0 137.0L105.9 120.4M100.0 137.0L118.9 155.8M100.0 137.0L91.7 108.3M100.0 137.0L93.3 112.5M100.0 137.0L108.8 125.9M100.0 137.0L97.3 143.3M100.0 137.0L115.3 159.3M100.0 137.0L99.8 116.5M100.0 137.0L114.3 159.8M100.0 137.0L90.9 97.7M100.0 137.0L114.1 142.5M100.0 137.0L107.2 144.4M100.0 137.0L104.2 125.5M100.0 137.0L81.6 106.7M100.0 137.0L103.1 143.6M100.0 137.0L97.0 136.0M100.0 137.0L89.0 95.6M100.0 137.0L118.7 139.8M100.0 137.0L89.9 116.7M100.0 137.0L79.4 117.9M100.0 137.0L80.5 104.7M100.0 137.0L108.1 138.0M100.0 137.0L89.5 113.4M100.0 137.0L91.3 142.3M100.0 137.0L82.9 114.6M100.0 137.0L97.9 126.5M100.0 137.0L110.9 138.1M100.0 137.0L93.4 129.3M100.0 137.0L115.1 163.4M100.0 137.0L115.6 149.3M100.0 137.0L112.8 161.9M100.0 137.0L106.4 162.8M100.0 137.0L107.5 157.5M100.0 137.0L95.6 105.6M100.0 137.0L82.8 108.3M100.0 137.0L100.1 144.1M100.0 137.0L80.6 108.2M100.0 137.0L76.7 110.1M100.0 137.0L88.2 111.1M100.0 137.0L85.5 132.3M100.0 137.0L91.1 134.9M100.0 137.0L118.1 141.9M100.0 137.0L110.8 132.2M100.0 137.0L88.7 108.4M100.0 137.0L112.1 166.2M100.0 137.0L113.9 129.5M100.0 137.0L108.7 168.9M100.0 137.0L103.8 133.2M100.0 137.0L108.8 124.7M100.0 137.0L108.5 156.7M100.0 137.0L87.1 107.9M100.0 137.0L114.2 162.9M100.0 137.0L103.3 131.8M100.0 137.0L100.9 145.7M100.0 137.0L82.6 101.5M100.0 137.0L94.0 107.1M100.0 137.0L106.0 162.0M100.0 137.0L97.1 102.4M100.0 137.0L87.1 107.2M100.0 137.0L111.7 140.9M100.0 137.0L84.8 96.9M100.0 137.0L91.0 125.7M100.0 137.0L118.1 137.9M100.0 137.0L105.9 117.1M100.0 137.0L102.3 140.2M100.0 137.0L110.9 168.1M100.0 137.0L119.8 143.8M100.0 137.0L91.8 118.3M100.0 137.0L79.7 115.4M100.0 137.0L107.4 132.8M100.0 137.0L79.2 110.3M100.0 137.0L102.1 156.9M100.0 137.0L116.7 136.3M100.0 137.0L121.8 143.4M100.0 137.0L92.9 138.8M100.0 137.0L80.4 120.3M100.0 137.0L101.6 111.6M100.0 137.0L85.5 104.1M100.0 137.0L81.4 121.7M100.0 137.0L105.5 147.0M100.0 137.0L111.2 162.4M100.0 137.0L104.2 145.2M100.0 137.0L106.5 149.3M100.0 137.0L98.3 105.6M100.0 137.0L109.4 143.5M100.0 137.0L116.5 157.3M100.0 137.0L112.6 138.5M100.0 137.0L99.6 121.2M100.0 137.0L95.9 134.5M100.0 137.0L95.9 133.3M100.0 137.0L78.8 112.5M100.0 137.0L88.3 121.5M100.0 137.0L88.7 123.3M100.0 137.0L92.4 93.1M100.0 137.0L82.2 102.5M100.0 137.0L104.2 149.2M100.0 137.0L91.1 125.6M100.0 137.0L98.5 148.1M100.0 137.0L117.2 152.9M100.0 137.0L97.8 124.3M100.0 137.0L117.1 158.3M100.0 137.0L80.1 115.8M100.0 137.0L78.6 115.1M100.0 137.0L103.8 125.6M100.0 137.0L96.1 122.4M100.0 137.0L113.6 132.8M100.0 137.0L104.0 150.0M100.0 137.0L90.7 128.1M100.0 137.0L94.6 117.8M100.0 137.0L84.8 94.4M100.0 137.0L115.8 131.2M100.0 137.0L112.7 157.2M100.0 137.0L96.2 113.6M100.0 137.0L105.1 137.1M100.0 137.0L107.5 164.3M100.0 137.0L77.3 107.3M100.0 137.0L110.1 144.5M100.0 137.0L111.6 149.6M100.0 137.0L107.9 137.4M100.0 137.0L83.6 118.6M100.0 137.0L93.9 139.7M100.0 137.0L115.7 143.9M100.0 137.0L108.4 134.0M100.0 137.0L94.5 123.4M100.0 137.0L92.5 98.3M100.0 137.0L86.5 126.5M100.0 137.0L104.0 124.6M100.0 137.0L90.3 109.4M100.0 137.0L82.0 114.0M100.0 137.0L94.4 113.7M100.0 137.0L80.5 104.1M100.0 137.0L110.2 132.9M100.0 137.0L84.8 129.8M100.0 137.0L97.1 136.5M100.0 137.0L94.1 139.5M100.0 137.0L119.4 146.4M100.0 137.0L107.4 146.7M100.0 137.0L83.6 98.2M100.0 137.0L97.2 103.2M100.0 137.0L81.4 103.0M100.0 137.0L96.7 113.4M100.0 137.0L105.1 126.4M100.0 137.0L104.4 117.4M100.0 137.0L75.2 118.1M100.0 137.0L82.9 102.0M100.0 137.0L89.2 105.1M100.0 137.0L101.3 116.5M100.0 137.0L119.7 144.7M100.0 137.0L92.7 129.9M100.0 137.0L84.3 127.8M100.0 137.0L107.3 125.4M100.0 137.0L81.6 103.7M100.0 137.0L75.7 115.3M100.0 137.0L79.1 104.3M100.0 137.0L111.6 139.5M100.0 137.0L101.8 138.2M100.0 137.0L95.5 118.5M100.0 137.0L104.3 119.2M100.0 137.0L107.7 167.4M100.0 137.0L92.6 141.9M100.0 137.0L87.7 130.9M100.0 137.0L89.5 132.3M100.0 137.0L102.1 109.6M100.0 137.0L95.0 127.4M100.0 137.0L117.3 135.4M100.0 137.0L91.3 94.4M100.0 137.0L80.1 120.7M100.0 137.0L87.6 129.1M100.0 137.0L93.2 111.3M100.0 137.0L99.9 127.4M100.0 137.0L86.8 133.7M100.0 137.0L101.0 153.6M100.0 137.0L96.0 116.3M100.0 137.0L108.8 148.4M100.0 137.0L91.0 121.9M100.0 137.0L101.8 119.5M100.0 137.0L107.2 160.2M100.0 137.0L98.1 141.7M100.0 137.0L91.0 96.1M100.0 137.0L117.3 138.4M100.0 137.0L99.8 106.1M100.0 137.0L105.9 145.8M100.0 137.0L104.2 158.5M100.0 137.0L89.8 91.6M100.0 137.0L121.6 144.3M100.0 137.0L100.9 128.3M100.0 137.0L98.7 146.4M100.0 137.0L90.4 138.5M100.0 137.0L111.1 132.9M100.0 137.0L114.2 158.7M100.0 137.0L109.1 133.1M100.0 137.0L101.4 115.9M100.0 137.0L102.3 146.4M100.0 137.0L119.5 143.1M100.0 137.0L106.1 150.3M100.0 137.0L100.6 138.5M100.0 137.0L81.1 103.1M100.0 137.0L101.0 138.4M100.0 137.0L90.0 123.4M100.0 137.0L107.2 133.7M100.0 137.0L101.9 125.8M100.0 137.0L118.4 135.8M100.0 137.0L97.5 146.1M100.0 137.0L90.9 126.9M100.0 137.0L86.6 101.2M100.0 137.0L84.5 106.0M100.0 137.0L117.5 141.9M100.0 137.0L104.9 163.2M100.0 137.0L109.8 134.4M100.0 137.0L122.0 142.0M100.0 137.0L76.0 109.5M100.0 137.0L94.1 129.4M100.0 137.0L117.0 162.5M100.0 137.0L127.4 154.3M100.0 137.0L124.6 148.9M100.0 137.0L120.7 155.8M100.0 137.0L79.3 94.0M100.0 137.0L118.0 159.2M100.0 137.0L119.4 161.4M100.0 137.0L114.9 173.7M100.0 137.0L87.8 89.2M100.0 137.0L93.1 93.5M100.0 137.0L78.8 98.2M100.0 137.0L117.8 169.0M100.0 137.0L118.2 159.5M100.0 137.0L126.6 167.1M100.0 137.0L85.4 91.9M100.0 137.0L117.9 173.3M100.0 137.0L124.0 150.0M100.0 137.0L76.2 101.7M100.0 137.0L121.8 157.8M100.0 137.0L119.3 159.5M100.0 137.0L124.3 146.5M100.0 137.0L114.5 169.7M100.0 137.0L82.6 96.0M100.0 137.0L124.3 154.6M100.0 137.0L118.7 165.0M100.0 137.0L125.3 150.9M100.0 137.0L80.8 97.8M100.0 137.0L112.0 170.5M100.0 137.0L76.0 105.9M100.0 137.0L74.5 103.0M100.0 137.0L78.1 97.8M100.0 137.0L117.7 167.9M100.0 137.0L74.8 109.5M100.0 137.0L111.4 174.9M100.0 137.0L118.9 157.7M100.0 137.0L76.7 96.0M100.0 137.0L83.5 91.7M100.0 137.0L125.4 156.8M100.0 137.0L113.7 178.0M100.0 137.0L121.5 183.5M100.0 137.0L75.8 106.1M100.0 137.0L116.8 163.1M100.0 137.0L75.0 101.6M100.0 137.0L120.0 164.8M100.0 137.0L73.6 108.7M100.0 137.0L120.7 173.4M100.0 137.0L81.5 94.9M100.0 137.0L119.7 157.4M100.0 137.0L81.2 92.2M100.0 137.0L81.7 96.7M100.0 137.0L87.7 86.3M100.0 137.0L74.5 109.2M100.0 137.0L115.4 169.1M100.0 137.0L76.8 93.7M100.0 137.0L81.5 95.7M100.0 137.0L123.5 168.7M100.0 137.0L74.0 110.5M100.0 137.0L75.7 97.9M100.0 137.0L118.5 159.6M100.0 137.0L85.3 89.5M100.0 137.0L113.9 170.9M100.0 137.0L74.5 109.6M100.0 137.0L76.6 96.6M100.0 137.0L122.5 150.9M100.0 137.0L118.4 162.2M100.0 137.0L113.9 172.0M100.0 137.0L128.8 153.7M100.0 137.0L93.0 93.0M100.0 137.0L119.0 168.8M100.0 137.0L117.2 178.3M100.0 137.0L126.1 151.7M100.0 137.0L81.3 96.7M100.0 137.0L127.3 164.2M100.0 137.0L115.9 164.1M100.0 137.0L82.9 96.8M100.0 137.0L83.1 95.9M100.0 137.0L74.5 96.3M100.0 137.0L126.0 165.8M100.0 137.0L73.9 108.7M100.0 137.0L126.4 153.7M100.0 137.0L119.0 167.7M100.0 137.0L118.0 174.6M100.0 137.0L115.2 168.7M100.0 137.0L86.7 90.8M100.0 137.0L75.6 102.8M100.0 137.0L119.3 158.9M100.0 137.0L124.7 148.4M100.0 137.0L76.0 95.5M100.0 137.0L115.7 165.6M100.0 137.0L87.8 86.0M100.0 137.0L81.5 93.2M100.0 137.0L119.4 158.3M100.0 137.0L113.8 168.9M100.0 137.0L125.8 158.4M100.0 137.0L120.5 175.2M100.0 137.0L85.3 91.0M100.0 137.0L119.9 167.8M100.0 137.0L119.1 162.0M100.0 137.0L112.2 172.3M100.0 137.0L114.9 170.8M100.0 137.0L84.7 91.0M100.0 137.0L113.3 173.4M100.0 137.0L85.9 93.0M100.0 137.0L115.0 168.5M100.0 137.0L81.5 94.5M100.0 137.0L125.0 152.2M100.0 137.0L81.4 92.0M100.0 137.0L115.6 174.5M100.0 137.0L78.0 98.9M100.0 137.0L121.9 164.5M100.0 137.0L84.7 92.8M100.0 137.0L113.3 173.2M100.0 137.0L122.2 162.6M100.0 137.0L122.2 165.4M100.0 137.0L128.3 172.8M100.0 137.0L81.8 97.1M100.0 137.0L86.7 85.2M100.0 137.0L114.6 170.6M100.0 137.0L119.3 171.1M100.0 137.0L121.3 181.8M100.0 137.0L121.0 156.6M100.0 137.0L78.4 98.5M100.0 137.0L114.9 170.5M100.0 137.0L85.9 87.3M100.0 137.0L77.6 99.9M100.0 137.0L82.7 95.7M100.0 137.0L123.8 164.1M100.0 137.0L113.4 167.9M100.0 137.0L114.4 168.7M100.0 137.0L78.2 98.4M100.0 137.0L126.3 156.4M100.0 137.0L114.8 167.4M100.0 137.0L79.3 97.9M100.0 137.0L89.3 88.3M100.0 137.0L81.1 98.5M100.0 137.0L77.3 96.8M100.0 137.0L125.7 151.4M100.0 137.0L75.0 108.6M100.0 137.0L80.3 99.0M100.0 137.0L126.2 151.0M100.0 137.0L111.7 172.5M100.0 137.0L75.2 104.5M100.0 137.0L75.9 107.0M100.0 137.0L124.5 148.5M100.0 137.0L81.3 93.7M100.0 137.0L124.6 148.3M100.0 137.0L124.2 176.0M100.0 137.0L116.0 179.0M100.0 137.0L78.3 98.5M100.0 137.0L76.9 102.3M100.0 137.0L124.6 146.3M100.0 137.0L124.7 153.7M100.0 137.0L117.8 163.0M100.0 137.0L80.9 97.1M100.0 137.0L83.2 90.7M100.0 137.0L117.9 165.0M100.0 137.0L123.9 159.1M100.0 137.0L119.9 155.6M100.0 137.0L120.8 155.6M100.0 137.0L124.0 160.5M100.0 137.0L76.9 92.2M100.0 137.0L74.2 102.6M100.0 137.0L86.9 91.7M100.0 137.0L121.5 168.6M100.0 137.0L118.7 158.7M100.0 137.0L85.5 89.9M100.0 137.0L72.2 112.5M100.0 137.0L129.5 165.6M100.0 137.0L125.6 152.7M100.0 137.0L80.3 97.6M100.0 137.0L77.6 104.6M100.0 137.0L123.0 159.1M100.0 137.0L74.4 111.0M100.0 137.0L123.7 153.7M100.0 137.0L116.9 162.3M100.0 137.0L123.8 164.6M100.0 137.0L114.5 171.3M100.0 137.0L79.2 98.7M100.0 137.0L123.8 154.8M100.0 137.0L89.2 89.5M100.0 137.0L89.0 88.4M100.0 137.0L93.2 93.3M100.0 137.0L112.1 170.1M100.0 137.0L76.4 90.6M100.0 137.0L76.9 100.1M100.0 137.0L116.7 162.4M100.0 137.0L82.9 96.9M100.0 137.0L78.2 101.8M100.0 137.0L116.3 164.4M100.0 137.0L123.0 150.4M100.0 137.0L113.6 168.0M100.0 137.0L125.9 167.1M100.0 137.0L78.6 97.0M100.0 137.0L75.6 89.5M100.0 137.0L85.9 93.1M100.0 137.0L84.7 89.9M100.0 137.0L123.6 163.6M100.0 137.0L118.6 168.7M100.0 137.0L84.6 94.2M100.0 137.0L74.6 109.7M100.0 137.0L75.3 86.7M100.0 137.0L87.2 83.6M100.0 137.0L84.3 78.5M100.0 137.0L137.5 167.0M100.0 137.0L131.2 171.8M100.0 137.0L126.1 187.8M100.0 137.0L118.0 190.0M100.0 137.0L112.5 176.7M100.0 137.0L71.8 113.0M100.0 137.0L73.5 105.0" stroke="#A093E6" stroke-width="0.5" fill="none" stroke-opacity="1.0"/><path d="M128.8 111.3h0M116.7 107.3h0M119.0 106.3h0M121.4 132.1h0M117.5 81.1h0M126.8 83.6h0M128.0 104.1h0M116.1 119.9h0M118.3 78.3h0M118.4 99.9h0M111.6 96.3h0M126.6 98.9h0M122.5 104.4h0M112.9 102.3h0M101.1 85.8h0M113.6 103.3h0M115.1 100.0h0M127.9 134.4h0M130.6 83.2h0M125.3 78.6h0M133.2 134.8h0M126.6 115.2h0M99.0 96.3h0M122.2 126.1h0M104.4 108.3h0M127.6 86.5h0M131.9 121.4h0M123.1 133.7h0M100.0 97.5h0M104.6 93.3h0M119.8 105.4h0M136.7 116.7h0M111.1 92.1h0M125.8 123.8h0M117.1 90.0h0M119.9 109.4h0M115.8 95.8h0M114.7 87.9h0M102.6 84.9h0M122.1 86.7h0M119.1 135.0h0M105.5 104.2h0M104.4 80.2h0M129.6 100.4h0M112.0 94.6h0M120.5 77.3h0M112.3 77.1h0M122.0 115.4h0M137.1 114.1h0M133.6 92.2h0M110.6 91.5h0M124.9 127.3h0M125.0 130.0h0M104.4 95.0h0M118.1 94.9h0M96.0 83.7h0M98.2 94.6h0M105.8 91.2h0M133.9 94.3h0M126.5 96.3h0M128.8 104.3h0M104.8 99.1h0M103.9 93.9h0M135.0 106.8h0M129.3 101.6h0M129.4 125.5h0M133.0 86.8h0M129.7 126.1h0M124.6 90.5h0M132.1 105.4h0M132.6 133.2h0M129.1 128.6h0M103.5 105.3h0M135.0 135.4h0M114.0 74.6h0M117.5 110.1h0M123.5 126.7h0M133.4 111.3h0M134.4 129.3h0M108.8 95.7h0M107.3 85.0h0M136.7 126.1h0M129.2 119.1h0M124.3 84.8h0M122.1 76.9h0M99.9 103.3h0M130.7 137.7h0M130.9 129.2h0M123.2 133.1h0M112.6 123.4h0M134.5 95.7h0M120.2 101.8h0M123.7 91.1h0M114.2 78.1h0M116.6 78.8h0M90.3 84.2h0M126.0 82.8h0M120.5 128.0h0M127.0 126.9h0M123.7 108.9h0M126.5 101.4h0M112.2 76.8h0M114.9 118.4h0M112.6 80.4h0M132.7 110.4h0M113.0 107.8h0M131.7 87.5h0M112.6 100.8h0M126.3 91.7h0M104.9 107.8h0M123.3 86.4h0M123.5 128.1h0M118.5 109.6h0M112.5 100.6h0M127.8 122.6h0M113.6 103.7h0M129.5 117.0h0M95.1 83.3h0M109.1 110.2h0M118.1 116.8h0M126.2 114.0h0M103.6 109.8h0M125.9 113.4h0M131.0 118.0h0M132.0 137.9h0M114.0 127.0h0M123.4 128.9h0M135.2 120.3h0M113.8 99.2h0M134.9 121.6h0M131.1 89.9h0M93.0 82.3h0M125.3 109.8h0M128.9 86.9h0M133.9 125.8h0M133.0 114.3h0M103.1 106.0h0M95.9 90.6h0M135.1 133.3h0M108.8 106.2h0M125.7 132.8h0M125.3 95.8h0M122.5 82.4h0M127.0 84.9h0M128.8 97.7h0M120.7 110.1h0M116.8 128.5h0M123.2 89.5h0M101.2 105.8h0M119.4 110.5h0M113.7 93.6h0M94.1 79.8h0M102.0 93.0h0M120.2 90.7h0M113.7 84.0h0M125.3 115.9h0M124.7 85.6h0M136.9 112.7h0M107.0 103.5h0M118.3 113.2h0M101.1 85.4h0M105.4 97.8h0M124.9 129.5h0M96.9 83.2h0M118.6 79.0h0M133.2 94.9h0M124.0 105.7h0M122.8 112.6h0M124.9 108.9h0M101.1 87.2h0M133.5 92.2h0M133.6 95.1h0M107.5 110.6h0M126.8 107.2h0M108.7 78.3h0M121.0 117.5h0M133.9 107.3h0M132.0 125.1h0M124.6 95.0h0M129.7 102.5h0M117.0 124.3h0M109.6 85.0h0M103.3 97.9h0M98.5 78.5h0M109.5 105.5h0M105.3 92.6h0M118.3 84.2h0M131.2 123.7h0M106.4 103.4h0M108.8 106.1h0M131.4 104.8h0M100.5 82.7h0M91.1 88.3h0M121.6 94.5h0M104.3 85.5h0M97.0 97.9h0M120.5 103.9h0M130.1 123.2h0M125.5 136.8h0M106.9 103.1h0M122.9 112.3h0M96.1 88.1h0M117.0 80.6h0M120.1 107.2h0M114.6 107.6h0M126.8 130.4h0M96.1 84.5h0M123.8 85.6h0M111.4 83.2h0M128.1 125.5h0M114.1 76.4h0M105.2 83.7h0M105.7 91.6h0M119.5 106.2h0M112.8 91.1h0M123.2 116.7h0M112.0 104.0h0M110.5 119.4h0M116.0 109.9h0M120.2 95.6h0M97.4 78.7h0M115.2 96.5h0M121.7 78.5h0M122.3 101.0h0M119.4 83.1h0M129.5 105.0h0M133.9 134.8h0M120.1 83.1h0M120.2 76.0h0M121.0 125.3h0M95.5 83.4h0M121.0 97.6h0M114.3 77.9h0M125.9 78.0h0M129.1 108.6h0M128.6 128.0h0M114.4 97.7h0M122.1 129.9h0M121.3 116.1h0M128.2 96.9h0M96.0 91.2h0M120.9 111.2h0M102.7 90.8h0M127.1 140.2h0M107.2 103.4h0M124.9 81.7h0M97.7 80.5h0M133.3 112.7h0M119.5 112.8h0M100.6 87.6h0M126.5 94.2h0M127.0 95.7h0M131.2 121.5h0M118.4 89.4h0M111.7 98.0h0M118.7 97.4h0M116.3 110.5h0M129.7 110.3h0M131.2 106.4h0M128.3 96.7h0M112.6 84.0h0M129.6 131.7h0M118.6 99.6h0M126.4 111.1h0M126.9 127.5h0M121.3 127.6h0M104.3 108.2h0M98.0 92.1h0M105.5 109.5h0M107.9 84.3h0M124.4 85.9h0M116.7 85.6h0M132.6 120.2h0M103.2 85.4h0M127.1 134.1h0M134.0 96.0h0M114.5 76.0h0M116.6 121.1h0M108.2 101.6h0M118.8 81.2h0M102.0 84.8h0M135.8 113.6h0M133.0 101.3h0M113.3 99.9h0M110.7 76.5h0M119.7 114.1h0M122.5 131.6h0M114.9 85.1h0M119.3 123.2h0M111.6 110.5h0M115.1 117.4h0M121.0 106.5h0M116.9 76.6h0M131.0 123.8h0M107.5 76.8h0M96.9 95.2h0M119.7 115.3h0M107.1 82.4h0M114.0 118.5h0M116.4 87.5h0M116.7 78.6h0M136.8 101.5h0M107.0 112.9h0M116.1 102.7h0M128.5 137.6h0M124.2 130.1h0M123.4 110.9h0M119.9 124.5h0M113.3 89.6h0M98.3 81.3h0M124.8 107.7h0M125.7 131.4h0M110.4 95.7h0M113.2 100.1h0M111.7 78.8h0M104.7 86.0h0M132.4 130.5h0M131.3 109.4h0M125.0 95.1h0M124.3 78.6h0M123.7 117.9h0M130.9 136.9h0M93.1 88.7h0M123.5 111.7h0M133.5 109.9h0M110.9 85.8h0M136.2 104.5h0M129.1 113.4h0M104.9 100.1h0M109.9 85.6h0M129.1 97.8h0M122.5 94.3h0M111.4 96.7h0M122.1 121.2h0M118.6 91.2h0M133.7 99.9h0M135.3 102.0h0M134.3 105.7h0M107.6 91.7h0M107.9 100.9h0M134.2 99.0h0M129.8 130.5h0M97.4 95.8h0M119.6 95.1h0M132.5 109.3h0M136.8 123.6h0M107.6 114.3h0M124.0 93.7h0M120.6 93.7h0M105.9 109.1h0M131.0 94.3h0M116.3 86.8h0M132.9 131.0h0M125.4 141.3h0M128.1 120.7h0M128.5 81.6h0M114.0 107.3h0M110.6 104.4h0M99.0 101.1h0M124.5 81.3h0M102.8 103.4h0M111.3 115.4h0M124.4 87.4h0M130.5 130.3h0M96.2 91.5h0M113.1 116.9h0M107.1 113.6h0M133.7 88.1h0M113.7 85.3h0M124.1 81.6h0M93.5 80.0h0M131.8 104.6h0M137.3 124.7h0M124.4 127.5h0M134.5 115.8h0M103.6 86.1h0M104.7 109.8h0M127.4 88.3h0M108.1 111.0h0M123.4 136.1h0M127.3 96.2h0M126.9 88.6h0M137.6 117.3h0M123.5 97.1h0M124.6 102.7h0M117.1 124.0h0M107.7 105.6h0M123.5 81.5h0M132.9 122.0h0M138.0 114.6h0M121.4 94.0h0M95.0 92.1h0M130.2 113.0h0M116.8 86.9h0M128.3 89.1h0M127.9 106.3h0M110.4 75.8h0M91.7 81.3h0M130.7 114.7h0M110.3 110.9h0M130.1 124.5h0M111.2 102.4h0M106.0 75.0h0M114.1 126.0h0M97.7 89.1h0M102.9 90.6h0M102.5 93.8h0M127.6 112.5h0M127.1 84.9h0M97.3 99.0h0M129.0 99.9h0M96.6 93.0h0M123.6 133.7h0M124.4 127.2h0M98.9 100.7h0M130.3 119.7h0M133.0 86.6h0M121.8 136.8h0M122.6 82.0h0M126.2 131.8h0M126.3 136.0h0M115.3 76.0h0M112.3 92.7h0M123.7 127.3h0M117.3 123.5h0M118.8 110.9h0M94.3 82.4h0M117.2 84.7h0M135.1 112.8h0M135.9 114.5h0M125.3 85.9h0M131.1 100.5h0M102.9 99.3h0M110.7 115.3h0M128.3 105.9h0M134.2 132.6h0M113.1 117.2h0M123.0 132.6h0M109.7 104.3h0M133.6 106.9h0M104.7 111.3h0M114.0 110.2h0M114.3 80.6h0M115.3 103.0h0M111.5 90.1h0M122.6 99.5h0M135.5 102.2h0M105.6 75.9h0M132.8 126.4h0M117.4 85.5h0M129.1 126.5h0M118.1 77.6h0M119.3 79.9h0M100.6 101.8h0M126.8 121.4h0M109.0 83.2h0M126.1 99.9h0M129.9 90.6h0M95.6 87.0h0M123.7 104.0h0M128.7 93.6h0M126.3 117.1h0M99.3 94.6h0M128.5 101.1h0M130.1 126.2h0M98.8 101.4h0M107.8 84.2h0M114.5 120.4h0M119.6 124.0h0M135.2 107.0h0M123.0 96.4h0M134.3 97.2h0M104.5 98.6h0M115.1 116.2h0M133.4 122.7h0M115.9 128.2h0M103.4 83.7h0M129.2 92.5h0M120.4 76.8h0M135.2 105.8h0M119.5 84.3h0M111.6 104.9h0M121.8 91.9h0M130.3 90.7h0M111.3 79.0h0M129.6 114.6h0M118.4 92.9h0M113.4 124.7h0M120.6 136.3h0M123.6 111.4h0M129.0 112.6h0M130.8 91.6h0M91.5 88.4h0M99.1 86.6h0M124.8 97.3h0M96.9 80.4h0M133.6 122.2h0M113.2 108.0h0M112.7 101.6h0M126.5 117.8h0M128.0 98.1h0M109.5 117.5h0M125.5 91.3h0M128.7 140.0h0M105.0 91.5h0M129.3 81.9h0M125.6 104.5h0M135.2 98.1h0M92.9 84.1h0M102.7 89.3h0M130.0 130.2h0M128.2 102.2h0M111.8 110.4h0M109.2 92.2h0M131.2 113.6h0M121.9 135.9h0M123.8 121.8h0M97.8 86.1h0M113.4 123.0h0M129.2 81.4h0M100.1 104.1h0M130.5 132.2h0M127.7 111.9h0M136.9 100.4h0M116.5 95.1h0M135.8 115.5h0M114.9 100.0h0M130.3 104.7h0M121.5 98.9h0M116.8 117.5h0M125.6 78.4h0M98.3 99.2h0M130.5 92.9h0M114.2 122.4h0M124.0 130.6h0M130.5 90.6h0M124.1 88.1h0M118.2 81.4h0M133.7 96.2h0M105.0 95.2h0M128.2 123.8h0M124.8 106.0h0M133.0 98.4h0M131.4 104.8h0M91.6 83.2h0M111.6 77.2h0M130.7 97.0h0M129.8 128.1h0M120.7 91.4h0M119.4 111.0h0M133.2 136.3h0M133.2 115.0h0M132.8 137.3h0M104.8 88.5h0M110.5 107.8h0M103.3 92.0h0M131.8 126.7h0M112.6 104.0h0M94.6 82.6h0M128.4 88.5h0M129.1 105.2h0M101.2 100.7h0M115.2 119.4h0M91.0 88.9h0M99.8 100.5h0M108.9 115.8h0M132.6 89.9h0M114.7 115.0h0M116.5 114.0h0M93.5 90.2h0M98.1 78.5h0M120.4 95.8h0M125.2 79.3h0M121.2 76.0h0M121.3 101.5h0M93.5 86.6h0M114.4 86.9h0M123.0 119.1h0M125.8 83.1h0M107.0 101.6h0M120.4 128.1h0M130.3 107.5h0M108.0 87.1h0M111.4 76.1h0M101.3 99.0h0M112.2 100.1h0M95.5 95.0h0M128.9 119.4h0M133.7 93.8h0M127.2 116.3h0M101.3 104.1h0M103.5 91.5h0M137.4 110.0h0M99.4 97.0h0M132.5 118.5h0M124.7 109.7h0M125.1 101.5h0M115.8 111.1h0M125.9 95.7h0M135.6 127.0h0M127.7 92.0h0M92.0 83.7h0M123.9 130.8h0M129.2 136.3h0M109.3 103.8h0M98.5 77.4h0M107.0 97.2h0M116.6 84.7h0M124.2 104.7h0M109.2 102.7h0M120.6 104.0h0M123.6 120.3h0M122.8 119.9h0M113.9 84.9h0M135.5 112.0h0M121.5 83.0h0M133.2 133.9h0M110.8 97.8h0M100.3 88.9h0M101.3 82.9h0M128.7 120.8h0M114.2 84.9h0M114.5 79.6h0M118.3 127.5h0M132.3 88.6h0M133.7 116.5h0M102.1 82.3h0M130.2 128.7h0M125.9 122.7h0M124.4 124.1h0M133.4 113.7h0M125.7 121.3h0M103.9 91.3h0M117.1 89.4h0M121.0 97.2h0M106.7 98.0h0M126.9 132.5h0M114.2 94.3h0M117.8 93.3h0M120.9 129.6h0M107.4 82.0h0M105.1 91.4h0M105.8 92.4h0M111.8 101.4h0M125.8 87.1h0M97.3 80.0h0M105.4 99.6h0M130.8 124.1h0M103.7 106.1h0M96.7 78.7h0M105.0 95.8h0M129.0 126.6h0M118.2 101.9h0M101.0 82.3h0M132.4 89.9h0M117.5 103.9h0M125.9 124.9h0M126.9 88.2h0M102.5 79.8h0M93.1 89.8h0M120.5 97.6h0M135.4 125.0h0M122.4 130.3h0M126.8 80.7h0M96.3 89.3h0M90.0 85.8h0M115.9 118.5h0M128.0 117.6h0M110.5 105.3h0M125.3 94.7h0M123.5 103.4h0M124.2 83.1h0M127.3 112.5h0M136.5 101.4h0M123.3 95.4h0M122.7 133.1h0M106.5 111.5h0M131.4 100.2h0M115.3 119.2h0M129.2 115.4h0M106.4 90.7h0M110.4 121.4h0M96.8 94.9h0M114.1 124.6h0M120.4 82.0h0M130.1 139.5h0M111.2 116.5h0M124.6 82.6h0M95.4 81.3h0M126.7 117.7h0M118.3 130.2h0M108.2 97.9h0M122.6 129.9h0M106.7 82.0h0M108.8 101.9h0M122.6 125.1h0M130.4 102.3h0M127.7 110.1h0M123.2 99.8h0M106.4 108.3h0M126.6 128.8h0M122.5 94.8h0M117.2 130.1h0M108.1 114.3h0M127.4 109.2h0M97.1 79.9h0M122.2 132.9h0M120.4 133.8h0M114.2 116.0h0M131.5 85.0h0M106.0 87.1h0M127.0 124.2h0M131.3 102.8h0M106.4 105.2h0M125.3 126.5h0M132.5 137.2h0M124.7 131.2h0M93.9 87.0h0M102.0 98.1h0M116.2 121.7h0M103.5 92.1h0M120.9 136.1h0M131.9 114.9h0M119.9 85.0h0M110.6 104.8h0M120.3 136.3h0M124.3 88.8h0M106.6 114.3h0M114.0 116.3h0M106.6 87.1h0M129.4 137.3h0M114.3 127.5h0M125.0 114.4h0M116.3 115.8h0M117.7 114.8h0M111.6 89.6h0M124.1 123.9h0M125.0 93.5h0M107.6 108.4h0M131.0 117.9h0M118.3 120.0h0M117.0 95.8h0M129.9 139.5h0M109.1 86.0h0M118.8 78.5h0M115.2 79.7h0M123.7 140.7h0M106.0 109.8h0M106.5 75.9h0M114.7 95.2h0M110.6 106.0h0M124.3 103.4h0M107.3 88.5h0M115.1 80.9h0M105.9 109.7h0M121.5 89.2h0M104.8 111.6h0M112.8 97.9h0M104.3 87.8h0M112.3 82.0h0M129.4 110.3h0M114.7 100.6h0M119.7 120.8h0M130.9 124.8h0M125.6 131.5h0M119.1 109.0h0M129.7 121.2h0M105.4 99.9h0M122.6 121.9h0M98.6 99.9h0M107.9 101.5h0M122.6 93.5h0M127.7 113.0h0M111.0 118.5h0M104.2 87.0h0M99.4 92.8h0M130.7 139.6h0M107.9 96.7h0M108.5 97.9h0M102.1 88.1h0M126.1 81.7h0M106.9 102.9h0M93.8 82.9h0M102.5 91.4h0M104.2 107.3h0M108.9 87.5h0M136.3 123.3h0M106.9 81.7h0M106.6 103.8h0M109.1 90.1h0M102.4 94.9h0M111.8 110.2h0M132.0 138.0h0M104.1 101.7h0M106.8 87.2h0M119.1 103.2h0M133.2 93.7h0M123.0 104.1h0M101.1 97.5h0M130.3 120.2h0M113.9 84.1h0M103.3 107.9h0M124.2 115.0h0M117.7 89.6h0M109.3 84.0h0M131.8 111.3h0M123.0 96.8h0M111.0 117.8h0M131.1 134.6h0M104.0 107.3h0M130.0 113.2h0M110.4 103.1h0M119.7 125.7h0M117.5 107.4h0M124.3 90.8h0M127.3 121.5h0M126.8 79.0h0M114.4 103.8h0M95.3 94.3h0M134.4 107.9h0M105.6 95.1h0M131.8 122.2h0M101.6 84.8h0M132.7 117.4h0M131.9 114.4h0M124.8 132.4h0M129.3 110.0h0M120.5 135.1h0M125.1 137.3h0M105.6 106.0h0M114.3 79.5h0M118.5 85.5h0M115.1 119.7h0M119.3 124.1h0M116.8 78.9h0M103.9 91.5h0M96.9 90.4h0M134.8 99.6h0M115.3 127.7h0M126.6 103.0h0M126.0 118.1h0M127.0 97.6h0M119.2 118.0h0M111.4 76.1h0M128.7 97.4h0M125.6 125.7h0M125.1 86.3h0M123.1 122.4h0M103.4 103.4h0M102.8 84.3h0M109.2 96.7h0M109.7 75.4h0M119.5 133.2h0M96.9 82.5h0M110.7 101.1h0M135.0 105.4h0M109.7 96.8h0M102.2 87.6h0M103.0 107.1h0M137.1 112.6h0M119.3 113.2h0M110.3 105.6h0M109.9 90.7h0M115.6 122.7h0M135.7 103.5h0M117.1 84.4h0M135.3 124.8h0M102.3 79.0h0M128.4 109.6h0M125.0 130.9h0M106.6 83.9h0M134.3 132.4h0M118.8 87.9h0M127.0 79.7h0M119.0 91.7h0M112.7 107.1h0M116.6 84.9h0M102.1 80.5h0M111.7 85.4h0M118.1 85.4h0M108.9 97.8h0M119.7 81.1h0M133.7 91.5h0M132.0 133.0h0M105.8 112.6h0M109.3 114.2h0M133.7 134.1h0M136.9 100.1h0M126.1 86.5h0M114.9 105.7h0M124.0 120.5h0M125.8 92.6h0M95.2 92.8h0M117.2 110.0h0M129.2 126.5h0M130.9 110.0h0M117.3 117.4h0M108.2 106.3h0M110.9 76.9h0M124.6 133.9h0M127.1 98.3h0M122.9 101.4h0M113.5 92.0h0M117.7 91.6h0M121.6 138.3h0M111.1 117.6h0M115.3 121.9h0M103.4 79.1h0M93.2 91.7h0M110.8 80.9h0M133.4 125.2h0M131.8 121.4h0M105.8 76.8h0M100.5 77.5h0M136.6 128.8h0M98.6 81.7h0M95.9 88.8h0M123.3 137.3h0M98.2 91.2h0M129.3 128.7h0M110.3 95.4h0M114.3 117.2h0M98.0 83.3h0M113.1 115.1h0M134.5 94.5h0M105.1 96.3h0M121.1 76.6h0M118.4 127.8h0M99.5 87.9h0M111.3 114.1h0M102.9 85.6h0M100.2 88.5h0M134.1 107.7h0M105.7 102.3h0M112.3 116.7h0M121.9 82.8h0M126.8 105.6h0M112.9 114.9h0M122.2 84.2h0M121.6 132.0h0M130.3 123.3h0M112.9 116.9h0M130.6 132.4h0M110.5 85.3h0M113.6 96.6h0M113.8 120.0h0M105.7 94.5h0M95.7 83.2h0M124.1 93.3h0M122.4 131.2h0M100.6 96.5h0M117.4 91.7h0M135.4 113.8h0M114.5 107.1h0M124.3 99.9h0M124.4 133.3h0M131.8 98.7h0M111.0 117.1h0M119.0 115.7h0M131.9 91.4h0M117.6 126.0h0M127.2 137.3h0M100.6 101.2h0M121.9 129.9h0M111.9 114.2h0M110.5 101.2h0M120.0 84.0h0M98.0 81.7h0M100.8 94.1h0M107.7 86.5h0M124.0 137.7h0M102.8 100.4h0M109.9 110.3h0M130.1 94.9h0M136.3 131.6h0M135.5 96.1h0M106.8 114.9h0M110.4 95.7h0M115.7 113.7h0M115.9 108.6h0M122.8 107.7h0M137.4 110.9h0M111.2 75.3h0M131.8 105.3h0M136.4 105.0h0M109.6 93.0h0M118.7 127.8h0M119.9 94.0h0M125.5 91.7h0M115.6 123.4h0M135.5 118.2h0M95.0 93.2h0M115.3 114.5h0M126.1 112.2h0M100.6 100.6h0M108.0 114.5h0M123.0 115.1h0M106.1 98.2h0M130.4 91.3h0M119.4 105.6h0M117.3 95.0h0M102.8 79.7h0M118.9 93.8h0M110.8 84.2h0M134.5 136.4h0M100.4 87.4h0M102.4 103.9h0M128.0 116.9h0M123.8 96.5h0M107.9 86.5h0M115.8 120.1h0M118.3 97.9h0M137.1 115.0h0M129.0 138.0h0M120.8 136.3h0M106.5 98.6h0M96.9 79.7h0M116.7 130.6h0M125.7 101.1h0M127.0 118.3h0M125.0 136.0h0M137.2 119.4h0M102.7 99.3h0M132.8 106.9h0M109.3 83.1h0M126.4 124.7h0M120.7 122.1h0M99.4 88.8h0M132.1 96.5h0M103.9 109.1h0M93.8 86.9h0M127.0 84.9h0M128.9 133.0h0M131.4 108.9h0M135.2 123.8h0M112.9 99.2h0M112.2 98.6h0M131.3 88.5h0M108.5 80.3h0M114.4 121.4h0M127.9 107.6h0M123.9 79.7h0M122.4 118.0h0M109.9 90.7h0M125.0 113.5h0M114.3 84.9h0M95.5 90.7h0M105.0 89.8h0M130.8 114.2h0M110.0 86.4h0M102.9 104.8h0M126.4 98.3h0M110.9 77.3h0M100.7 79.0h0M106.7 111.0h0M127.4 105.8h0M111.9 120.6h0M100.7 102.4h0M119.5 86.7h0M130.1 119.6h0M131.8 103.3h0M114.7 92.0h0M133.9 106.3h0M96.2 86.3h0M132.6 110.3h0M104.1 110.8h0M104.3 105.0h0M95.0 89.6h0M126.0 137.2h0M129.4 136.7h0M93.3 85.5h0M103.9 95.5h0M116.1 87.7h0M111.3 104.0h0M135.0 127.0h0M111.9 99.2h0M127.0 127.6h0M114.5 104.2h0M115.7 121.3h0M111.1 84.1h0M99.9 102.8h0M122.3 129.5h0M129.2 81.0h0M134.9 126.3h0M121.7 103.5h0M131.0 120.0h0M110.2 111.0h0M122.9 132.2h0M120.6 111.9h0M130.3 93.1h0M132.7 132.7h0M112.3 113.7h0M117.5 106.7h0M111.5 83.1h0M123.4 96.5h0M118.4 112.9h0M116.9 105.8h0M102.5 92.8h0M131.8 86.6h0M125.1 124.0h0M141.4 78.9h0M140.3 113.5h0M139.8 129.7h0M139.5 132.2h0M116.0 73.3h0M129.7 77.8h0M127.6 73.8h0M128.7 78.2h0M87.1 81.6h0M135.5 88.1h0M149.2 108.3h0M100.9 73.0h0M142.1 101.4h0M141.2 87.0h0M118.7 73.9h0M144.3 110.5h0M122.5 76.1h0M151.7 100.6h0M138.6 94.9h0M137.1 135.1h0M134.1 86.5h0M129.0 143.1h0M121.2 69.9h0M88.1 83.5h0M123.8 74.6h0M136.0 140.2h0M129.4 140.6h0M105.1 70.0h0M138.9 117.8h0M115.9 69.3h0M128.9 76.8h0M131.0 139.7h0M135.0 84.8h0M124.7 141.8h0M138.3 125.0h0M100.5 72.9h0M131.6 59.6h0M139.7 147.0h0M138.9 99.7h0M137.2 99.5h0M119.2 55.7h0M141.1 97.4h0M149.8 136.6h0M123.8 142.2h0M141.1 113.7h0M90.3 80.4h0M141.6 82.1h0M136.3 96.0h0M138.9 98.0h0M140.2 94.3h0M136.7 73.7h0M132.0 82.0h0M134.8 87.4h0M138.1 128.1h0M137.0 133.3h0M145.0 113.9h0M120.4 70.9h0M145.8 131.8h0M85.9 75.9h0M130.0 78.1h0M110.9 71.2h0M122.6 74.3h0M132.6 83.6h0M148.0 99.4h0M98.1 71.8h0M119.5 74.8h0M126.3 77.4h0M131.9 143.0h0M121.5 66.5h0M130.8 145.3h0M133.8 141.8h0M127.2 78.1h0M109.4 71.8h0M139.9 114.6h0M93.6 79.3h0M96.8 75.2h0M99.1 73.0h0M146.9 132.5h0M127.9 144.0h0M137.3 130.4h0M110.7 71.8h0M134.2 73.9h0M134.0 146.6h0M137.3 92.8h0M139.9 84.3h0M86.2 80.0h0M128.4 141.6h0M149.8 116.9h0M134.4 84.2h0M113.3 73.6h0M135.2 143.3h0M133.1 140.7h0M93.1 79.7h0M87.7 79.6h0M137.8 88.9h0M134.7 136.8h0M142.2 94.7h0M131.8 74.1h0M129.0 74.5h0M132.1 82.3h0M128.9 141.8h0M133.2 72.7h0M136.9 84.9h0M141.7 122.9h0M117.0 72.0h0M114.0 73.1h0M140.1 118.7h0M135.4 140.9h0M127.6 69.8h0M85.6 76.2h0M136.9 89.1h0M130.4 76.1h0M142.6 98.1h0M114.8 72.5h0M132.2 139.3h0M98.4 76.5h0M140.0 121.6h0M141.6 128.7h0M130.5 82.6h0M147.6 127.1h0M88.9 77.7h0M124.1 67.9h0M107.7 67.0h0M112.5 71.0h0M124.4 70.9h0M104.3 74.1h0M130.4 77.1h0M140.4 117.8h0M131.6 77.4h0M135.0 88.5h0M137.9 91.8h0M147.1 109.0h0M91.9 79.7h0M97.6 76.9h0M132.5 143.8h0M131.5 145.8h0M109.7 73.7h0M131.7 83.4h0M137.8 127.4h0M109.5 71.8h0M109.0 65.2h0M145.5 91.9h0M88.7 85.1h0M90.4 82.5h0M84.1 76.8h0M145.4 97.9h0M91.6 78.8h0M128.7 75.9h0M130.6 74.5h0M103.3 74.6h0M140.5 116.9h0M139.0 109.2h0M140.7 121.7h0M113.4 71.7h0M116.9 73.3h0M137.8 111.8h0M90.5 82.0h0M142.8 124.9h0M118.4 70.1h0M101.0 66.4h0M134.2 148.9h0M141.9 111.9h0M90.7 78.0h0M139.5 107.5h0M89.0 81.0h0M129.5 143.0h0M131.5 79.6h0M127.0 143.0h0M139.1 92.0h0M135.1 135.8h0M110.0 73.4h0M143.6 127.5h0M139.0 131.8h0M136.7 90.4h0M135.7 140.5h0M137.0 91.2h0M118.4 70.3h0M139.0 113.1h0M114.9 69.1h0M118.0 71.8h0M140.9 122.9h0M137.0 134.9h0M145.6 149.4h0M136.9 89.2h0M137.9 109.8h0M139.0 113.8h0M135.5 80.2h0M124.8 72.6h0M90.2 81.3h0M142.0 106.5h0M103.7 56.0h0M116.1 59.1h0M127.5 49.9h0M141.3 34.8h0M148.5 52.8h0M151.7 53.9h0M135.8 59.1h0M144.5 58.7h0M140.1 63.1h0M160.1 65.6h0M163.1 75.9h0M142.9 74.8h0M147.7 80.6h0M150.9 92.5h0M155.3 92.5h0M144.5 81.4h0M146.1 101.3h0M146.9 114.8h0M147.7 124.4h0M144.5 118.0h0M148.8 128.2h0M147.2 131.7h0M149.6 138.5h0M145.6 139.3h0M141.7 140.0h0M147.2 148.0h0M144.0 154.4h0M145.6 156.0h0M126.0 142.9h0M134.3 154.3h0M142.6 147.3h0M142.8 154.4h0M146.9 155.5h0M139.5 153.5h0M133.9 156.7h0M137.1 147.3h0M136.0 143.4h0M142.9 145.1h0M133.7 153.1h0M136.9 159.7h0M147.7 156.6h0M132.6 148.5h0M126.5 144.2h0M137.1 142.8h0M144.7 144.9h0M137.8 164.6h0M130.1 148.5h0M150.3 149.2h0M136.2 148.4h0M144.8 155.4h0M142.5 159.8h0M134.1 143.9h0M130.8 149.7h0M141.8 143.8h0M138.0 141.4h0M141.1 145.9h0M139.5 158.1h0M133.1 158.3h0M133.9 142.9h0M132.8 150.9h0M146.6 159.5h0M144.1 163.1h0M145.3 147.0h0M81.5 73.1h0M107.1 50.2h0M142.9 29.0h0M159.5 35.5h0M173.3 101.7h0M164.5 141.4h0M143.3 169.3h0M138.5 168.5h0" stroke="#7EB0D5" stroke-width="2.4" stroke-linecap="round"/><path d="M78.1 150.2l1.48 2.50h-2.96zM76.2 138.4l1.48 2.50h-2.96zM75.9 146.6l1.48 2.50h-2.96zM72.4 180.1l1.48 2.50h-2.96zM84.1 195.8l1.48 2.50h-2.96zM69.2 160.9l1.48 2.50h-2.96zM81.6 138.8l1.48 2.50h-2.96zM85.4 169.1l1.48 2.50h-2.96zM74.8 144.2l1.48 2.50h-2.96zM105.2 185.2l1.48 2.50h-2.96zM71.7 179.3l1.48 2.50h-2.96zM72.8 145.9l1.48 2.50h-2.96zM71.9 177.0l1.48 2.50h-2.96zM75.9 145.5l1.48 2.50h-2.96zM70.2 153.4l1.48 2.50h-2.96zM96.8 190.9l1.48 2.50h-2.96zM88.6 180.7l1.48 2.50h-2.96zM109.9 181.4l1.48 2.50h-2.96zM83.1 139.4l1.48 2.50h-2.96zM96.2 155.1l1.48 2.50h-2.96zM96.0 167.1l1.48 2.50h-2.96zM100.8 187.8l1.48 2.50h-2.96zM84.3 162.8l1.48 2.50h-2.96zM91.6 153.6l1.48 2.50h-2.96zM83.5 189.8l1.48 2.50h-2.96zM92.2 164.8l1.48 2.50h-2.96zM85.7 185.0l1.48 2.50h-2.96zM75.7 173.2l1.48 2.50h-2.96zM69.0 173.2l1.48 2.50h-2.96zM103.2 186.8l1.48 2.50h-2.96zM86.8 146.7l1.48 2.50h-2.96zM75.4 180.2l1.48 2.50h-2.96zM90.8 194.2l1.48 2.50h-2.96zM90.8 174.8l1.48 2.50h-2.96zM84.2 153.3l1.48 2.50h-2.96zM87.2 158.7l1.48 2.50h-2.96zM92.3 188.8l1.48 2.50h-2.96zM92.5 179.0l1.48 2.50h-2.96zM99.8 172.5l1.48 2.50h-2.96zM74.8 149.6l1.48 2.50h-2.96zM89.0 173.0l1.48 2.50h-2.96zM80.8 130.7l1.48 2.50h-2.96zM70.5 181.4l1.48 2.50h-2.96zM72.5 163.6l1.48 2.50h-2.96zM89.1 149.3l1.48 2.50h-2.96zM83.8 177.0l1.48 2.50h-2.96zM78.2 164.1l1.48 2.50h-2.96zM76.5 129.0l1.48 2.50h-2.96zM91.7 194.3l1.48 2.50h-2.96zM89.7 190.4l1.48 2.50h-2.96zM78.5 161.3l1.48 2.50h-2.96zM79.7 183.7l1.48 2.50h-2.96zM84.4 136.1l1.48 2.50h-2.96zM79.6 177.0l1.48 2.50h-2.96zM105.3 183.0l1.48 2.50h-2.96zM100.4 181.1l1.48 2.50h-2.96zM76.3 163.7l1.48 2.50h-2.96zM107.9 191.1l1.48 2.50h-2.96zM76.7 187.7l1.48 2.50h-2.96zM80.0 135.5l1.48 2.50h-2.96zM92.1 175.4l1.48 2.50h-2.96zM83.1 131.1l1.48 2.50h-2.96zM73.0 169.1l1.48 2.50h-2.96zM72.6 163.1l1.48 2.50h-2.96zM103.0 179.2l1.48 2.50h-2.96zM73.1 139.0l1.48 2.50h-2.96zM96.1 165.0l1.48 2.50h-2.96zM81.7 159.6l1.48 2.50h-2.96zM100.0 169.2l1.48 2.50h-2.96zM92.4 184.0l1.48 2.50h-2.96zM88.2 173.4l1.48 2.50h-2.96zM76.0 182.5l1.48 2.50h-2.96zM92.1 159.5l1.48 2.50h-2.96zM91.3 167.9l1.48 2.50h-2.96zM85.5 181.1l1.48 2.50h-2.96zM70.9 186.3l1.48 2.50h-2.96zM74.5 139.7l1.48 2.50h-2.96zM110.7 189.3l1.48 2.50h-2.96zM107.2 190.8l1.48 2.50h-2.96zM80.0 127.9l1.48 2.50h-2.96zM110.0 182.3l1.48 2.50h-2.96zM78.4 173.0l1.48 2.50h-2.96zM70.3 185.7l1.48 2.50h-2.96zM80.8 150.6l1.48 2.50h-2.96zM81.5 191.9l1.48 2.50h-2.96zM86.9 192.2l1.48 2.50h-2.96zM105.6 182.8l1.48 2.50h-2.96zM77.7 171.9l1.48 2.50h-2.96zM80.2 151.0l1.48 2.50h-2.96zM102.3 165.5l1.48 2.50h-2.96zM84.3 169.4l1.48 2.50h-2.96zM83.0 159.1l1.48 2.50h-2.96zM94.1 160.0l1.48 2.50h-2.96zM101.6 193.6l1.48 2.50h-2.96zM76.5 192.4l1.48 2.50h-2.96zM109.4 184.3l1.48 2.50h-2.96zM87.2 162.0l1.48 2.50h-2.96zM89.3 194.0l1.48 2.50h-2.96zM78.3 187.1l1.48 2.50h-2.96zM69.8 177.4l1.48 2.50h-2.96zM78.0 184.2l1.48 2.50h-2.96zM92.0 183.8l1.48 2.50h-2.96zM81.8 156.3l1.48 2.50h-2.96zM96.0 164.9l1.48 2.50h-2.96zM85.4 177.0l1.48 2.50h-2.96zM93.8 168.5l1.48 2.50h-2.96zM82.0 129.8l1.48 2.50h-2.96zM76.6 153.9l1.48 2.50h-2.96zM109.1 188.1l1.48 2.50h-2.96zM93.9 184.5l1.48 2.50h-2.96zM83.9 191.3l1.48 2.50h-2.96zM84.3 165.9l1.48 2.50h-2.96zM77.6 148.3l1.48 2.50h-2.96zM88.1 190.0l1.48 2.50h-2.96zM69.5 151.1l1.48 2.50h-2.96zM81.9 141.4l1.48 2.50h-2.96zM89.4 143.4l1.48 2.50h-2.96zM74.3 178.2l1.48 2.50h-2.96zM69.2 171.1l1.48 2.50h-2.96zM79.5 149.6l1.48 2.50h-2.96zM107.7 177.9l1.48 2.50h-2.96zM101.4 191.2l1.48 2.50h-2.96zM88.8 151.0l1.48 2.50h-2.96zM105.2 173.1l1.48 2.50h-2.96zM101.0 186.3l1.48 2.50h-2.96zM94.0 173.1l1.48 2.50h-2.96zM73.5 160.1l1.48 2.50h-2.96zM90.5 182.9l1.48 2.50h-2.96zM75.6 158.7l1.48 2.50h-2.96zM96.8 188.0l1.48 2.50h-2.96zM94.1 172.5l1.48 2.50h-2.96zM75.7 186.4l1.48 2.50h-2.96zM78.8 159.6l1.48 2.50h-2.96zM69.5 170.1l1.48 2.50h-2.96zM71.4 136.0l1.48 2.50h-2.96zM97.0 165.7l1.48 2.50h-2.96zM88.9 177.0l1.48 2.50h-2.96zM71.2 182.9l1.48 2.50h-2.96zM78.3 154.8l1.48 2.50h-2.96zM111.1 190.5l1.48 2.50h-2.96zM83.7 132.8l1.48 2.50h-2.96zM80.1 161.7l1.48 2.50h-2.96zM73.7 156.9l1.48 2.50h-2.96zM86.6 191.5l1.48 2.50h-2.96zM78.6 154.3l1.48 2.50h-2.96zM88.4 185.9l1.48 2.50h-2.96zM85.5 194.6l1.48 2.50h-2.96zM109.3 189.0l1.48 2.50h-2.96zM86.0 182.8l1.48 2.50h-2.96zM97.7 182.9l1.48 2.50h-2.96zM80.0 179.9l1.48 2.50h-2.96zM74.1 187.6l1.48 2.50h-2.96zM85.7 148.8l1.48 2.50h-2.96zM74.2 170.5l1.48 2.50h-2.96zM79.6 156.9l1.48 2.50h-2.96zM77.2 124.0l1.48 2.50h-2.96zM76.1 191.0l1.48 2.50h-2.96zM93.2 189.4l1.48 2.50h-2.96zM81.8 130.6l1.48 2.50h-2.96zM88.9 159.8l1.48 2.50h-2.96zM68.7 160.1l1.48 2.50h-2.96zM76.8 186.6l1.48 2.50h-2.96zM100.2 166.4l1.48 2.50h-2.96zM111.6 187.3l1.48 2.50h-2.96zM102.6 185.9l1.48 2.50h-2.96zM85.3 176.5l1.48 2.50h-2.96zM87.2 160.2l1.48 2.50h-2.96zM98.6 191.2l1.48 2.50h-2.96zM88.6 194.1l1.48 2.50h-2.96zM85.4 142.7l1.48 2.50h-2.96zM110.6 186.2l1.48 2.50h-2.96zM96.6 183.8l1.48 2.50h-2.96zM98.2 160.1l1.48 2.50h-2.96zM102.4 184.6l1.48 2.50h-2.96zM97.5 178.5l1.48 2.50h-2.96zM94.5 187.8l1.48 2.50h-2.96zM87.1 189.6l1.48 2.50h-2.96zM78.4 136.5l1.48 2.50h-2.96zM105.6 176.5l1.48 2.50h-2.96zM91.1 188.4l1.48 2.50h-2.96zM97.2 169.3l1.48 2.50h-2.96zM93.1 153.9l1.48 2.50h-2.96zM75.5 152.3l1.48 2.50h-2.96zM92.5 180.1l1.48 2.50h-2.96zM79.0 174.8l1.48 2.50h-2.96zM79.7 190.4l1.48 2.50h-2.96zM71.3 149.8l1.48 2.50h-2.96zM97.7 192.7l1.48 2.50h-2.96zM82.9 153.7l1.48 2.50h-2.96zM105.5 186.5l1.48 2.50h-2.96zM90.7 174.3l1.48 2.50h-2.96zM71.0 174.5l1.48 2.50h-2.96zM77.9 170.2l1.48 2.50h-2.96zM81.3 167.0l1.48 2.50h-2.96zM90.1 146.9l1.48 2.50h-2.96zM98.0 173.1l1.48 2.50h-2.96zM88.8 163.1l1.48 2.50h-2.96zM78.1 154.1l1.48 2.50h-2.96zM98.9 172.0l1.48 2.50h-2.96zM80.2 135.3l1.48 2.50h-2.96zM75.6 181.6l1.48 2.50h-2.96zM97.3 163.2l1.48 2.50h-2.96zM98.4 193.4l1.48 2.50h-2.96zM108.3 183.0l1.48 2.50h-2.96zM92.7 167.6l1.48 2.50h-2.96zM82.6 152.8l1.48 2.50h-2.96zM101.4 193.4l1.48 2.50h-2.96zM72.3 170.2l1.48 2.50h-2.96zM94.6 158.9l1.48 2.50h-2.96zM112.2 185.3l1.48 2.50h-2.96zM97.0 191.2l1.48 2.50h-2.96zM82.9 193.3l1.48 2.50h-2.96zM94.0 179.9l1.48 2.50h-2.96zM89.3 147.5l1.48 2.50h-2.96zM86.9 159.7l1.48 2.50h-2.96zM82.6 146.9l1.48 2.50h-2.96zM85.1 164.0l1.48 2.50h-2.96zM72.5 165.6l1.48 2.50h-2.96zM81.3 149.2l1.48 2.50h-2.96zM82.2 131.8l1.48 2.50h-2.96zM106.0 184.7l1.48 2.50h-2.96zM77.2 184.3l1.48 2.50h-2.96zM91.7 153.1l1.48 2.50h-2.96zM97.0 159.5l1.48 2.50h-2.96zM82.7 182.1l1.48 2.50h-2.96zM77.8 166.1l1.48 2.50h-2.96zM85.9 165.1l1.48 2.50h-2.96zM76.9 132.6l1.48 2.50h-2.96zM96.6 177.2l1.48 2.50h-2.96zM105.3 170.5l1.48 2.50h-2.96zM95.7 189.1l1.48 2.50h-2.96zM91.0 158.3l1.48 2.50h-2.96zM90.1 155.8l1.48 2.50h-2.96zM98.2 180.2l1.48 2.50h-2.96zM104.7 191.9l1.48 2.50h-2.96zM98.3 163.7l1.48 2.50h-2.96zM69.5 140.8l1.48 2.50h-2.96zM77.1 171.3l1.48 2.50h-2.96zM89.3 169.8l1.48 2.50h-2.96zM96.9 156.7l1.48 2.50h-2.96zM69.5 172.2l1.48 2.50h-2.96zM75.0 139.0l1.48 2.50h-2.96zM77.9 195.9l1.48 2.50h-2.96zM82.1 154.3l1.48 2.50h-2.96zM69.8 144.5l1.48 2.50h-2.96zM72.1 189.1l1.48 2.50h-2.96zM87.6 143.6l1.48 2.50h-2.96zM85.0 141.5l1.48 2.50h-2.96zM82.3 167.3l1.48 2.50h-2.96zM92.8 190.8l1.48 2.50h-2.96zM76.1 144.4l1.48 2.50h-2.96zM80.3 138.6l1.48 2.50h-2.96zM86.4 155.4l1.48 2.50h-2.96zM73.1 174.1l1.48 2.50h-2.96zM85.6 158.6l1.48 2.50h-2.96zM85.0 142.3l1.48 2.50h-2.96zM96.2 161.5l1.48 2.50h-2.96zM97.6 160.6l1.48 2.50h-2.96zM78.6 152.1l1.48 2.50h-2.96zM91.6 171.0l1.48 2.50h-2.96zM97.7 172.2l1.48 2.50h-2.96zM83.6 165.5l1.48 2.50h-2.96zM78.4 145.8l1.48 2.50h-2.96zM75.9 136.4l1.48 2.50h-2.96zM102.8 181.5l1.48 2.50h-2.96zM100.9 190.9l1.48 2.50h-2.96zM103.2 185.1l1.48 2.50h-2.96zM90.2 159.6l1.48 2.50h-2.96zM80.1 146.1l1.48 2.50h-2.96zM76.2 171.3l1.48 2.50h-2.96zM84.8 165.3l1.48 2.50h-2.96zM90.9 177.6l1.48 2.50h-2.96zM80.8 191.8l1.48 2.50h-2.96zM85.3 149.2l1.48 2.50h-2.96zM107.9 184.8l1.48 2.50h-2.96zM101.3 192.3l1.48 2.50h-2.96zM91.0 185.1l1.48 2.50h-2.96zM97.8 179.5l1.48 2.50h-2.96zM89.3 192.9l1.48 2.50h-2.96zM69.0 166.0l1.48 2.50h-2.96zM78.9 142.4l1.48 2.50h-2.96zM108.8 179.0l1.48 2.50h-2.96zM97.3 177.7l1.48 2.50h-2.96zM73.7 184.5l1.48 2.50h-2.96zM79.5 187.6l1.48 2.50h-2.96zM89.7 164.4l1.48 2.50h-2.96zM104.7 177.5l1.48 2.50h-2.96zM110.6 181.0l1.48 2.50h-2.96zM79.6 127.9l1.48 2.50h-2.96zM100.5 169.5l1.48 2.50h-2.96zM71.5 168.3l1.48 2.50h-2.96zM92.9 174.2l1.48 2.50h-2.96zM69.0 152.3l1.48 2.50h-2.96zM88.1 165.2l1.48 2.50h-2.96zM76.1 148.9l1.48 2.50h-2.96zM102.7 167.2l1.48 2.50h-2.96zM103.6 188.7l1.48 2.50h-2.96zM80.8 162.1l1.48 2.50h-2.96zM81.4 172.1l1.48 2.50h-2.96zM79.1 190.8l1.48 2.50h-2.96zM107.2 187.4l1.48 2.50h-2.96zM81.3 193.7l1.48 2.50h-2.96zM74.4 146.4l1.48 2.50h-2.96zM97.7 194.2l1.48 2.50h-2.96zM79.7 152.3l1.48 2.50h-2.96zM92.8 179.7l1.48 2.50h-2.96zM97.6 175.6l1.48 2.50h-2.96zM72.5 160.2l1.48 2.50h-2.96zM85.6 170.7l1.48 2.50h-2.96zM75.3 136.1l1.48 2.50h-2.96zM80.8 159.1l1.48 2.50h-2.96zM70.2 150.0l1.48 2.50h-2.96zM92.3 183.7l1.48 2.50h-2.96zM91.7 192.4l1.48 2.50h-2.96zM109.9 182.1l1.48 2.50h-2.96zM71.0 136.0l1.48 2.50h-2.96zM77.6 142.3l1.48 2.50h-2.96zM84.7 149.2l1.48 2.50h-2.96zM87.4 162.8l1.48 2.50h-2.96zM96.3 178.3l1.48 2.50h-2.96zM103.0 175.8l1.48 2.50h-2.96zM89.2 163.2l1.48 2.50h-2.96zM80.8 181.2l1.48 2.50h-2.96zM80.7 151.2l1.48 2.50h-2.96zM93.3 153.0l1.48 2.50h-2.96zM99.7 192.1l1.48 2.50h-2.96zM88.3 176.9l1.48 2.50h-2.96zM77.5 193.3l1.48 2.50h-2.96zM69.8 148.4l1.48 2.50h-2.96zM82.7 194.0l1.48 2.50h-2.96zM72.1 181.4l1.48 2.50h-2.96zM109.2 182.6l1.48 2.50h-2.96zM93.6 174.1l1.48 2.50h-2.96zM95.2 178.9l1.48 2.50h-2.96zM82.3 178.4l1.48 2.50h-2.96zM85.0 140.9l1.48 2.50h-2.96zM68.0 159.6l1.48 2.50h-2.96zM73.0 185.5l1.48 2.50h-2.96zM89.4 182.7l1.48 2.50h-2.96zM74.7 183.2l1.48 2.50h-2.96zM85.8 155.5l1.48 2.50h-2.96zM96.6 175.2l1.48 2.50h-2.96zM82.3 138.5l1.48 2.50h-2.96zM91.4 183.0l1.48 2.50h-2.96zM94.8 178.0l1.48 2.50h-2.96zM84.6 188.0l1.48 2.50h-2.96zM91.8 192.6l1.48 2.50h-2.96zM111.0 183.5l1.48 2.50h-2.96zM85.1 153.4l1.48 2.50h-2.96zM76.1 129.3l1.48 2.50h-2.96zM84.4 149.2l1.48 2.50h-2.96zM76.6 168.8l1.48 2.50h-2.96zM87.1 182.8l1.48 2.50h-2.96zM90.4 191.1l1.48 2.50h-2.96zM92.5 160.1l1.48 2.50h-2.96zM98.8 164.9l1.48 2.50h-2.96zM110.6 181.0l1.48 2.50h-2.96zM92.8 185.3l1.48 2.50h-2.96zM84.5 136.3l1.48 2.50h-2.96zM71.7 151.6l1.48 2.50h-2.96zM79.8 144.1l1.48 2.50h-2.96zM82.1 145.8l1.48 2.50h-2.96zM91.5 190.4l1.48 2.50h-2.96zM75.5 147.6l1.48 2.50h-2.96zM84.5 169.5l1.48 2.50h-2.96zM96.1 192.6l1.48 2.50h-2.96zM78.7 162.1l1.48 2.50h-2.96zM70.4 168.8l1.48 2.50h-2.96zM111.8 188.7l1.48 2.50h-2.96zM105.5 191.4l1.48 2.50h-2.96zM71.5 178.9l1.48 2.50h-2.96zM89.8 162.7l1.48 2.50h-2.96zM96.1 166.5l1.48 2.50h-2.96zM70.0 173.6l1.48 2.50h-2.96zM86.6 181.9l1.48 2.50h-2.96zM85.9 143.4l1.48 2.50h-2.96zM80.8 139.0l1.48 2.50h-2.96zM86.4 140.4l1.48 2.50h-2.96zM110.0 182.3l1.48 2.50h-2.96zM79.2 184.3l1.48 2.50h-2.96zM97.0 164.5l1.48 2.50h-2.96zM100.0 190.0l1.48 2.50h-2.96zM83.5 162.9l1.48 2.50h-2.96zM77.8 143.6l1.48 2.50h-2.96zM70.6 138.9l1.48 2.50h-2.96zM74.1 188.5l1.48 2.50h-2.96zM77.4 185.2l1.48 2.50h-2.96zM85.8 151.6l1.48 2.50h-2.96zM109.5 183.8l1.48 2.50h-2.96zM109.8 179.9l1.48 2.50h-2.96zM78.8 130.5l1.48 2.50h-2.96zM94.3 157.2l1.48 2.50h-2.96zM84.1 143.4l1.48 2.50h-2.96zM90.5 170.0l1.48 2.50h-2.96zM105.0 189.7l1.48 2.50h-2.96zM74.9 162.0l1.48 2.50h-2.96zM86.0 151.5l1.48 2.50h-2.96zM86.4 141.6l1.48 2.50h-2.96zM103.9 179.4l1.48 2.50h-2.96zM76.7 148.4l1.48 2.50h-2.96zM86.4 161.7l1.48 2.50h-2.96zM87.2 161.3l1.48 2.50h-2.96zM83.9 176.0l1.48 2.50h-2.96zM100.6 166.4l1.48 2.50h-2.96zM89.9 144.4l1.48 2.50h-2.96zM84.7 166.8l1.48 2.50h-2.96zM92.7 192.3l1.48 2.50h-2.96zM71.2 160.9l1.48 2.50h-2.96zM106.8 188.5l1.48 2.50h-2.96zM83.0 157.0l1.48 2.50h-2.96zM96.7 167.3l1.48 2.50h-2.96zM77.7 178.2l1.48 2.50h-2.96zM91.2 145.5l1.48 2.50h-2.96zM98.0 182.9l1.48 2.50h-2.96zM83.8 178.4l1.48 2.50h-2.96zM68.4 171.1l1.48 2.50h-2.96zM75.5 182.7l1.48 2.50h-2.96zM83.4 173.6l1.48 2.50h-2.96zM85.0 188.7l1.48 2.50h-2.96zM73.1 159.6l1.48 2.50h-2.96zM109.3 183.7l1.48 2.50h-2.96zM77.7 158.2l1.48 2.50h-2.96zM74.4 153.9l1.48 2.50h-2.96zM76.5 174.7l1.48 2.50h-2.96zM84.5 137.0l1.48 2.50h-2.96zM98.3 187.2l1.48 2.50h-2.96zM71.9 184.2l1.48 2.50h-2.96zM82.2 163.9l1.48 2.50h-2.96zM87.0 174.6l1.48 2.50h-2.96zM76.0 183.0l1.48 2.50h-2.96zM71.8 186.5l1.48 2.50h-2.96zM69.3 149.5l1.48 2.50h-2.96zM86.6 166.9l1.48 2.50h-2.96zM88.6 190.1l1.48 2.50h-2.96zM74.6 159.2l1.48 2.50h-2.96zM83.5 190.1l1.48 2.50h-2.96zM83.4 166.5l1.48 2.50h-2.96zM76.2 156.5l1.48 2.50h-2.96zM82.9 184.4l1.48 2.50h-2.96zM100.8 168.1l1.48 2.50h-2.96zM89.3 166.3l1.48 2.50h-2.96zM93.2 177.8l1.48 2.50h-2.96zM74.4 178.8l1.48 2.50h-2.96zM91.7 189.3l1.48 2.50h-2.96zM78.0 159.3l1.48 2.50h-2.96zM72.2 153.8l1.48 2.50h-2.96zM78.7 149.2l1.48 2.50h-2.96zM75.5 169.5l1.48 2.50h-2.96zM85.5 141.9l1.48 2.50h-2.96zM92.8 175.3l1.48 2.50h-2.96zM72.6 178.0l1.48 2.50h-2.96zM80.6 148.6l1.48 2.50h-2.96zM88.9 171.5l1.48 2.50h-2.96zM84.2 171.3l1.48 2.50h-2.96zM70.8 152.9l1.48 2.50h-2.96zM102.0 185.5l1.48 2.50h-2.96zM90.7 175.8l1.48 2.50h-2.96zM86.6 158.9l1.48 2.50h-2.96zM84.3 160.3l1.48 2.50h-2.96zM101.6 190.8l1.48 2.50h-2.96zM73.1 181.1l1.48 2.50h-2.96zM96.8 191.9l1.48 2.50h-2.96zM89.0 159.9l1.48 2.50h-2.96zM77.6 177.9l1.48 2.50h-2.96zM72.5 150.8l1.48 2.50h-2.96zM93.6 163.6l1.48 2.50h-2.96zM77.5 148.2l1.48 2.50h-2.96zM75.8 164.0l1.48 2.50h-2.96zM81.7 166.0l1.48 2.50h-2.96zM85.3 159.0l1.48 2.50h-2.96zM89.4 164.6l1.48 2.50h-2.96zM81.7 138.1l1.48 2.50h-2.96zM73.7 140.4l1.48 2.50h-2.96zM74.7 159.9l1.48 2.50h-2.96zM69.5 164.0l1.48 2.50h-2.96zM68.3 149.5l1.48 2.50h-2.96zM92.2 176.3l1.48 2.50h-2.96zM95.5 191.6l1.48 2.50h-2.96zM100.1 187.0l1.48 2.50h-2.96zM93.5 178.3l1.48 2.50h-2.96zM85.3 148.8l1.48 2.50h-2.96zM82.9 140.9l1.48 2.50h-2.96zM90.9 159.4l1.48 2.50h-2.96zM82.3 149.4l1.48 2.50h-2.96zM83.6 186.0l1.48 2.50h-2.96zM71.6 151.4l1.48 2.50h-2.96zM74.4 185.7l1.48 2.50h-2.96zM95.4 158.6l1.48 2.50h-2.96zM88.0 176.8l1.48 2.50h-2.96zM79.8 152.7l1.48 2.50h-2.96zM93.2 177.1l1.48 2.50h-2.96zM100.5 162.0l1.48 2.50h-2.96zM81.9 192.2l1.48 2.50h-2.96zM91.6 188.3l1.48 2.50h-2.96zM88.3 179.2l1.48 2.50h-2.96zM109.9 179.0l1.48 2.50h-2.96zM73.7 182.4l1.48 2.50h-2.96zM81.3 169.4l1.48 2.50h-2.96zM81.6 190.5l1.48 2.50h-2.96zM92.7 192.2l1.48 2.50h-2.96zM79.9 157.3l1.48 2.50h-2.96zM108.3 180.6l1.48 2.50h-2.96zM77.9 175.3l1.48 2.50h-2.96zM87.5 185.9l1.48 2.50h-2.96zM87.4 150.4l1.48 2.50h-2.96zM103.8 173.9l1.48 2.50h-2.96zM108.0 181.7l1.48 2.50h-2.96zM93.7 194.2l1.48 2.50h-2.96zM71.8 165.2l1.48 2.50h-2.96zM75.8 159.2l1.48 2.50h-2.96zM71.9 132.9l1.48 2.50h-2.96zM99.5 187.4l1.48 2.50h-2.96zM91.4 157.3l1.48 2.50h-2.96zM74.1 164.8l1.48 2.50h-2.96zM83.6 164.2l1.48 2.50h-2.96zM84.8 168.2l1.48 2.50h-2.96zM80.9 138.2l1.48 2.50h-2.96zM73.9 147.7l1.48 2.50h-2.96zM85.7 149.2l1.48 2.50h-2.96zM80.0 150.1l1.48 2.50h-2.96zM87.9 153.0l1.48 2.50h-2.96zM83.6 177.8l1.48 2.50h-2.96zM92.8 155.5l1.48 2.50h-2.96zM88.1 140.8l1.48 2.50h-2.96zM77.9 125.1l1.48 2.50h-2.96zM90.1 151.0l1.48 2.50h-2.96zM83.3 185.4l1.48 2.50h-2.96zM86.3 146.5l1.48 2.50h-2.96zM97.1 193.6l1.48 2.50h-2.96zM102.3 186.8l1.48 2.50h-2.96zM70.9 152.7l1.48 2.50h-2.96zM80.4 135.3l1.48 2.50h-2.96zM81.6 187.2l1.48 2.50h-2.96zM81.9 164.2l1.48 2.50h-2.96zM96.7 180.4l1.48 2.50h-2.96zM71.0 146.1l1.48 2.50h-2.96zM86.5 151.1l1.48 2.50h-2.96zM76.9 184.2l1.48 2.50h-2.96zM108.9 181.4l1.48 2.50h-2.96zM88.6 175.8l1.48 2.50h-2.96zM86.1 155.6l1.48 2.50h-2.96zM97.3 188.5l1.48 2.50h-2.96zM85.1 173.5l1.48 2.50h-2.96zM101.0 166.7l1.48 2.50h-2.96zM72.6 160.5l1.48 2.50h-2.96zM74.2 166.3l1.48 2.50h-2.96zM87.6 194.1l1.48 2.50h-2.96zM72.7 166.6l1.48 2.50h-2.96zM73.3 171.0l1.48 2.50h-2.96zM78.7 192.3l1.48 2.50h-2.96zM84.1 155.3l1.48 2.50h-2.96zM71.2 179.2l1.48 2.50h-2.96zM72.0 149.7l1.48 2.50h-2.96zM85.0 152.1l1.48 2.50h-2.96zM84.7 181.1l1.48 2.50h-2.96zM73.1 134.5l1.48 2.50h-2.96zM74.2 166.0l1.48 2.50h-2.96zM92.9 154.6l1.48 2.50h-2.96zM103.9 186.0l1.48 2.50h-2.96zM71.9 138.6l1.48 2.50h-2.96zM81.5 155.9l1.48 2.50h-2.96zM100.0 179.6l1.48 2.50h-2.96zM75.6 169.4l1.48 2.50h-2.96zM87.9 141.0l1.48 2.50h-2.96zM114.3 189.9l1.48 2.50h-2.96zM72.1 162.9l1.48 2.50h-2.96zM76.8 163.7l1.48 2.50h-2.96zM76.9 142.8l1.48 2.50h-2.96zM75.9 160.5l1.48 2.50h-2.96zM93.0 167.7l1.48 2.50h-2.96zM92.4 151.6l1.48 2.50h-2.96zM96.9 171.1l1.48 2.50h-2.96zM69.3 148.6l1.48 2.50h-2.96zM84.8 195.5l1.48 2.50h-2.96zM104.9 192.9l1.48 2.50h-2.96zM89.6 151.9l1.48 2.50h-2.96zM86.9 161.8l1.48 2.50h-2.96zM83.5 135.3l1.48 2.50h-2.96zM76.2 157.7l1.48 2.50h-2.96zM68.2 164.9l1.48 2.50h-2.96zM91.5 182.5l1.48 2.50h-2.96zM90.0 165.0l1.48 2.50h-2.96zM83.1 191.0l1.48 2.50h-2.96zM101.0 176.9l1.48 2.50h-2.96zM70.4 170.9l1.48 2.50h-2.96zM84.9 188.6l1.48 2.50h-2.96zM94.6 184.0l1.48 2.50h-2.96zM84.4 139.0l1.48 2.50h-2.96zM102.4 186.0l1.48 2.50h-2.96zM71.8 186.6l1.48 2.50h-2.96zM76.2 159.7l1.48 2.50h-2.96zM109.0 181.4l1.48 2.50h-2.96zM82.3 139.1l1.48 2.50h-2.96zM85.1 185.4l1.48 2.50h-2.96zM69.3 173.2l1.48 2.50h-2.96zM85.9 146.8l1.48 2.50h-2.96zM81.4 179.9l1.48 2.50h-2.96zM73.5 133.9l1.48 2.50h-2.96zM84.9 181.4l1.48 2.50h-2.96zM93.0 180.3l1.48 2.50h-2.96zM82.0 130.3l1.48 2.50h-2.96zM91.0 166.6l1.48 2.50h-2.96zM75.6 181.3l1.48 2.50h-2.96zM81.2 166.6l1.48 2.50h-2.96zM88.2 193.6l1.48 2.50h-2.96zM98.0 161.9l1.48 2.50h-2.96zM69.8 158.2l1.48 2.50h-2.96zM70.1 169.4l1.48 2.50h-2.96zM89.2 155.1l1.48 2.50h-2.96zM102.9 187.3l1.48 2.50h-2.96zM72.9 145.6l1.48 2.50h-2.96zM74.1 145.4l1.48 2.50h-2.96zM86.2 145.8l1.48 2.50h-2.96zM95.4 174.7l1.48 2.50h-2.96zM92.3 175.9l1.48 2.50h-2.96zM84.9 149.7l1.48 2.50h-2.96zM92.5 166.7l1.48 2.50h-2.96zM95.3 177.5l1.48 2.50h-2.96zM81.5 169.4l1.48 2.50h-2.96zM80.4 195.7l1.48 2.50h-2.96zM81.5 135.2l1.48 2.50h-2.96zM98.2 191.8l1.48 2.50h-2.96zM82.6 170.5l1.48 2.50h-2.96zM101.4 168.8l1.48 2.50h-2.96zM81.7 134.5l1.48 2.50h-2.96zM72.4 153.7l1.48 2.50h-2.96zM99.4 175.6l1.48 2.50h-2.96zM81.0 191.0l1.48 2.50h-2.96zM97.4 170.8l1.48 2.50h-2.96zM72.9 129.0l1.48 2.50h-2.96zM71.2 160.9l1.48 2.50h-2.96zM71.6 138.0l1.48 2.50h-2.96zM82.6 145.9l1.48 2.50h-2.96zM85.2 183.8l1.48 2.50h-2.96zM85.6 159.0l1.48 2.50h-2.96zM76.9 194.6l1.48 2.50h-2.96zM84.1 166.0l1.48 2.50h-2.96zM98.9 169.0l1.48 2.50h-2.96zM80.2 144.5l1.48 2.50h-2.96zM94.0 169.8l1.48 2.50h-2.96zM70.0 151.6l1.48 2.50h-2.96zM86.3 174.4l1.48 2.50h-2.96zM76.3 146.9l1.48 2.50h-2.96zM68.1 150.4l1.48 2.50h-2.96zM80.4 165.5l1.48 2.50h-2.96zM77.8 153.1l1.48 2.50h-2.96zM78.5 157.9l1.48 2.50h-2.96zM79.2 162.2l1.48 2.50h-2.96zM90.0 152.9l1.48 2.50h-2.96zM71.0 141.5l1.48 2.50h-2.96zM77.7 178.0l1.48 2.50h-2.96zM68.7 161.9l1.48 2.50h-2.96zM80.3 159.8l1.48 2.50h-2.96zM73.1 167.7l1.48 2.50h-2.96zM76.7 181.8l1.48 2.50h-2.96zM95.8 174.5l1.48 2.50h-2.96zM87.2 177.2l1.48 2.50h-2.96zM104.8 191.5l1.48 2.50h-2.96zM75.9 127.0l1.48 2.50h-2.96zM73.0 144.4l1.48 2.50h-2.96zM90.9 193.6l1.48 2.50h-2.96zM83.0 168.0l1.48 2.50h-2.96zM98.6 179.1l1.48 2.50h-2.96zM74.8 132.4l1.48 2.50h-2.96zM96.0 190.2l1.48 2.50h-2.96zM74.0 140.2l1.48 2.50h-2.96zM87.5 177.9l1.48 2.50h-2.96zM92.7 166.4l1.48 2.50h-2.96zM94.2 172.3l1.48 2.50h-2.96zM72.9 152.5l1.48 2.50h-2.96zM79.3 182.3l1.48 2.50h-2.96zM72.0 166.6l1.48 2.50h-2.96zM102.9 182.5l1.48 2.50h-2.96zM77.8 123.7l1.48 2.50h-2.96zM107.8 182.9l1.48 2.50h-2.96zM79.2 167.2l1.48 2.50h-2.96zM80.3 167.7l1.48 2.50h-2.96zM107.0 185.9l1.48 2.50h-2.96zM79.4 147.7l1.48 2.50h-2.96zM103.7 182.7l1.48 2.50h-2.96zM87.0 161.9l1.48 2.50h-2.96zM95.3 156.4l1.48 2.50h-2.96zM112.6 183.2l1.48 2.50h-2.96zM74.6 182.4l1.48 2.50h-2.96zM104.3 179.4l1.48 2.50h-2.96zM100.2 176.2l1.48 2.50h-2.96zM86.9 144.2l1.48 2.50h-2.96zM93.8 158.5l1.48 2.50h-2.96zM90.3 158.7l1.48 2.50h-2.96zM98.5 184.5l1.48 2.50h-2.96zM73.7 152.7l1.48 2.50h-2.96zM78.6 137.2l1.48 2.50h-2.96zM93.1 151.4l1.48 2.50h-2.96zM98.1 174.0l1.48 2.50h-2.96zM81.2 131.2l1.48 2.50h-2.96zM73.2 134.7l1.48 2.50h-2.96zM86.0 194.1l1.48 2.50h-2.96zM92.9 176.3l1.48 2.50h-2.96zM79.7 168.4l1.48 2.50h-2.96zM70.2 167.6l1.48 2.50h-2.96zM74.5 136.7l1.48 2.50h-2.96zM86.7 150.0l1.48 2.50h-2.96zM89.7 186.0l1.48 2.50h-2.96zM71.2 162.6l1.48 2.50h-2.96zM69.5 177.3l1.48 2.50h-2.96zM72.1 166.3l1.48 2.50h-2.96zM91.4 150.0l1.48 2.50h-2.96zM79.7 163.3l1.48 2.50h-2.96zM108.5 180.5l1.48 2.50h-2.96zM74.6 177.5l1.48 2.50h-2.96zM90.9 151.5l1.48 2.50h-2.96zM89.8 158.5l1.48 2.50h-2.96zM96.9 184.4l1.48 2.50h-2.96zM98.3 167.3l1.48 2.50h-2.96zM105.3 190.4l1.48 2.50h-2.96zM83.5 188.8l1.48 2.50h-2.96zM93.2 176.1l1.48 2.50h-2.96zM95.6 154.8l1.48 2.50h-2.96zM72.7 139.7l1.48 2.50h-2.96zM94.5 172.8l1.48 2.50h-2.96zM81.0 138.2l1.48 2.50h-2.96zM95.7 163.5l1.48 2.50h-2.96zM112.7 189.7l1.48 2.50h-2.96zM74.0 175.9l1.48 2.50h-2.96zM96.5 163.6l1.48 2.50h-2.96zM83.4 167.1l1.48 2.50h-2.96zM72.0 180.5l1.48 2.50h-2.96zM82.7 141.8l1.48 2.50h-2.96zM97.9 169.3l1.48 2.50h-2.96zM90.8 166.8l1.48 2.50h-2.96zM80.1 167.0l1.48 2.50h-2.96zM84.2 150.8l1.48 2.50h-2.96zM109.0 177.1l1.48 2.50h-2.96zM73.9 187.2l1.48 2.50h-2.96zM70.2 182.0l1.48 2.50h-2.96zM74.9 191.6l1.48 2.50h-2.96zM104.6 175.4l1.48 2.50h-2.96zM93.2 151.0l1.48 2.50h-2.96zM74.3 175.5l1.48 2.50h-2.96zM77.3 148.2l1.48 2.50h-2.96zM93.2 156.5l1.48 2.50h-2.96zM71.4 168.4l1.48 2.50h-2.96zM80.0 138.8l1.48 2.50h-2.96zM76.3 157.2l1.48 2.50h-2.96zM91.4 148.2l1.48 2.50h-2.96zM90.9 192.7l1.48 2.50h-2.96zM78.0 188.6l1.48 2.50h-2.96zM92.6 166.5l1.48 2.50h-2.96zM72.7 192.4l1.48 2.50h-2.96zM90.2 188.0l1.48 2.50h-2.96zM80.0 173.5l1.48 2.50h-2.96zM77.0 135.4l1.48 2.50h-2.96zM95.7 164.8l1.48 2.50h-2.96zM103.7 193.0l1.48 2.50h-2.96zM85.5 149.6l1.48 2.50h-2.96zM80.2 131.5l1.48 2.50h-2.96zM96.5 168.6l1.48 2.50h-2.96zM87.3 176.5l1.48 2.50h-2.96zM104.6 175.6l1.48 2.50h-2.96zM89.0 161.1l1.48 2.50h-2.96zM93.7 174.5l1.48 2.50h-2.96zM104.4 189.9l1.48 2.50h-2.96zM98.2 179.8l1.48 2.50h-2.96zM79.3 153.2l1.48 2.50h-2.96zM88.0 150.0l1.48 2.50h-2.96zM88.0 165.7l1.48 2.50h-2.96zM87.5 154.3l1.48 2.50h-2.96zM95.7 167.2l1.48 2.50h-2.96zM76.0 157.8l1.48 2.50h-2.96zM79.8 141.5l1.48 2.50h-2.96zM102.2 176.9l1.48 2.50h-2.96zM71.6 142.6l1.48 2.50h-2.96zM75.7 154.5l1.48 2.50h-2.96zM89.3 183.5l1.48 2.50h-2.96zM95.0 162.5l1.48 2.50h-2.96zM74.6 156.1l1.48 2.50h-2.96zM73.7 192.0l1.48 2.50h-2.96zM90.1 167.3l1.48 2.50h-2.96zM112.4 187.5l1.48 2.50h-2.96zM104.4 191.6l1.48 2.50h-2.96zM102.8 173.5l1.48 2.50h-2.96zM71.0 181.3l1.48 2.50h-2.96zM71.3 155.5l1.48 2.50h-2.96zM69.2 152.7l1.48 2.50h-2.96zM80.7 144.1l1.48 2.50h-2.96zM89.8 179.5l1.48 2.50h-2.96zM86.2 144.6l1.48 2.50h-2.96zM86.8 138.0l1.48 2.50h-2.96zM76.1 137.2l1.48 2.50h-2.96zM75.7 128.7l1.48 2.50h-2.96zM101.5 175.9l1.48 2.50h-2.96zM78.1 146.4l1.48 2.50h-2.96zM104.6 184.3l1.48 2.50h-2.96zM91.5 158.5l1.48 2.50h-2.96zM94.4 172.2l1.48 2.50h-2.96zM106.1 190.9l1.48 2.50h-2.96zM91.7 160.9l1.48 2.50h-2.96zM98.9 184.3l1.48 2.50h-2.96zM82.8 183.4l1.48 2.50h-2.96zM71.6 185.5l1.48 2.50h-2.96zM76.6 185.2l1.48 2.50h-2.96zM73.5 183.0l1.48 2.50h-2.96zM79.6 184.9l1.48 2.50h-2.96zM92.9 159.6l1.48 2.50h-2.96zM95.3 160.0l1.48 2.50h-2.96zM91.6 145.9l1.48 2.50h-2.96zM87.5 165.0l1.48 2.50h-2.96zM103.1 184.6l1.48 2.50h-2.96zM85.4 148.0l1.48 2.50h-2.96zM76.3 176.1l1.48 2.50h-2.96zM79.0 167.6l1.48 2.50h-2.96zM106.9 175.3l1.48 2.50h-2.96zM85.0 185.5l1.48 2.50h-2.96zM96.8 183.2l1.48 2.50h-2.96zM83.4 133.0l1.48 2.50h-2.96zM80.8 166.5l1.48 2.50h-2.96zM102.6 173.7l1.48 2.50h-2.96zM78.0 193.3l1.48 2.50h-2.96zM101.8 174.5l1.48 2.50h-2.96zM88.2 162.2l1.48 2.50h-2.96zM104.5 180.3l1.48 2.50h-2.96zM77.4 145.2l1.48 2.50h-2.96zM79.0 194.6l1.48 2.50h-2.96zM75.1 161.0l1.48 2.50h-2.96zM81.1 190.0l1.48 2.50h-2.96zM99.2 187.8l1.48 2.50h-2.96zM84.6 185.1l1.48 2.50h-2.96zM80.6 160.0l1.48 2.50h-2.96zM92.8 149.0l1.48 2.50h-2.96zM77.2 168.8l1.48 2.50h-2.96zM70.0 141.1l1.48 2.50h-2.96zM93.4 156.1l1.48 2.50h-2.96zM92.7 148.1l1.48 2.50h-2.96zM69.8 154.3l1.48 2.50h-2.96zM76.6 147.7l1.48 2.50h-2.96zM90.1 194.7l1.48 2.50h-2.96zM97.0 156.2l1.48 2.50h-2.96zM92.2 150.2l1.48 2.50h-2.96zM91.5 153.3l1.48 2.50h-2.96zM85.0 161.2l1.48 2.50h-2.96zM90.1 171.0l1.48 2.50h-2.96zM91.3 148.3l1.48 2.50h-2.96zM87.2 192.3l1.48 2.50h-2.96zM101.2 164.6l1.48 2.50h-2.96zM85.0 175.6l1.48 2.50h-2.96zM70.1 151.0l1.48 2.50h-2.96zM91.0 145.6l1.48 2.50h-2.96zM76.5 166.1l1.48 2.50h-2.96zM96.6 188.0l1.48 2.50h-2.96zM83.0 144.6l1.48 2.50h-2.96zM74.5 170.7l1.48 2.50h-2.96zM87.2 174.1l1.48 2.50h-2.96zM82.8 147.4l1.48 2.50h-2.96zM90.9 177.0l1.48 2.50h-2.96zM102.5 189.7l1.48 2.50h-2.96zM97.4 172.7l1.48 2.50h-2.96zM78.8 135.7l1.48 2.50h-2.96zM77.8 143.1l1.48 2.50h-2.96zM72.7 171.6l1.48 2.50h-2.96zM79.7 132.0l1.48 2.50h-2.96zM79.0 133.4l1.48 2.50h-2.96zM85.2 164.7l1.48 2.50h-2.96zM94.4 174.7l1.48 2.50h-2.96zM76.1 154.2l1.48 2.50h-2.96zM91.3 176.9l1.48 2.50h-2.96zM73.6 142.1l1.48 2.50h-2.96zM87.0 165.0l1.48 2.50h-2.96zM80.6 154.5l1.48 2.50h-2.96zM71.3 180.1l1.48 2.50h-2.96zM76.6 169.8l1.48 2.50h-2.96zM87.6 191.4l1.48 2.50h-2.96zM94.1 191.4l1.48 2.50h-2.96zM109.9 188.6l1.48 2.50h-2.96zM98.7 179.9l1.48 2.50h-2.96zM77.5 180.5l1.48 2.50h-2.96zM72.4 174.1l1.48 2.50h-2.96zM79.5 166.5l1.48 2.50h-2.96zM82.5 191.7l1.48 2.50h-2.96zM115.0 189.1l1.48 2.50h-2.96zM97.3 162.3l1.48 2.50h-2.96zM80.0 184.2l1.48 2.50h-2.96zM85.3 189.6l1.48 2.50h-2.96zM70.7 139.3l1.48 2.50h-2.96zM68.4 150.2l1.48 2.50h-2.96zM93.6 165.6l1.48 2.50h-2.96zM70.4 140.4l1.48 2.50h-2.96zM74.4 184.1l1.48 2.50h-2.96zM71.3 157.5l1.48 2.50h-2.96zM88.9 144.1l1.48 2.50h-2.96zM78.2 150.5l1.48 2.50h-2.96zM86.1 167.9l1.48 2.50h-2.96zM78.9 190.8l1.48 2.50h-2.96zM86.4 169.7l1.48 2.50h-2.96zM78.2 139.2l1.48 2.50h-2.96zM80.6 159.9l1.48 2.50h-2.96zM81.8 143.4l1.48 2.50h-2.96zM87.0 172.7l1.48 2.50h-2.96zM90.3 146.8l1.48 2.50h-2.96zM68.4 172.7l1.48 2.50h-2.96zM81.6 143.2l1.48 2.50h-2.96zM70.0 138.7l1.48 2.50h-2.96zM77.9 179.7l1.48 2.50h-2.96zM90.6 193.0l1.48 2.50h-2.96zM82.5 188.9l1.48 2.50h-2.96zM72.6 131.7l1.48 2.50h-2.96zM76.4 175.5l1.48 2.50h-2.96zM71.7 152.2l1.48 2.50h-2.96zM102.7 171.5l1.48 2.50h-2.96zM77.1 142.0l1.48 2.50h-2.96zM101.1 179.3l1.48 2.50h-2.96zM106.2 180.1l1.48 2.50h-2.96zM88.5 161.7l1.48 2.50h-2.96zM74.9 184.0l1.48 2.50h-2.96zM76.2 193.5l1.48 2.50h-2.96zM83.4 182.7l1.48 2.50h-2.96zM72.5 166.9l1.48 2.50h-2.96zM87.9 186.8l1.48 2.50h-2.96zM74.0 166.5l1.48 2.50h-2.96zM94.3 192.0l1.48 2.50h-2.96zM88.8 166.7l1.48 2.50h-2.96zM87.7 190.9l1.48 2.50h-2.96zM86.4 178.1l1.48 2.50h-2.96zM96.7 157.7l1.48 2.50h-2.96zM84.9 158.6l1.48 2.50h-2.96zM71.3 142.9l1.48 2.50h-2.96zM88.3 179.3l1.48 2.50h-2.96zM75.2 147.9l1.48 2.50h-2.96zM88.2 176.4l1.48 2.50h-2.96zM90.0 192.0l1.48 2.50h-2.96zM76.1 167.7l1.48 2.50h-2.96zM67.7 166.7l1.48 2.50h-2.96zM104.4 169.9l1.48 2.50h-2.96zM72.6 168.8l1.48 2.50h-2.96zM72.3 135.2l1.48 2.50h-2.96zM102.9 192.2l1.48 2.50h-2.96zM102.1 170.2l1.48 2.50h-2.96zM113.6 190.0l1.48 2.50h-2.96zM72.7 189.3l1.48 2.50h-2.96zM92.9 188.8l1.48 2.50h-2.96zM75.2 130.5l1.48 2.50h-2.96zM78.9 152.6l1.48 2.50h-2.96zM80.1 191.2l1.48 2.50h-2.96zM87.4 187.5l1.48 2.50h-2.96zM91.5 154.6l1.48 2.50h-2.96zM94.7 168.8l1.48 2.50h-2.96zM78.6 150.5l1.48 2.50h-2.96zM101.5 193.0l1.48 2.50h-2.96zM73.0 147.1l1.48 2.50h-2.96zM100.2 187.1l1.48 2.50h-2.96zM85.1 190.4l1.48 2.50h-2.96zM88.2 149.0l1.48 2.50h-2.96zM83.7 186.1l1.48 2.50h-2.96zM69.2 182.6l1.48 2.50h-2.96zM83.9 168.4l1.48 2.50h-2.96zM68.4 173.8l1.48 2.50h-2.96zM81.8 183.0l1.48 2.50h-2.96zM91.8 164.9l1.48 2.50h-2.96zM80.2 140.5l1.48 2.50h-2.96zM71.8 164.8l1.48 2.50h-2.96zM96.6 173.8l1.48 2.50h-2.96zM102.5 189.0l1.48 2.50h-2.96zM78.0 134.9l1.48 2.50h-2.96zM84.1 169.1l1.48 2.50h-2.96zM94.9 168.2l1.48 2.50h-2.96zM76.4 189.2l1.48 2.50h-2.96zM73.7 153.5l1.48 2.50h-2.96zM88.9 188.1l1.48 2.50h-2.96zM71.2 172.9l1.48 2.50h-2.96zM75.6 176.2l1.48 2.50h-2.96zM74.2 160.4l1.48 2.50h-2.96zM81.5 137.3l1.48 2.50h-2.96zM73.0 140.0l1.48 2.50h-2.96zM73.7 167.2l1.48 2.50h-2.96zM79.8 178.3l1.48 2.50h-2.96zM85.3 195.3l1.48 2.50h-2.96zM87.9 184.5l1.48 2.50h-2.96zM88.7 167.2l1.48 2.50h-2.96zM81.9 142.4l1.48 2.50h-2.96zM87.4 170.1l1.48 2.50h-2.96zM110.9 191.4l1.48 2.50h-2.96zM105.7 180.6l1.48 2.50h-2.96zM93.2 152.1l1.48 2.50h-2.96zM84.6 143.2l1.48 2.50h-2.96zM71.3 177.2l1.48 2.50h-2.96zM83.0 164.4l1.48 2.50h-2.96zM93.6 165.5l1.48 2.50h-2.96zM71.8 149.1l1.48 2.50h-2.96zM92.5 193.9l1.48 2.50h-2.96zM74.4 167.3l1.48 2.50h-2.96zM92.5 153.5l1.48 2.50h-2.96zM99.6 189.9l1.48 2.50h-2.96zM83.6 167.2l1.48 2.50h-2.96zM90.3 144.6l1.48 2.50h-2.96zM91.8 175.9l1.48 2.50h-2.96zM77.7 165.8l1.48 2.50h-2.96zM96.4 189.4l1.48 2.50h-2.96zM80.6 162.4l1.48 2.50h-2.96zM74.2 180.1l1.48 2.50h-2.96zM77.7 159.3l1.48 2.50h-2.96zM98.1 174.0l1.48 2.50h-2.96zM104.7 186.0l1.48 2.50h-2.96zM89.2 187.4l1.48 2.50h-2.96zM90.9 180.3l1.48 2.50h-2.96zM98.5 174.0l1.48 2.50h-2.96zM73.1 130.2l1.48 2.50h-2.96zM91.5 165.7l1.48 2.50h-2.96zM107.8 184.1l1.48 2.50h-2.96zM76.3 162.5l1.48 2.50h-2.96zM93.2 188.8l1.48 2.50h-2.96zM102.1 187.7l1.48 2.50h-2.96zM93.3 153.9l1.48 2.50h-2.96zM81.3 142.4l1.48 2.50h-2.96zM72.9 168.6l1.48 2.50h-2.96zM74.5 174.5l1.48 2.50h-2.96zM88.3 166.7l1.48 2.50h-2.96zM74.2 151.7l1.48 2.50h-2.96zM87.7 155.0l1.48 2.50h-2.96zM73.3 149.3l1.48 2.50h-2.96zM76.8 167.1l1.48 2.50h-2.96zM80.1 139.4l1.48 2.50h-2.96zM94.9 193.5l1.48 2.50h-2.96zM77.4 187.9l1.48 2.50h-2.96zM100.1 161.4l1.48 2.50h-2.96zM75.7 184.2l1.48 2.50h-2.96zM78.9 135.6l1.48 2.50h-2.96zM83.2 171.3l1.48 2.50h-2.96zM90.0 189.4l1.48 2.50h-2.96zM78.9 181.2l1.48 2.50h-2.96zM93.8 180.7l1.48 2.50h-2.96zM88.4 171.6l1.48 2.50h-2.96zM85.8 165.4l1.48 2.50h-2.96zM77.4 163.0l1.48 2.50h-2.96zM101.0 190.7l1.48 2.50h-2.96zM96.8 185.8l1.48 2.50h-2.96zM87.2 188.8l1.48 2.50h-2.96zM70.9 153.8l1.48 2.50h-2.96zM88.5 153.6l1.48 2.50h-2.96zM98.0 188.2l1.48 2.50h-2.96zM81.1 190.8l1.48 2.50h-2.96zM104.1 180.0l1.48 2.50h-2.96zM84.0 185.7l1.48 2.50h-2.96zM76.4 137.3l1.48 2.50h-2.96zM95.8 173.7l1.48 2.50h-2.96zM95.7 164.2l1.48 2.50h-2.96zM102.9 190.5l1.48 2.50h-2.96zM79.4 141.1l1.48 2.50h-2.96zM97.8 168.3l1.48 2.50h-2.96zM71.1 186.5l1.48 2.50h-2.96zM76.3 195.4l1.48 2.50h-2.96zM105.4 177.4l1.48 2.50h-2.96zM74.8 146.2l1.48 2.50h-2.96zM96.6 187.8l1.48 2.50h-2.96zM108.3 183.1l1.48 2.50h-2.96zM69.7 170.6l1.48 2.50h-2.96zM74.6 189.7l1.48 2.50h-2.96zM95.3 174.6l1.48 2.50h-2.96zM84.0 143.0l1.48 2.50h-2.96zM112.9 190.0l1.48 2.50h-2.96zM87.1 148.5l1.48 2.50h-2.96zM69.4 167.2l1.48 2.50h-2.96zM71.4 175.1l1.48 2.50h-2.96zM77.5 171.6l1.48 2.50h-2.96zM96.0 178.9l1.48 2.50h-2.96zM79.3 163.3l1.48 2.50h-2.96zM77.8 154.8l1.48 2.50h-2.96zM68.0 149.3l1.48 2.50h-2.96zM72.9 175.3l1.48 2.50h-2.96zM89.0 165.7l1.48 2.50h-2.96zM102.5 185.8l1.48 2.50h-2.96zM83.0 194.2l1.48 2.50h-2.96zM69.9 182.0l1.48 2.50h-2.96zM72.4 180.5l1.48 2.50h-2.96zM74.8 176.5l1.48 2.50h-2.96zM80.3 143.0l1.48 2.50h-2.96zM99.9 184.7l1.48 2.50h-2.96zM87.2 158.0l1.48 2.50h-2.96zM102.7 189.6l1.48 2.50h-2.96zM82.9 160.7l1.48 2.50h-2.96zM74.8 169.8l1.48 2.50h-2.96zM94.5 168.3l1.48 2.50h-2.96zM74.0 157.1l1.48 2.50h-2.96zM83.1 166.5l1.48 2.50h-2.96zM75.4 165.2l1.48 2.50h-2.96zM74.1 181.2l1.48 2.50h-2.96zM100.2 181.1l1.48 2.50h-2.96zM82.4 130.3l1.48 2.50h-2.96zM87.2 173.9l1.48 2.50h-2.96zM75.4 173.9l1.48 2.50h-2.96zM90.2 172.9l1.48 2.50h-2.96zM83.2 144.5l1.48 2.50h-2.96zM83.2 173.0l1.48 2.50h-2.96zM96.0 168.0l1.48 2.50h-2.96zM100.6 178.1l1.48 2.50h-2.96zM88.4 149.4l1.48 2.50h-2.96zM86.9 169.5l1.48 2.50h-2.96zM93.2 194.8l1.48 2.50h-2.96zM76.7 156.9l1.48 2.50h-2.96zM92.6 150.8l1.48 2.50h-2.96zM72.4 188.5l1.48 2.50h-2.96zM78.4 124.7l1.48 2.50h-2.96zM69.9 152.5l1.48 2.50h-2.96zM90.8 150.3l1.48 2.50h-2.96zM89.9 162.1l1.48 2.50h-2.96zM102.3 177.3l1.48 2.50h-2.96zM76.7 162.5l1.48 2.50h-2.96zM104.1 179.4l1.48 2.50h-2.96zM74.0 136.5l1.48 2.50h-2.96zM73.0 151.8l1.48 2.50h-2.96zM94.3 173.9l1.48 2.50h-2.96zM78.5 175.6l1.48 2.50h-2.96zM73.8 173.5l1.48 2.50h-2.96zM108.7 188.4l1.48 2.50h-2.96zM109.3 189.9l1.48 2.50h-2.96zM84.7 159.8l1.48 2.50h-2.96zM72.8 136.7l1.48 2.50h-2.96zM81.6 153.1l1.48 2.50h-2.96zM99.7 175.1l1.48 2.50h-2.96zM101.4 167.7l1.48 2.50h-2.96zM69.4 158.8l1.48 2.50h-2.96zM68.1 171.2l1.48 2.50h-2.96zM74.2 189.6l1.48 2.50h-2.96zM91.8 172.1l1.48 2.50h-2.96zM76.6 134.4l1.48 2.50h-2.96zM82.7 188.2l1.48 2.50h-2.96zM82.3 153.7l1.48 2.50h-2.96zM88.6 175.3l1.48 2.50h-2.96zM78.4 142.6l1.48 2.50h-2.96zM79.3 192.1l1.48 2.50h-2.96zM75.4 135.3l1.48 2.50h-2.96zM87.6 140.0l1.48 2.50h-2.96zM94.0 186.3l1.48 2.50h-2.96zM103.6 174.9l1.48 2.50h-2.96zM85.1 182.5l1.48 2.50h-2.96zM77.3 176.8l1.48 2.50h-2.96zM90.5 157.2l1.48 2.50h-2.96zM74.5 137.3l1.48 2.50h-2.96zM82.4 152.9l1.48 2.50h-2.96zM76.9 173.8l1.48 2.50h-2.96zM90.0 164.0l1.48 2.50h-2.96zM81.9 174.9l1.48 2.50h-2.96zM96.4 186.2l1.48 2.50h-2.96zM91.9 161.1l1.48 2.50h-2.96zM92.4 184.8l1.48 2.50h-2.96zM101.7 188.3l1.48 2.50h-2.96zM93.5 179.7l1.48 2.50h-2.96zM80.2 166.2l1.48 2.50h-2.96zM71.7 150.6l1.48 2.50h-2.96zM69.3 165.0l1.48 2.50h-2.96zM72.3 131.0l1.48 2.50h-2.96zM84.5 181.1l1.48 2.50h-2.96zM84.8 189.8l1.48 2.50h-2.96zM95.7 192.4l1.48 2.50h-2.96zM80.4 150.0l1.48 2.50h-2.96zM105.9 174.6l1.48 2.50h-2.96zM84.2 192.5l1.48 2.50h-2.96zM94.4 166.6l1.48 2.50h-2.96zM80.4 186.7l1.48 2.50h-2.96zM106.7 173.9l1.48 2.50h-2.96zM89.3 188.8l1.48 2.50h-2.96zM84.0 181.0l1.48 2.50h-2.96zM99.8 189.2l1.48 2.50h-2.96zM83.5 193.9l1.48 2.50h-2.96zM71.4 147.3l1.48 2.50h-2.96zM79.8 151.2l1.48 2.50h-2.96zM68.4 153.2l1.48 2.50h-2.96zM86.1 170.4l1.48 2.50h-2.96zM82.6 187.9l1.48 2.50h-2.96zM92.1 171.7l1.48 2.50h-2.96zM102.7 177.7l1.48 2.50h-2.96zM90.0 177.0l1.48 2.50h-2.96zM82.4 165.3l1.48 2.50h-2.96zM74.3 129.5l1.48 2.50h-2.96zM75.2 163.7l1.48 2.50h-2.96zM79.6 160.0l1.48 2.50h-2.96zM110.0 182.5l1.48 2.50h-2.96zM84.0 187.7l1.48 2.50h-2.96zM73.5 171.9l1.48 2.50h-2.96zM70.0 174.8l1.48 2.50h-2.96zM86.7 194.5l1.48 2.50h-2.96zM87.1 186.4l1.48 2.50h-2.96zM88.5 155.0l1.48 2.50h-2.96zM85.5 176.5l1.48 2.50h-2.96zM86.5 161.1l1.48 2.50h-2.96zM72.1 178.1l1.48 2.50h-2.96zM74.1 165.2l1.48 2.50h-2.96zM78.1 166.4l1.48 2.50h-2.96zM74.4 144.9l1.48 2.50h-2.96zM71.5 170.8l1.48 2.50h-2.96zM84.1 147.5l1.48 2.50h-2.96zM80.7 168.2l1.48 2.50h-2.96zM103.3 188.6l1.48 2.50h-2.96zM83.5 149.9l1.48 2.50h-2.96zM98.2 165.3l1.48 2.50h-2.96zM72.9 147.9l1.48 2.50h-2.96zM106.8 182.8l1.48 2.50h-2.96zM100.2 184.0l1.48 2.50h-2.96zM85.1 191.8l1.48 2.50h-2.96zM89.5 180.1l1.48 2.50h-2.96zM89.2 152.8l1.48 2.50h-2.96zM78.2 152.9l1.48 2.50h-2.96zM99.9 192.9l1.48 2.50h-2.96zM76.0 178.0l1.48 2.50h-2.96zM82.4 194.2l1.48 2.50h-2.96zM82.8 149.3l1.48 2.50h-2.96zM76.3 150.1l1.48 2.50h-2.96zM83.8 146.5l1.48 2.50h-2.96zM94.4 154.9l1.48 2.50h-2.96zM74.5 153.3l1.48 2.50h-2.96zM92.1 192.9l1.48 2.50h-2.96zM68.1 163.9l1.48 2.50h-2.96zM80.0 136.3l1.48 2.50h-2.96zM81.5 131.2l1.48 2.50h-2.96zM104.1 174.8l1.48 2.50h-2.96zM97.4 176.1l1.48 2.50h-2.96zM87.9 175.4l1.48 2.50h-2.96zM91.6 176.0l1.48 2.50h-2.96zM101.3 192.7l1.48 2.50h-2.96zM68.6 163.0l1.48 2.50h-2.96zM101.0 191.9l1.48 2.50h-2.96zM81.6 177.7l1.48 2.50h-2.96zM78.8 169.1l1.48 2.50h-2.96zM74.5 150.7l1.48 2.50h-2.96zM69.6 173.2l1.48 2.50h-2.96zM86.2 190.6l1.48 2.50h-2.96zM72.5 179.1l1.48 2.50h-2.96zM93.6 176.1l1.48 2.50h-2.96zM68.6 164.8l1.48 2.50h-2.96zM73.4 138.6l1.48 2.50h-2.96zM80.1 165.2l1.48 2.50h-2.96zM94.2 180.5l1.48 2.50h-2.96zM75.8 149.8l1.48 2.50h-2.96zM93.9 156.1l1.48 2.50h-2.96zM87.1 144.9l1.48 2.50h-2.96zM81.4 148.7l1.48 2.50h-2.96zM74.3 185.1l1.48 2.50h-2.96zM102.1 180.6l1.48 2.50h-2.96zM97.6 161.1l1.48 2.50h-2.96zM100.4 191.1l1.48 2.50h-2.96zM84.5 181.2l1.48 2.50h-2.96zM72.1 164.5l1.48 2.50h-2.96zM92.6 186.6l1.48 2.50h-2.96zM79.3 193.9l1.48 2.50h-2.96zM77.3 157.9l1.48 2.50h-2.96zM90.7 152.4l1.48 2.50h-2.96zM71.3 186.2l1.48 2.50h-2.96zM97.4 164.9l1.48 2.50h-2.96zM92.8 149.9l1.48 2.50h-2.96zM94.4 156.8l1.48 2.50h-2.96zM92.3 157.0l1.48 2.50h-2.96zM77.8 163.1l1.48 2.50h-2.96zM80.9 174.3l1.48 2.50h-2.96zM93.6 161.6l1.48 2.50h-2.96zM74.0 135.2l1.48 2.50h-2.96zM68.7 158.7l1.48 2.50h-2.96zM76.8 159.7l1.48 2.50h-2.96zM109.7 179.4l1.48 2.50h-2.96zM96.7 171.5l1.48 2.50h-2.96zM69.0 153.8l1.48 2.50h-2.96zM95.9 153.5l1.48 2.50h-2.96zM82.8 183.4l1.48 2.50h-2.96zM77.3 164.2l1.48 2.50h-2.96zM88.6 146.7l1.48 2.50h-2.96zM82.9 135.9l1.48 2.50h-2.96zM77.3 188.6l1.48 2.50h-2.96zM74.8 189.6l1.48 2.50h-2.96zM102.5 193.8l1.48 2.50h-2.96zM98.5 172.5l1.48 2.50h-2.96zM82.3 177.9l1.48 2.50h-2.96zM83.4 169.3l1.48 2.50h-2.96zM81.7 159.6l1.48 2.50h-2.96zM99.9 164.5l1.48 2.50h-2.96zM84.2 181.1l1.48 2.50h-2.96zM92.8 150.7l1.48 2.50h-2.96zM85.2 178.0l1.48 2.50h-2.96zM76.4 184.3l1.48 2.50h-2.96zM97.5 186.2l1.48 2.50h-2.96zM98.7 177.7l1.48 2.50h-2.96zM98.4 179.3l1.48 2.50h-2.96zM96.5 167.3l1.48 2.50h-2.96zM71.4 148.9l1.48 2.50h-2.96zM102.4 181.5l1.48 2.50h-2.96zM88.8 165.5l1.48 2.50h-2.96zM73.4 161.6l1.48 2.50h-2.96zM103.7 178.5l1.48 2.50h-2.96zM72.4 175.7l1.48 2.50h-2.96zM75.6 139.1l1.48 2.50h-2.96zM81.7 194.4l1.48 2.50h-2.96zM79.0 195.6l1.48 2.50h-2.96zM81.4 151.2l1.48 2.50h-2.96zM76.5 170.5l1.48 2.50h-2.96zM101.9 164.0l1.48 2.50h-2.96zM89.2 184.7l1.48 2.50h-2.96zM82.8 181.1l1.48 2.50h-2.96zM81.7 181.0l1.48 2.50h-2.96zM95.4 184.4l1.48 2.50h-2.96zM108.3 175.5l1.48 2.50h-2.96zM82.2 174.3l1.48 2.50h-2.96zM114.9 188.2l1.48 2.50h-2.96zM81.1 164.9l1.48 2.50h-2.96zM82.8 137.8l1.48 2.50h-2.96zM63.1 190.5l1.48 2.50h-2.96zM77.2 197.6l1.48 2.50h-2.96zM75.0 195.1l1.48 2.50h-2.96zM68.3 143.4l1.48 2.50h-2.96zM68.7 129.0l1.48 2.50h-2.96zM69.1 126.0l1.48 2.50h-2.96zM71.8 130.7l1.48 2.50h-2.96zM72.9 126.5l1.48 2.50h-2.96zM98.8 196.3l1.48 2.50h-2.96zM65.0 156.5l1.48 2.50h-2.96zM61.4 172.2l1.48 2.50h-2.96zM68.2 187.7l1.48 2.50h-2.96zM98.4 197.3l1.48 2.50h-2.96zM82.4 196.4l1.48 2.50h-2.96zM75.0 202.0l1.48 2.50h-2.96zM65.4 127.2l1.48 2.50h-2.96zM69.4 192.2l1.48 2.50h-2.96zM77.0 196.2l1.48 2.50h-2.96zM96.8 197.4l1.48 2.50h-2.96zM81.8 199.9l1.48 2.50h-2.96zM70.7 132.6l1.48 2.50h-2.96zM68.3 138.4l1.48 2.50h-2.96zM70.1 132.1l1.48 2.50h-2.96zM108.3 192.5l1.48 2.50h-2.96zM66.1 173.8l1.48 2.50h-2.96zM89.2 200.0l1.48 2.50h-2.96zM66.7 167.5l1.48 2.50h-2.96zM96.3 195.1l1.48 2.50h-2.96zM66.0 153.1l1.48 2.50h-2.96zM93.2 196.1l1.48 2.50h-2.96zM74.6 119.4l1.48 2.50h-2.96zM70.9 124.2l1.48 2.50h-2.96zM67.4 163.7l1.48 2.50h-2.96zM71.4 198.6l1.48 2.50h-2.96zM71.4 126.0l1.48 2.50h-2.96zM76.5 120.2l1.48 2.50h-2.96zM67.0 185.5l1.48 2.50h-2.96zM66.2 190.0l1.48 2.50h-2.96zM76.4 119.8l1.48 2.50h-2.96zM67.2 184.7l1.48 2.50h-2.96zM72.0 192.7l1.48 2.50h-2.96zM70.1 133.4l1.48 2.50h-2.96zM83.1 199.4l1.48 2.50h-2.96zM67.4 159.7l1.48 2.50h-2.96zM106.0 193.0l1.48 2.50h-2.96zM62.8 143.2l1.48 2.50h-2.96zM63.9 152.6l1.48 2.50h-2.96zM63.8 160.3l1.48 2.50h-2.96zM99.1 195.1l1.48 2.50h-2.96zM72.6 194.8l1.48 2.50h-2.96zM64.7 129.7l1.48 2.50h-2.96zM76.2 121.9l1.48 2.50h-2.96zM70.3 188.0l1.48 2.50h-2.96zM69.7 189.4l1.48 2.50h-2.96zM73.8 194.5l1.48 2.50h-2.96zM95.0 198.0l1.48 2.50h-2.96zM61.5 186.0l1.48 2.50h-2.96zM70.9 121.3l1.48 2.50h-2.96zM68.5 135.4l1.48 2.50h-2.96zM66.1 161.4l1.48 2.50h-2.96zM70.1 189.2l1.48 2.50h-2.96zM65.6 135.9l1.48 2.50h-2.96zM61.8 145.1l1.48 2.50h-2.96zM80.1 206.0l1.48 2.50h-2.96zM65.7 159.9l1.48 2.50h-2.96zM68.1 174.0l1.48 2.50h-2.96zM72.6 196.7l1.48 2.50h-2.96zM70.2 188.7l1.48 2.50h-2.96zM68.9 194.8l1.48 2.50h-2.96zM64.2 156.4l1.48 2.50h-2.96zM64.5 144.3l1.48 2.50h-2.96zM66.8 159.0l1.48 2.50h-2.96zM64.9 162.1l1.48 2.50h-2.96zM65.7 161.9l1.48 2.50h-2.96zM65.8 164.0l1.48 2.50h-2.96zM83.1 201.9l1.48 2.50h-2.96zM70.3 189.6l1.48 2.50h-2.96zM69.8 195.3l1.48 2.50h-2.96zM90.2 197.0l1.48 2.50h-2.96zM60.6 166.5l1.48 2.50h-2.96zM69.7 195.6l1.48 2.50h-2.96zM85.3 196.0l1.48 2.50h-2.96zM65.2 145.7l1.48 2.50h-2.96zM62.1 169.2l1.48 2.50h-2.96zM70.3 134.6l1.48 2.50h-2.96zM65.8 172.1l1.48 2.50h-2.96zM67.0 157.9l1.48 2.50h-2.96zM68.2 128.4l1.48 2.50h-2.96zM66.7 145.1l1.48 2.50h-2.96zM68.0 174.7l1.48 2.50h-2.96zM66.6 139.9l1.48 2.50h-2.96zM67.1 172.4l1.48 2.50h-2.96zM64.5 173.8l1.48 2.50h-2.96zM61.7 172.5l1.48 2.50h-2.96zM68.0 173.8l1.48 2.50h-2.96zM69.3 123.0l1.48 2.50h-2.96zM66.0 160.8l1.48 2.50h-2.96zM71.7 118.8l1.48 2.50h-2.96zM66.7 164.1l1.48 2.50h-2.96zM74.9 196.2l1.48 2.50h-2.96zM64.5 162.6l1.48 2.50h-2.96zM65.3 139.6l1.48 2.50h-2.96zM61.9 166.0l1.48 2.50h-2.96zM67.6 169.7l1.48 2.50h-2.96zM65.4 150.6l1.48 2.50h-2.96zM66.1 194.2l1.48 2.50h-2.96zM96.0 195.0l1.48 2.50h-2.96zM81.3 197.0l1.48 2.50h-2.96zM97.4 195.1l1.48 2.50h-2.96zM66.1 168.4l1.48 2.50h-2.96zM72.8 193.6l1.48 2.50h-2.96zM77.0 197.1l1.48 2.50h-2.96zM69.8 136.2l1.48 2.50h-2.96zM76.1 198.5l1.48 2.50h-2.96zM66.6 164.9l1.48 2.50h-2.96zM69.1 193.0l1.48 2.50h-2.96zM85.8 198.9l1.48 2.50h-2.96zM64.1 170.5l1.48 2.50h-2.96zM82.0 196.5l1.48 2.50h-2.96zM70.6 135.1l1.48 2.50h-2.96zM64.2 186.0l1.48 2.50h-2.96zM64.0 125.0l1.48 2.50h-2.96zM81.0 198.1l1.48 2.50h-2.96zM65.6 158.9l1.48 2.50h-2.96zM68.0 196.9l1.48 2.50h-2.96zM80.6 199.9l1.48 2.50h-2.96zM72.6 127.2l1.48 2.50h-2.96zM87.2 202.4l1.48 2.50h-2.96zM63.2 161.2l1.48 2.50h-2.96zM60.7 156.8l1.48 2.50h-2.96zM66.4 149.4l1.48 2.50h-2.96zM76.0 121.4l1.48 2.50h-2.96zM62.6 173.9l1.48 2.50h-2.96zM66.1 175.5l1.48 2.50h-2.96zM70.5 118.4l1.48 2.50h-2.96zM94.4 195.9l1.48 2.50h-2.96zM61.5 147.7l1.48 2.50h-2.96zM67.6 135.1l1.48 2.50h-2.96zM71.1 119.7l1.48 2.50h-2.96zM68.4 194.1l1.48 2.50h-2.96zM63.3 180.1l1.48 2.50h-2.96zM68.1 173.5l1.48 2.50h-2.96zM63.0 172.7l1.48 2.50h-2.96zM69.0 192.9l1.48 2.50h-2.96zM64.7 119.1l1.48 2.50h-2.96zM88.3 198.1l1.48 2.50h-2.96zM71.1 132.1l1.48 2.50h-2.96zM74.4 206.7l1.48 2.50h-2.96zM68.3 180.3l1.48 2.50h-2.96zM72.3 203.0l1.48 2.50h-2.96zM67.5 112.6l1.48 2.50h-2.96zM71.8 111.4l1.48 2.50h-2.96zM118.5 189.4l1.48 2.50h-2.96zM117.9 188.6l1.48 2.50h-2.96zM68.5 211.7l1.48 2.50h-2.96zM62.1 195.9l1.48 2.50h-2.96zM58.3 158.4l1.48 2.50h-2.96zM58.0 132.2l1.48 2.50h-2.96z" fill="#FD7F6F"/><path d="M95.0 104.1h0M97.9 108.6h0M109.0 169.8h0M103.4 158.1h0M88.4 116.8h0M110.3 134.2h0M97.6 134.8h0M91.4 122.2h0M77.2 121.1h0M93.7 109.6h0M90.9 138.6h0M100.4 153.9h0M105.0 149.8h0M113.1 135.4h0M101.7 143.8h0M91.0 116.2h0M89.0 133.3h0M90.3 95.3h0M93.7 108.3h0M120.1 144.4h0M109.2 131.5h0M112.7 138.2h0M112.4 162.5h0M122.9 142.8h0M97.0 113.2h0M77.2 117.7h0M112.4 138.4h0M83.9 112.0h0M87.5 95.8h0M99.7 147.2h0M89.6 119.9h0M109.3 151.1h0M99.4 110.3h0M107.0 126.9h0M117.6 148.6h0M93.5 107.7h0M116.5 148.3h0M116.9 151.7h0M103.2 124.8h0M113.4 127.6h0M94.0 134.7h0M85.0 133.4h0M121.8 146.8h0M114.4 162.2h0M87.7 121.1h0M89.4 106.1h0M93.5 105.8h0M90.1 129.7h0M89.7 120.0h0M110.4 146.9h0M99.5 122.5h0M95.1 115.1h0M88.0 130.9h0M101.5 107.8h0M114.6 144.4h0M82.6 125.3h0M113.6 136.9h0M101.4 116.4h0M89.9 113.9h0M87.9 122.5h0M86.4 127.8h0M89.9 141.2h0M87.7 115.2h0M92.8 109.8h0M97.1 122.3h0M85.6 112.3h0M95.8 130.5h0M92.1 138.0h0M107.0 128.3h0M87.5 136.9h0M109.8 135.9h0M81.3 115.2h0M91.1 134.8h0M74.9 117.5h0M96.9 103.5h0M117.1 159.6h0M106.2 150.8h0M94.8 113.3h0M95.5 104.5h0M93.7 106.1h0M100.6 108.4h0M101.4 137.0h0M124.3 145.6h0M110.7 155.8h0M84.3 95.3h0M99.1 153.6h0M93.0 132.1h0M99.6 121.3h0M109.2 148.6h0M97.5 139.1h0M94.9 98.6h0M82.5 124.4h0M86.3 104.1h0M100.5 137.6h0M84.8 111.7h0M99.1 150.4h0M116.2 159.7h0M85.6 123.0h0M98.5 131.7h0M105.4 157.1h0M102.1 113.7h0M99.4 142.6h0M99.0 137.2h0M91.5 135.3h0M86.3 133.5h0M100.4 157.6h0M94.8 147.6h0M90.8 114.7h0M77.3 118.3h0M110.8 168.0h0M94.6 145.4h0M117.7 134.3h0M85.5 126.5h0M113.4 147.1h0M94.6 119.4h0M109.3 141.2h0M76.7 119.2h0M108.8 123.2h0M95.5 134.5h0M103.0 113.9h0M86.7 101.8h0M92.1 142.8h0M84.5 103.3h0M100.7 143.5h0M91.0 135.5h0M122.8 143.8h0M96.3 151.1h0M98.6 117.3h0M79.6 124.8h0M88.9 129.4h0M102.4 128.8h0M105.7 127.0h0M94.6 115.7h0M112.2 146.3h0M89.5 133.9h0M94.8 148.7h0M100.1 144.1h0M118.7 151.1h0M114.8 147.3h0M106.4 147.7h0M84.7 104.2h0M108.9 131.3h0M100.3 117.0h0M83.5 104.2h0M86.7 97.6h0M104.4 125.1h0M93.4 126.3h0M90.0 135.5h0M101.9 125.6h0M78.8 108.3h0M102.7 124.8h0M111.6 158.3h0M106.4 141.6h0M100.8 138.6h0M105.7 145.2h0M88.0 101.1h0M94.4 108.7h0M110.8 137.3h0M114.2 147.5h0M99.3 107.5h0M91.1 120.7h0M109.1 134.6h0M106.7 121.2h0M77.1 111.5h0M94.0 109.6h0M73.9 115.9h0M115.6 151.9h0M98.9 153.4h0M85.4 117.1h0M99.9 127.3h0M111.6 160.2h0M91.5 119.9h0M77.8 108.7h0M98.2 104.4h0M93.1 119.3h0M95.5 106.2h0M97.2 116.3h0M89.2 102.5h0M97.6 127.4h0M94.0 128.0h0M112.1 158.1h0M118.8 141.3h0M86.9 127.9h0M120.1 143.3h0M112.0 125.7h0M104.9 145.5h0M111.4 156.0h0M87.4 130.5h0M100.6 131.7h0M80.0 115.2h0M114.1 146.8h0M85.2 100.8h0M97.3 134.5h0M100.7 108.1h0M94.7 143.9h0M101.5 140.9h0M90.6 129.6h0M106.7 122.0h0M112.2 147.6h0M89.7 114.3h0M114.0 144.0h0M107.4 167.6h0M115.8 147.7h0M115.2 154.0h0M78.6 123.5h0M81.1 101.6h0M90.4 106.4h0M118.4 135.7h0M117.3 154.8h0M94.2 95.6h0M104.3 115.9h0M110.5 171.9h0M113.9 144.2h0M101.9 159.3h0M95.7 114.3h0M80.2 110.6h0M113.5 161.0h0M101.7 147.6h0M107.1 142.2h0M112.2 147.4h0M107.3 152.2h0M86.0 102.7h0M99.1 113.6h0M106.0 120.5h0M104.6 154.2h0M87.2 110.7h0M102.0 129.3h0M108.1 154.8h0M81.5 120.2h0M90.9 112.4h0M107.2 141.1h0M89.1 124.3h0M78.3 107.4h0M93.0 143.5h0M118.6 142.2h0M89.0 102.9h0M100.3 145.7h0M83.9 126.7h0M120.5 153.2h0M117.2 159.0h0M102.0 154.2h0M120.2 154.3h0M88.2 122.2h0M76.5 117.5h0M113.9 149.7h0M79.1 123.6h0M104.6 134.2h0M92.0 103.4h0M106.3 139.4h0M105.3 164.8h0M86.9 134.9h0M105.9 134.5h0M95.2 117.4h0M92.2 94.1h0M98.7 146.7h0M76.8 110.0h0M94.2 121.4h0M105.1 164.7h0M116.9 154.3h0M113.2 159.9h0M87.2 106.7h0M102.8 141.1h0M92.5 105.4h0M104.1 161.5h0M96.4 146.1h0M95.1 107.5h0M117.5 139.7h0M104.5 153.9h0M115.2 158.4h0M88.0 132.7h0M96.1 124.3h0M94.9 116.9h0M88.9 122.0h0M112.5 163.2h0M88.0 120.7h0M86.1 119.1h0M106.7 163.3h0M109.3 135.6h0M84.0 127.9h0M89.6 109.0h0M101.4 140.5h0M93.3 116.3h0M99.3 111.6h0M109.8 149.6h0M94.6 126.1h0M89.7 128.2h0M80.1 116.8h0M94.2 138.3h0M113.5 165.2h0M91.1 99.5h0M111.2 158.4h0M94.3 98.3h0M87.0 120.7h0M96.9 103.1h0M97.9 123.0h0M89.3 126.6h0M97.1 109.3h0M98.4 123.6h0M95.6 127.5h0M88.2 109.9h0M106.9 126.3h0M109.0 129.4h0M101.2 149.1h0M83.7 125.3h0M101.0 152.2h0M106.2 128.3h0M108.2 169.2h0M107.3 139.0h0M103.4 120.4h0M115.8 162.7h0M76.3 109.5h0M97.5 123.3h0M104.2 121.1h0M116.2 143.4h0M96.3 120.1h0M93.3 105.5h0M108.8 120.6h0M91.7 115.9h0M81.4 111.3h0M73.4 115.5h0M81.4 116.9h0M105.0 130.9h0M80.5 105.0h0M102.6 124.2h0M88.1 98.4h0M93.0 134.1h0M77.4 108.2h0M101.5 133.8h0M117.3 155.0h0M89.9 92.0h0M105.9 123.1h0M82.1 112.8h0M90.1 91.3h0M81.2 105.2h0M104.0 150.2h0M107.2 143.2h0M100.1 113.1h0M105.2 134.8h0M109.4 148.7h0M78.7 113.6h0M94.6 121.2h0M89.2 138.6h0M98.4 102.3h0M118.9 144.4h0M112.4 161.6h0M108.8 156.2h0M107.2 119.0h0M121.1 150.5h0M85.6 111.9h0M112.2 152.1h0M92.4 127.2h0M99.9 131.0h0M100.2 146.8h0M110.5 149.1h0M107.5 136.4h0M94.2 124.1h0M111.7 144.9h0M98.4 132.8h0M105.8 120.4h0M84.6 130.9h0M82.0 118.6h0M92.9 137.8h0M118.4 145.8h0M120.0 152.7h0M97.7 120.3h0M102.1 116.1h0M100.8 119.5h0M98.6 152.2h0M114.5 132.0h0M90.9 116.9h0M98.4 104.8h0M121.1 152.3h0M114.8 160.4h0M93.9 122.1h0M121.0 142.8h0M103.2 150.0h0M117.2 154.0h0M98.3 137.1h0M99.4 106.7h0M82.8 118.6h0M104.4 136.5h0M106.2 135.4h0M111.3 166.0h0M92.6 132.3h0M116.3 135.5h0M113.5 158.0h0M80.7 125.8h0M104.4 140.2h0M115.4 141.6h0M119.9 139.8h0M87.3 127.7h0M112.7 157.7h0M109.3 134.4h0M102.2 133.7h0M80.5 117.8h0M111.2 166.8h0M90.0 131.3h0M105.3 148.2h0M95.7 127.4h0M90.4 100.7h0M116.7 157.4h0M98.0 108.6h0M121.7 148.6h0M90.3 137.9h0M103.4 118.3h0M91.3 117.4h0M74.5 113.6h0M86.6 101.3h0M89.2 139.4h0M92.2 108.9h0M93.2 129.9h0M88.6 116.7h0M95.7 141.3h0M103.4 155.3h0M79.5 114.9h0M88.5 110.9h0M94.0 143.2h0M89.8 127.9h0M92.8 128.0h0M90.9 107.5h0M107.4 142.9h0M102.3 112.0h0M94.7 134.4h0M123.0 145.1h0M99.3 132.8h0M83.5 108.8h0M111.3 154.3h0M76.3 117.4h0M113.4 147.0h0M99.2 135.2h0M91.3 109.7h0M77.2 110.0h0M104.6 127.3h0M94.4 104.2h0M100.7 149.2h0M93.5 129.1h0M113.2 145.5h0M107.5 134.6h0M109.1 142.1h0M100.9 107.3h0M106.3 145.7h0M86.2 108.6h0M112.9 126.5h0M105.8 161.5h0M77.1 119.4h0M105.5 129.4h0M101.9 145.7h0M88.1 98.8h0M91.8 100.9h0M117.8 148.0h0M84.2 125.1h0M118.3 149.3h0M100.5 154.4h0M77.2 108.2h0M94.6 116.0h0M88.7 135.0h0M109.5 150.5h0M87.9 136.9h0M93.8 134.2h0M103.4 152.5h0M95.5 134.4h0M98.9 148.6h0M120.4 150.1h0M86.3 123.2h0M95.8 101.6h0M84.0 109.6h0M85.1 108.5h0M112.6 156.3h0M93.9 128.7h0M78.4 105.7h0M78.4 113.3h0M109.3 169.9h0M77.0 112.4h0M86.6 109.9h0M111.5 132.3h0M101.1 130.3h0M117.4 143.4h0M115.6 131.5h0M91.6 138.9h0M109.7 154.2h0M101.6 140.6h0M101.7 133.9h0M81.1 100.4h0M114.2 137.6h0M110.4 125.0h0M94.0 119.3h0M89.3 90.8h0M84.6 120.3h0M81.7 100.6h0M105.6 150.2h0M98.0 143.0h0M75.1 114.1h0M106.1 166.5h0M107.9 152.8h0M94.7 124.9h0M102.1 155.8h0M100.3 133.1h0M78.7 104.0h0M120.2 145.7h0M79.0 105.6h0M89.1 92.0h0M108.6 120.4h0M100.3 139.0h0M104.6 116.0h0M92.3 126.8h0M115.3 160.6h0M99.7 156.4h0M90.3 98.2h0M88.9 131.0h0M104.1 122.8h0M94.5 144.9h0M98.5 103.0h0M116.2 136.5h0M84.9 102.4h0M97.1 120.2h0M111.9 150.8h0M103.7 152.9h0M94.6 127.6h0M94.7 147.1h0M98.4 133.1h0M99.5 143.5h0M118.5 155.9h0M100.6 152.2h0M113.4 162.6h0M89.4 132.0h0M112.9 138.9h0M111.5 159.4h0M108.5 139.4h0M110.6 127.7h0M107.3 131.5h0M103.6 125.0h0M88.0 124.5h0M85.8 98.8h0M108.6 160.1h0M114.0 132.3h0M94.4 97.7h0M82.9 105.3h0M109.8 158.9h0M110.6 130.2h0M90.5 139.4h0M86.4 104.6h0M116.6 149.6h0M93.3 132.2h0M110.8 122.8h0M81.3 122.7h0M111.3 143.1h0M89.4 95.3h0M93.1 102.0h0M93.6 127.4h0M107.3 136.1h0M97.0 115.2h0M91.2 121.4h0M93.6 135.5h0M91.7 144.1h0M101.8 145.3h0M95.1 110.9h0M91.5 118.9h0M112.4 155.2h0M85.2 126.5h0M109.1 156.8h0M123.5 147.4h0M91.7 114.7h0M107.6 159.9h0M84.0 101.4h0M110.9 134.6h0M102.1 123.0h0M101.8 133.9h0M99.5 150.2h0M86.7 92.7h0M94.0 126.6h0M97.5 152.2h0M113.7 143.8h0M103.0 126.2h0M99.5 112.9h0M99.7 127.2h0M120.4 142.2h0M105.0 158.6h0M115.0 142.3h0M101.8 111.0h0M91.6 112.7h0M97.3 119.7h0M106.1 135.3h0M82.4 117.0h0M113.1 136.7h0M82.0 104.9h0M110.6 137.3h0M118.2 145.6h0M109.5 129.9h0M113.9 137.1h0M108.7 137.4h0M100.1 136.7h0M116.7 146.0h0M88.8 95.1h0M85.6 105.0h0M99.8 156.2h0M85.0 120.9h0M79.8 109.5h0M110.5 143.3h0M102.8 138.5h0M79.6 125.0h0M101.0 146.2h0M78.4 122.5h0M115.7 135.6h0M117.0 160.0h0M108.9 161.9h0M96.9 118.8h0M88.3 127.7h0M89.6 121.7h0M100.8 157.8h0M93.4 118.3h0M80.9 105.6h0M119.8 154.1h0M107.7 158.4h0M83.6 104.3h0M103.9 134.1h0M106.1 148.7h0M90.7 97.4h0M104.9 138.5h0M92.0 129.7h0M86.1 128.3h0M108.9 131.0h0M83.7 114.9h0M83.0 104.8h0M111.5 159.7h0M105.1 153.2h0M81.1 102.2h0M100.4 128.1h0M114.2 161.4h0M108.0 140.8h0M95.7 127.6h0M114.8 129.3h0M95.0 140.7h0M119.6 145.8h0M104.8 121.4h0M113.8 137.0h0M108.5 141.0h0M94.6 110.1h0M112.7 139.3h0M86.1 114.3h0M86.6 102.5h0M80.1 125.4h0M106.3 156.9h0M94.9 134.6h0M101.7 130.4h0M92.3 138.9h0M102.5 158.0h0M114.5 162.9h0M86.0 128.8h0M90.8 130.9h0M100.1 123.8h0M104.2 113.4h0M96.1 147.1h0M94.7 144.5h0M95.9 121.7h0M94.5 145.2h0M104.7 142.0h0M100.5 143.9h0M86.1 119.4h0M92.8 142.7h0M116.7 137.8h0M92.8 142.6h0M75.6 111.4h0M107.1 139.8h0M107.0 131.5h0M95.5 136.8h0M107.4 133.8h0M104.3 157.9h0M106.9 163.3h0M107.0 164.5h0M89.1 133.6h0M93.6 106.4h0M89.1 102.0h0M98.4 114.2h0M91.9 127.7h0M97.3 114.1h0M92.4 99.7h0M76.8 112.3h0M109.1 126.9h0M85.3 131.1h0M97.7 127.7h0M83.9 128.6h0M105.5 161.0h0M104.5 156.6h0M88.0 114.5h0M93.6 114.8h0M87.5 98.4h0M88.4 114.0h0M85.9 125.2h0M108.5 169.7h0M103.7 121.9h0M86.7 118.3h0M81.2 113.6h0M86.1 93.7h0M108.5 150.6h0M102.3 146.2h0M83.0 115.0h0M86.3 134.4h0M95.1 104.1h0M89.3 136.4h0M105.8 142.2h0M85.7 104.8h0M99.7 115.6h0M79.3 102.3h0M100.5 148.2h0M84.5 126.3h0M114.6 147.3h0M79.6 121.0h0M98.4 106.8h0M100.6 156.1h0M109.5 141.1h0M119.4 142.3h0M102.9 110.9h0M92.5 116.7h0M107.2 147.5h0M99.7 116.5h0M94.9 125.1h0M105.2 137.3h0M113.4 130.6h0M101.9 138.1h0M103.6 120.8h0M97.2 129.7h0M97.1 133.6h0M83.0 124.1h0M85.0 118.3h0M86.7 128.5h0M111.1 124.8h0M84.6 102.3h0M102.9 130.4h0M89.6 96.7h0M99.1 142.6h0M112.2 128.5h0M87.4 126.7h0M106.6 145.2h0M95.0 104.0h0M91.8 131.9h0M113.5 132.6h0M82.5 104.5h0M95.0 141.2h0M98.2 140.3h0M97.0 132.6h0M90.1 117.1h0M112.8 134.3h0M91.3 113.6h0M94.8 138.8h0M119.2 142.1h0M89.9 98.6h0M98.5 153.5h0M112.9 158.7h0M102.3 124.1h0M83.1 119.4h0M102.3 145.9h0M90.7 130.1h0M82.0 117.4h0M103.7 131.8h0M88.5 131.1h0M111.0 145.0h0M101.7 113.4h0M110.0 143.0h0M115.5 161.4h0M84.4 95.2h0M104.5 154.4h0M87.7 108.5h0M105.5 155.1h0M90.4 127.6h0M95.7 100.5h0M110.5 147.3h0M108.3 167.0h0M108.9 152.2h0M89.4 138.0h0M105.5 162.7h0M94.1 97.1h0M96.4 108.7h0M104.0 140.8h0M99.8 150.4h0M93.0 95.9h0M103.4 159.2h0M91.2 91.6h0M95.9 145.7h0M100.1 126.7h0M102.2 129.1h0M110.5 170.4h0M92.5 94.7h0M102.4 156.4h0M106.1 122.4h0M80.4 113.4h0M92.3 115.5h0M94.9 134.8h0M107.3 168.0h0M115.7 157.6h0M110.5 134.3h0M90.3 94.1h0M98.5 139.6h0M105.1 136.8h0M88.3 120.2h0M87.0 129.6h0M94.5 132.1h0M115.6 138.6h0M104.9 123.3h0M110.7 131.6h0M83.7 130.7h0M92.6 107.2h0M109.6 158.7h0M94.1 133.6h0M82.2 105.4h0M105.8 131.6h0M90.9 104.1h0M104.7 121.6h0M94.0 102.9h0M86.8 130.1h0M86.6 127.8h0M113.2 130.9h0M103.4 135.1h0M84.5 131.2h0M101.4 137.6h0M75.4 115.0h0M103.6 118.9h0M80.5 108.8h0M111.1 161.4h0M81.2 100.9h0M78.6 114.9h0M110.6 134.3h0M108.5 167.1h0M93.3 134.5h0M94.3 132.6h0M105.3 127.8h0M84.8 109.4h0M109.4 139.4h0M115.0 138.0h0M79.7 122.7h0M84.2 124.0h0M88.9 92.0h0M120.0 148.0h0M102.6 130.8h0M90.3 123.0h0M107.0 131.2h0M94.7 142.9h0M95.7 100.5h0M81.5 119.5h0M86.4 104.1h0M104.5 140.9h0M82.2 117.4h0M95.6 110.8h0M74.9 113.6h0M81.3 100.1h0M111.9 152.5h0M94.4 123.6h0M120.4 153.7h0M87.0 103.8h0M93.4 132.2h0M116.7 140.5h0M99.1 133.7h0M112.7 130.5h0M110.2 154.9h0M101.4 157.1h0M104.5 130.4h0M109.0 170.6h0M84.9 98.7h0M91.9 100.9h0M96.1 110.4h0M107.2 140.7h0M82.6 111.2h0M119.0 157.0h0M92.4 117.7h0M105.0 127.5h0M120.9 146.0h0M109.6 154.9h0M101.7 141.4h0M82.7 124.6h0M118.1 156.3h0M105.5 126.4h0M114.3 162.3h0M88.9 121.4h0M79.8 112.5h0M93.1 129.9h0M99.8 114.1h0M87.7 101.8h0M116.9 153.8h0M101.7 159.6h0M103.8 117.9h0M112.3 128.2h0M94.0 125.0h0M85.7 100.2h0M92.6 110.4h0M103.6 116.2h0M95.9 145.0h0M104.3 126.3h0M76.6 107.8h0M104.0 138.9h0M115.2 141.6h0M77.1 118.2h0M90.9 102.3h0M97.1 129.7h0M117.6 136.8h0M117.6 138.6h0M77.8 109.9h0M100.4 105.7h0M107.0 163.2h0M105.4 163.3h0M85.3 128.8h0M122.5 144.4h0M79.0 113.2h0M90.8 91.1h0M91.9 93.7h0M97.6 151.2h0M86.4 122.4h0M89.8 111.5h0M112.0 141.8h0M95.6 118.5h0M111.8 151.6h0M92.3 112.3h0M80.6 120.0h0M104.3 124.0h0M99.8 145.9h0M112.5 159.3h0M86.6 126.7h0M110.1 165.5h0M104.7 153.0h0M93.4 138.1h0M92.8 99.8h0M75.3 114.9h0M106.5 134.9h0M83.5 124.2h0M93.3 102.7h0M103.5 134.4h0M92.5 133.3h0M117.7 149.7h0M110.1 156.0h0M96.0 148.5h0M108.6 146.4h0M87.8 106.9h0M88.7 97.8h0M99.0 153.3h0M84.7 105.8h0M108.5 156.5h0M96.1 119.9h0M111.1 151.3h0M92.1 133.4h0M97.6 121.6h0M122.2 148.4h0M91.1 136.1h0M109.2 145.3h0M76.6 108.5h0M87.0 114.7h0M113.6 150.3h0M115.9 139.7h0M106.8 148.6h0M116.3 139.8h0M93.6 98.3h0M97.1 152.6h0M107.8 135.3h0M80.6 121.3h0M92.2 103.4h0M89.1 114.5h0M123.0 148.6h0M107.6 161.3h0M89.0 135.9h0M93.9 137.9h0M102.0 131.2h0M77.6 111.1h0M87.7 113.0h0M120.1 148.0h0M96.5 128.3h0M82.3 117.2h0M96.0 121.2h0M94.9 134.2h0M100.2 133.3h0M91.1 124.2h0M85.9 122.5h0M102.4 109.7h0M84.7 122.3h0M101.8 152.1h0M93.0 95.8h0M91.8 140.6h0M102.9 151.7h0M111.1 133.3h0M86.2 107.3h0M113.3 134.6h0M90.5 130.6h0M117.9 154.4h0M101.1 142.9h0M88.4 125.2h0M75.1 114.3h0M105.2 121.3h0M114.4 148.6h0M83.3 120.9h0M84.5 126.2h0M93.3 120.8h0M107.0 163.8h0M82.3 107.8h0M107.3 128.9h0M120.2 145.6h0M114.6 140.5h0M85.5 119.0h0M77.7 107.4h0M101.9 154.7h0M96.9 120.2h0M112.1 152.8h0M91.5 140.5h0M104.3 116.5h0M97.8 135.9h0M80.0 119.8h0M109.7 153.8h0M88.6 101.5h0M96.4 120.8h0M88.2 105.6h0M76.7 120.3h0M91.9 104.7h0M89.0 126.4h0M117.6 143.9h0M103.7 123.7h0M84.2 127.9h0M113.3 129.9h0M86.4 95.8h0M119.0 138.5h0M90.3 106.9h0M80.9 119.6h0M103.0 126.1h0M77.1 115.0h0M100.4 144.9h0M104.3 136.8h0M106.4 129.2h0M109.0 166.4h0M85.8 124.9h0M88.9 112.7h0M86.4 121.1h0M83.6 117.6h0M118.8 138.9h0M102.1 133.6h0M120.8 139.7h0M95.5 144.3h0M99.0 117.9h0M106.2 154.6h0M100.4 138.5h0M88.8 129.5h0M115.4 163.1h0M117.2 140.8h0M101.7 135.8h0M98.8 136.1h0M111.9 146.5h0M87.0 106.5h0M90.8 138.2h0M90.3 125.7h0M97.8 134.4h0M75.1 116.7h0M106.7 160.5h0M97.5 150.0h0M95.2 127.6h0M87.5 96.9h0M107.7 139.9h0M105.4 133.9h0M115.4 137.8h0M92.0 92.9h0M74.3 115.3h0M84.3 132.4h0M119.1 141.3h0M119.3 152.9h0M101.6 142.8h0M110.4 140.3h0M93.1 137.8h0M104.6 121.9h0M94.3 134.2h0M87.5 124.4h0M112.2 127.6h0M83.5 116.5h0M109.4 128.9h0M94.2 101.2h0M90.0 104.1h0M82.8 103.1h0M106.6 137.3h0M97.6 136.2h0M94.3 144.6h0M80.3 106.6h0M117.3 141.5h0M101.4 133.6h0M94.6 103.8h0M115.7 141.0h0M106.8 131.8h0M107.1 122.7h0M114.5 152.8h0M84.3 132.3h0M118.0 142.9h0M94.6 134.4h0M89.4 95.6h0M110.9 152.7h0M90.7 133.1h0M93.7 147.2h0M102.2 113.6h0M111.5 130.9h0M88.6 93.0h0M85.8 112.9h0M93.2 119.3h0M83.6 118.6h0M78.5 118.8h0M92.2 121.1h0M84.1 111.3h0M112.7 161.6h0M101.4 120.5h0M84.7 102.9h0M107.3 128.2h0M102.0 110.0h0M104.5 153.0h0M91.0 106.2h0M91.5 93.2h0M102.7 125.7h0M117.1 156.4h0M99.0 134.8h0M101.1 133.4h0M83.0 120.3h0M94.7 111.4h0M106.3 122.1h0M121.1 146.4h0M96.1 147.5h0M85.3 128.8h0M106.3 157.4h0M99.4 127.1h0M80.1 123.2h0M100.6 148.2h0M115.7 141.9h0M113.2 156.8h0M102.5 140.4h0M95.4 147.0h0M81.6 122.0h0M119.4 145.0h0M88.8 136.3h0M103.6 122.2h0M86.9 122.4h0M90.5 116.7h0M111.0 169.8h0M80.2 123.7h0M112.0 124.9h0M104.8 159.7h0M108.6 163.7h0M89.6 124.1h0M75.8 114.7h0M93.9 101.4h0M107.6 141.3h0M94.3 129.9h0M97.0 109.4h0M85.0 98.6h0M104.7 157.6h0M108.2 138.9h0M95.0 144.5h0M108.7 145.2h0M89.8 128.6h0M95.2 135.3h0M87.1 125.5h0M96.8 138.5h0M103.8 151.3h0M91.1 137.1h0M112.6 126.0h0M103.3 127.0h0M91.1 103.8h0M87.8 101.7h0M103.1 159.0h0M96.3 132.5h0M88.3 107.7h0M93.5 133.8h0M98.0 105.9h0M88.2 105.1h0M113.7 137.1h0M105.9 142.8h0M105.5 135.2h0M103.4 129.5h0M83.8 122.8h0M87.9 111.6h0M75.3 117.6h0M93.5 134.9h0M78.9 110.0h0M106.0 137.3h0M107.0 125.2h0M99.7 154.9h0M75.8 117.9h0M115.6 152.1h0M94.1 119.3h0M82.5 129.2h0M107.8 132.8h0M84.2 129.3h0M83.7 99.6h0M103.1 157.9h0M84.4 99.4h0M98.7 146.4h0M108.3 123.4h0M77.4 116.8h0M108.1 121.5h0M103.7 122.4h0M74.5 112.3h0M116.4 152.8h0M114.4 161.9h0M105.9 120.4h0M118.9 155.8h0M91.7 108.3h0M93.3 112.5h0M108.8 125.9h0M97.3 143.3h0M115.3 159.3h0M99.8 116.5h0M114.3 159.8h0M90.9 97.7h0M114.1 142.5h0M107.2 144.4h0M104.2 125.5h0M81.6 106.7h0M103.1 143.6h0M97.0 136.0h0M89.0 95.6h0M118.7 139.8h0M89.9 116.7h0M79.4 117.9h0M80.5 104.7h0M108.1 138.0h0M89.5 113.4h0M91.3 142.3h0M82.9 114.6h0M97.9 126.5h0M110.9 138.1h0M93.4 129.3h0M115.1 163.4h0M115.6 149.3h0M112.8 161.9h0M106.4 162.8h0M107.5 157.5h0M95.6 105.6h0M82.8 108.3h0M100.1 144.1h0M80.6 108.2h0M76.7 110.1h0M88.2 111.1h0M85.5 132.3h0M91.1 134.9h0M118.1 141.9h0M110.8 132.2h0M88.7 108.4h0M112.1 166.2h0M113.9 129.5h0M108.7 168.9h0M103.8 133.2h0M108.8 124.7h0M108.5 156.7h0M87.1 107.9h0M114.2 162.9h0M103.3 131.8h0M100.9 145.7h0M82.6 101.5h0M94.0 107.1h0M106.0 162.0h0M97.1 102.4h0M87.1 107.2h0M111.7 140.9h0M84.8 96.9h0M91.0 125.7h0M118.1 137.9h0M105.9 117.1h0M102.3 140.2h0M110.9 168.1h0M119.8 143.8h0M91.8 118.3h0M79.7 115.4h0M107.4 132.8h0M79.2 110.3h0M102.1 156.9h0M116.7 136.3h0M121.8 143.4h0M92.9 138.8h0M80.4 120.3h0M101.6 111.6h0M85.5 104.1h0M81.4 121.7h0M105.5 147.0h0M111.2 162.4h0M104.2 145.2h0M106.5 149.3h0M98.3 105.6h0M109.4 143.5h0M116.5 157.3h0M112.6 138.5h0M99.6 121.2h0M95.9 134.5h0M95.9 133.3h0M78.8 112.5h0M88.3 121.5h0M88.7 123.3h0M92.4 93.1h0M82.2 102.5h0M104.2 149.2h0M91.1 125.6h0M98.5 148.1h0M117.2 152.9h0M97.8 124.3h0M117.1 158.3h0M80.1 115.8h0M78.6 115.1h0M103.8 125.6h0M96.1 122.4h0M113.6 132.8h0M104.0 150.0h0M90.7 128.1h0M94.6 117.8h0M84.8 94.4h0M115.8 131.2h0M112.7 157.2h0M96.2 113.6h0M105.1 137.1h0M107.5 164.3h0M77.3 107.3h0M110.1 144.5h0M111.6 149.6h0M107.9 137.4h0M83.6 118.6h0M93.9 139.7h0M115.7 143.9h0M108.4 134.0h0M94.5 123.4h0M92.5 98.3h0M86.5 126.5h0M104.0 124.6h0M90.3 109.4h0M82.0 114.0h0M94.4 113.7h0M80.5 104.1h0M110.2 132.9h0M84.8 129.8h0M97.1 136.5h0M94.1 139.5h0M119.4 146.4h0M107.4 146.7h0M83.6 98.2h0M97.2 103.2h0M81.4 103.0h0M96.7 113.4h0M105.1 126.4h0M104.4 117.4h0M75.2 118.1h0M82.9 102.0h0M89.2 105.1h0M101.3 116.5h0M119.7 144.7h0M92.7 129.9h0M84.3 127.8h0M107.3 125.4h0M81.6 103.7h0M75.7 115.3h0M79.1 104.3h0M111.6 139.5h0M101.8 138.2h0M95.5 118.5h0M104.3 119.2h0M107.7 167.4h0M92.6 141.9h0M87.7 130.9h0M89.5 132.3h0M102.1 109.6h0M95.0 127.4h0M117.3 135.4h0M91.3 94.4h0M80.1 120.7h0M87.6 129.1h0M93.2 111.3h0M99.9 127.4h0M86.8 133.7h0M101.0 153.6h0M96.0 116.3h0M108.8 148.4h0M91.0 121.9h0M101.8 119.5h0M107.2 160.2h0M98.1 141.7h0M91.0 96.1h0M117.3 138.4h0M99.8 106.1h0M105.9 145.8h0M104.2 158.5h0M89.8 91.6h0M121.6 144.3h0M100.9 128.3h0M98.7 146.4h0M90.4 138.5h0M111.1 132.9h0M114.2 158.7h0M109.1 133.1h0M101.4 115.9h0M102.3 146.4h0M119.5 143.1h0M106.1 150.3h0M100.6 138.5h0M81.1 103.1h0M101.0 138.4h0M90.0 123.4h0M107.2 133.7h0M101.9 125.8h0M118.4 135.8h0M97.5 146.1h0M90.9 126.9h0M86.6 101.2h0M84.5 106.0h0M117.5 141.9h0M104.9 163.2h0M109.8 134.4h0M122.0 142.0h0M76.0 109.5h0M94.1 129.4h0M117.0 162.5h0M127.4 154.3h0M124.6 148.9h0M120.7 155.8h0M79.3 94.0h0M118.0 159.2h0M119.4 161.4h0M114.9 173.7h0M87.8 89.2h0M93.1 93.5h0M78.8 98.2h0M117.8 169.0h0M118.2 159.5h0M126.6 167.1h0M85.4 91.9h0M117.9 173.3h0M124.0 150.0h0M76.2 101.7h0M121.8 157.8h0M119.3 159.5h0M124.3 146.5h0M114.5 169.7h0M82.6 96.0h0M124.3 154.6h0M118.7 165.0h0M125.3 150.9h0M80.8 97.8h0M112.0 170.5h0M76.0 105.9h0M74.5 103.0h0M78.1 97.8h0M117.7 167.9h0M74.8 109.5h0M111.4 174.9h0M118.9 157.7h0M76.7 96.0h0M83.5 91.7h0M125.4 156.8h0M113.7 178.0h0M121.5 183.5h0M75.8 106.1h0M116.8 163.1h0M75.0 101.6h0M120.0 164.8h0M73.6 108.7h0M120.7 173.4h0M81.5 94.9h0M119.7 157.4h0M81.2 92.2h0M81.7 96.7h0M87.7 86.3h0M74.5 109.2h0M115.4 169.1h0M76.8 93.7h0M81.5 95.7h0M123.5 168.7h0M74.0 110.5h0M75.7 97.9h0M118.5 159.6h0M85.3 89.5h0M113.9 170.9h0M74.5 109.6h0M76.6 96.6h0M122.5 150.9h0M118.4 162.2h0M113.9 172.0h0M128.8 153.7h0M93.0 93.0h0M119.0 168.8h0M117.2 178.3h0M126.1 151.7h0M81.3 96.7h0M127.3 164.2h0M115.9 164.1h0M82.9 96.8h0M83.1 95.9h0M74.5 96.3h0M126.0 165.8h0M73.9 108.7h0M126.4 153.7h0M119.0 167.7h0M118.0 174.6h0M115.2 168.7h0M86.7 90.8h0M75.6 102.8h0M119.3 158.9h0M124.7 148.4h0M76.0 95.5h0M115.7 165.6h0M87.8 86.0h0M81.5 93.2h0M119.4 158.3h0M113.8 168.9h0M125.8 158.4h0M120.5 175.2h0M85.3 91.0h0M119.9 167.8h0M119.1 162.0h0M112.2 172.3h0M114.9 170.8h0M84.7 91.0h0M113.3 173.4h0M85.9 93.0h0M115.0 168.5h0M81.5 94.5h0M125.0 152.2h0M81.4 92.0h0M115.6 174.5h0M78.0 98.9h0M121.9 164.5h0M84.7 92.8h0M113.3 173.2h0M122.2 162.6h0M122.2 165.4h0M128.3 172.8h0M81.8 97.1h0M86.7 85.2h0M114.6 170.6h0M119.3 171.1h0M121.3 181.8h0M121.0 156.6h0M78.4 98.5h0M114.9 170.5h0M85.9 87.3h0M77.6 99.9h0M82.7 95.7h0M123.8 164.1h0M113.4 167.9h0M114.4 168.7h0M78.2 98.4h0M126.3 156.4h0M114.8 167.4h0M79.3 97.9h0M89.3 88.3h0M81.1 98.5h0M77.3 96.8h0M125.7 151.4h0M75.0 108.6h0M80.3 99.0h0M126.2 151.0h0M111.7 172.5h0M75.2 104.5h0M75.9 107.0h0M124.5 148.5h0M81.3 93.7h0M124.6 148.3h0M124.2 176.0h0M116.0 179.0h0M78.3 98.5h0M76.9 102.3h0M124.6 146.3h0M124.7 153.7h0M117.8 163.0h0M80.9 97.1h0M83.2 90.7h0M117.9 165.0h0M123.9 159.1h0M119.9 155.6h0M120.8 155.6h0M124.0 160.5h0M76.9 92.2h0M74.2 102.6h0M86.9 91.7h0M121.5 168.6h0M118.7 158.7h0M85.5 89.9h0M72.2 112.5h0M129.5 165.6h0M125.6 152.7h0M80.3 97.6h0M77.6 104.6h0M123.0 159.1h0M74.4 111.0h0M123.7 153.7h0M116.9 162.3h0M123.8 164.6h0M114.5 171.3h0M79.2 98.7h0M123.8 154.8h0M89.2 89.5h0M89.0 88.4h0M93.2 93.3h0M112.1 170.1h0M76.4 90.6h0M76.9 100.1h0M116.7 162.4h0M82.9 96.9h0M78.2 101.8h0M116.3 164.4h0M123.0 150.4h0M113.6 168.0h0M125.9 167.1h0M78.6 97.0h0M75.6 89.5h0M85.9 93.1h0M84.7 89.9h0M123.6 163.6h0M118.6 168.7h0M84.6 94.2h0M74.6 109.7h0M75.3 86.7h0M87.2 83.6h0M84.3 78.5h0M137.5 167.0h0M131.2 171.8h0M126.1 187.8h0M118.0 190.0h0M112.5 176.7h0M71.8 113.0h0M73.5 105.0h0" stroke="#A093E6" stroke-width="2.16" stroke-linecap="square"/></g>
<line x1="61.20" y1="222.1" x2="61.20" y2="224.29999999999998" stroke="#333" stroke-width="1"/>
<text transform="translate(61.20,234.70) scale(0.97,1)" font-size="10.3" fill="#4D4D4D" text-anchor="middle">-2.5</text>
<line x1="98.60" y1="222.1" x2="98.60" y2="224.29999999999998" stroke="#333" stroke-width="1"/>
<text transform="translate(98.60,234.70) scale(0.97,1)" font-size="10.3" fill="#4D4D4D" text-anchor="middle">0.0</text>
<line x1="136.00" y1="222.1" x2="136.00" y2="224.29999999999998" stroke="#333" stroke-width="1"/>
<text transform="translate(136.00,234.70) scale(0.97,1)" font-size="10.3" fill="#4D4D4D" text-anchor="middle">2.5</text>
<line x1="173.40" y1="222.1" x2="173.40" y2="224.29999999999998" stroke="#333" stroke-width="1"/>
<text transform="translate(173.40,234.70) scale(0.97,1)" font-size="10.3" fill="#4D4D4D" text-anchor="middle">5.0</text>
<line x1="50.8" y1="207.70" x2="53.0" y2="207.70" stroke="#333" stroke-width="1"/>
<text transform="translate(49.60,211.90) scale(0.97,1)" font-size="10.3" fill="#4D4D4D" text-anchor="end">-2.5</text>
<line x1="50.8" y1="142.60" x2="53.0" y2="142.60" stroke="#333" stroke-width="1"/>
<text transform="translate(49.60,146.80) scale(0.97,1)" font-size="10.3" fill="#4D4D4D" text-anchor="end">0.0</text>
<line x1="50.8" y1="77.50" x2="53.0" y2="77.50" stroke="#333" stroke-width="1"/>
<text transform="translate(49.60,81.70) scale(0.97,1)" font-size="10.3" fill="#4D4D4D" text-anchor="end">2.5</text>
<text transform="translate(116.00,244.90)" font-size="10.5" fill="#000" text-anchor="middle">CTI</text>
<text transform="translate(24.90,120.80) rotate(-90)" font-size="10.5" fill="#000" text-anchor="middle">CTI15</text>
<text transform="translate(0.40,7.50)" font-size="10" fill="#000" font-weight="bold">A</text>
<text transform="translate(190.80,103.60)" font-size="8.2" fill="#000">cluster</text>
<rect x="191.5" y="107.80" width="11.3" height="11.9" fill="#7EB0D5" fill-opacity="0.2" stroke="#7EB0D5" stroke-width="0.7"/>
<line x1="191.5" y1="113.80" x2="202.8" y2="113.80" stroke="#7EB0D5" stroke-width="0.6"/>
<circle cx="197.1" cy="113.80" r="2.5" fill="#7EB0D5"/>
<text transform="translate(207.30,116.80)" font-size="7.2" fill="#000">1</text>
<rect x="191.5" y="120.45" width="11.3" height="11.9" fill="#FD7F6F" fill-opacity="0.2" stroke="#FD7F6F" stroke-width="0.7"/>
<line x1="191.5" y1="126.45" x2="202.8" y2="126.45" stroke="#FD7F6F" stroke-width="0.6"/>
<path d="M197.1 123.25 L200 128.85 L194.2 128.85Z" fill="#FD7F6F"/>
<text transform="translate(207.30,129.45)" font-size="7.2" fill="#000">2</text>
<rect x="191.5" y="133.10" width="11.3" height="11.9" fill="#9B8BE6" fill-opacity="0.2" stroke="#9B8BE6" stroke-width="0.7"/>
<line x1="191.5" y1="139.10" x2="202.8" y2="139.10" stroke="#9B8BE6" stroke-width="0.6"/>
<rect x="194.8" y="136.80" width="4.6" height="4.6" fill="#9B8BE6"/>
<text transform="translate(207.30,142.10)" font-size="7.2" fill="#000">3</text>
<line x1="267.6" y1="0" x2="267.6" y2="228.7" stroke="#3a3a3a" stroke-width="1"/>
<line x1="267.1" y1="228.2" x2="417.6" y2="228.2" stroke="#3a3a3a" stroke-width="1"/>
<line x1="265.3" y1="218.60" x2="267.6" y2="218.60" stroke="#333" stroke-width="1"/>
<text transform="translate(263.80,222.90) scale(0.97,1)" font-size="10.3" fill="#4D4D4D" text-anchor="end">8.0</text>
<line x1="265.3" y1="168.80" x2="267.6" y2="168.80" stroke="#333" stroke-width="1"/>
<text transform="translate(263.80,173.10) scale(0.97,1)" font-size="10.3" fill="#4D4D4D" text-anchor="end">8.5</text>
<line x1="265.3" y1="119.00" x2="267.6" y2="119.00" stroke="#333" stroke-width="1"/>
<text transform="translate(263.80,123.30) scale(0.97,1)" font-size="10.3" fill="#4D4D4D" text-anchor="end">9.0</text>
<line x1="265.3" y1="69.20" x2="267.6" y2="69.20" stroke="#333" stroke-width="1"/>
<text transform="translate(263.80,73.50) scale(0.97,1)" font-size="10.3" fill="#4D4D4D" text-anchor="end">9.5</text>
<line x1="265.3" y1="19.40" x2="267.6" y2="19.40" stroke="#333" stroke-width="1"/>
<text transform="translate(263.80,23.70) scale(0.97,1)" font-size="10.3" fill="#4D4D4D" text-anchor="end">10.0</text>
<line x1="308.3" y1="228.2" x2="308.3" y2="230.6" stroke="#333" stroke-width="1"/>
<text transform="translate(308.30,239.80)" font-size="10" fill="#4D4D4D" text-anchor="middle">mean_CTI</text>
<line x1="376.5" y1="228.2" x2="376.5" y2="230.6" stroke="#333" stroke-width="1"/>
<text transform="translate(376.50,239.80)" font-size="10" fill="#4D4D4D" text-anchor="middle">mean_CTI15</text>
<text transform="translate(342.40,251.60)" font-size="10.6" fill="#000" text-anchor="middle">Year</text>
<text transform="translate(241.10,113.90) rotate(-90) scale(0.96,1)" font-size="10.6" fill="#000" text-anchor="middle">CTI Value</text>
<text transform="translate(232.40,7.50)" font-size="10" fill="#000" font-weight="bold">B</text>
<line x1="308.3" y1="41.31" x2="376.5" y2="10.44" stroke="#7EB0D5" stroke-width="1.3"/>
<circle cx="308.3" cy="41.31" r="3.2" fill="#7EB0D5"/>
<circle cx="376.5" cy="10.44" r="3.2" fill="#7EB0D5"/>
<text transform="translate(308.30,38.71) scale(0.94,1)" font-size="8.4" fill="#7EB0D5" text-anchor="middle" font-weight="bold">9.78</text>
<text transform="translate(376.50,7.84) scale(0.94,1)" font-size="8.4" fill="#7EB0D5" text-anchor="middle" font-weight="bold">10.09</text>
<line x1="308.3" y1="218.60" x2="376.5" y2="206.65" stroke="#FD7F6F" stroke-width="1.3"/>
<circle cx="308.3" cy="218.60" r="3.2" fill="#FD7F6F"/>
<circle cx="376.5" cy="206.65" r="3.2" fill="#FD7F6F"/>
<text transform="translate(308.30,216.00) scale(0.94,1)" font-size="8.4" fill="#FD7F6F" text-anchor="middle" font-weight="bold">8.00</text>
<text transform="translate(376.50,204.05) scale(0.94,1)" font-size="8.4" fill="#FD7F6F" text-anchor="middle" font-weight="bold">8.12</text>
<line x1="308.3" y1="136.93" x2="376.5" y2="118.00" stroke="#9B8BE6" stroke-width="1.3"/>
<circle cx="308.3" cy="136.93" r="3.2" fill="#9B8BE6"/>
<circle cx="376.5" cy="118.00" r="3.2" fill="#9B8BE6"/>
<text transform="translate(308.30,134.33) scale(0.94,1)" font-size="8.4" fill="#9B8BE6" text-anchor="middle" font-weight="bold">8.82</text>
<text transform="translate(376.50,115.40) scale(0.94,1)" font-size="8.4" fill="#9B8BE6" text-anchor="middle" font-weight="bold">9.01</text>
<text transform="translate(429.50,96.90)" font-size="8.2" fill="#000">cluster</text>
<line x1="430.2" y1="108.20" x2="439.8" y2="108.20" stroke="#7EB0D5" stroke-width="1.3"/>
<circle cx="434.8" cy="108.20" r="3.1" fill="#7EB0D5"/>
<text transform="translate(434.80,114.20)" font-size="5" fill="#7EB0D5" text-anchor="middle" font-weight="bold">a</text>
<text transform="translate(445.50,110.70)" font-size="7" fill="#000">1</text>
<line x1="430.2" y1="120.70" x2="439.8" y2="120.70" stroke="#FD7F6F" stroke-width="1.3"/>
<circle cx="434.8" cy="120.70" r="3.1" fill="#FD7F6F"/>
<text transform="translate(434.80,126.70)" font-size="5" fill="#FD7F6F" text-anchor="middle" font-weight="bold">a</text>
<text transform="translate(445.50,123.20)" font-size="7" fill="#000">2</text>
<line x1="430.2" y1="133.20" x2="439.8" y2="133.20" stroke="#9B8BE6" stroke-width="1.3"/>
<circle cx="434.8" cy="133.20" r="3.1" fill="#9B8BE6"/>
<text transform="translate(434.80,139.20)" font-size="5" fill="#9B8BE6" text-anchor="middle" font-weight="bold">a</text>
<text transform="translate(445.50,135.70)" font-size="7" fill="#000">3</text>
<line x1="500.2" y1="191.55" x2="651.8" y2="191.55" stroke="#EBEBEB" stroke-width="0.5"/>
<line x1="500.2" y1="136.65" x2="651.8" y2="136.65" stroke="#EBEBEB" stroke-width="0.5"/>
<line x1="500.2" y1="81.75" x2="651.8" y2="81.75" stroke="#EBEBEB" stroke-width="0.5"/>
<line x1="500.2" y1="26.85" x2="651.8" y2="26.85" stroke="#EBEBEB" stroke-width="0.5"/>
<line x1="500.2" y1="219.00" x2="651.8" y2="219.00" stroke="#EBEBEB" stroke-width="1"/>
<line x1="500.2" y1="164.10" x2="651.8" y2="164.10" stroke="#EBEBEB" stroke-width="1"/>
<line x1="500.2" y1="109.20" x2="651.8" y2="109.20" stroke="#EBEBEB" stroke-width="1"/>
<line x1="500.2" y1="54.30" x2="651.8" y2="54.30" stroke="#EBEBEB" stroke-width="1"/>
<line x1="528.7" y1="12.0" x2="528.7" y2="228.4" stroke="#EBEBEB" stroke-width="1"/>
<line x1="576.0" y1="12.0" x2="576.0" y2="228.4" stroke="#EBEBEB" stroke-width="1"/>
<line x1="623.3" y1="12.0" x2="623.3" y2="228.4" stroke="#EBEBEB" stroke-width="1"/>
<rect x="507.40" y="41.78" width="21.3" height="177.22" fill="#7EB0D5"/>
<rect x="528.70" y="176.62" width="21.3" height="42.38" fill="#FD7F6F"/>
<text transform="translate(518.05,39.68) scale(0.96,1)" font-size="8.2" fill="#000" text-anchor="middle">80.7%</text>
<text transform="translate(539.35,174.52) scale(0.96,1)" font-size="8.2" fill="#000" text-anchor="middle">19.3%</text>
<rect x="554.70" y="35.19" width="21.3" height="183.81" fill="#7EB0D5"/>
<rect x="576.00" y="183.21" width="21.3" height="35.79" fill="#FD7F6F"/>
<text transform="translate(565.35,33.09) scale(0.96,1)" font-size="8.2" fill="#000" text-anchor="middle">83.7%</text>
<text transform="translate(586.65,181.11) scale(0.96,1)" font-size="8.2" fill="#000" text-anchor="middle">16.3%</text>
<rect x="602.00" y="22.90" width="21.3" height="196.10" fill="#7EB0D5"/>
<rect x="623.30" y="195.50" width="21.3" height="23.50" fill="#FD7F6F"/>
<text transform="translate(612.65,20.80) scale(0.96,1)" font-size="8.2" fill="#000" text-anchor="middle">89.3%</text>
<text transform="translate(633.95,193.40) scale(0.96,1)" font-size="8.2" fill="#000" text-anchor="middle">10.7%</text>
<text transform="translate(496.30,223.50) scale(0.97,1)" font-size="10.3" fill="#4D4D4D" text-anchor="end">0%</text>
<text transform="translate(496.30,168.60) scale(0.97,1)" font-size="10.3" fill="#4D4D4D" text-anchor="end">25%</text>
<text transform="translate(496.30,113.70) scale(0.97,1)" font-size="10.3" fill="#4D4D4D" text-anchor="end">50%</text>
<text transform="translate(496.30,58.80) scale(0.97,1)" font-size="10.3" fill="#4D4D4D" text-anchor="end">75%</text>
<text transform="translate(528.70,241.00) scale(0.97,1)" font-size="10.3" fill="#4D4D4D" text-anchor="middle">1</text>
<text transform="translate(576.00,241.00) scale(0.97,1)" font-size="10.3" fill="#4D4D4D" text-anchor="middle">2</text>
<text transform="translate(623.30,241.00) scale(0.97,1)" font-size="10.3" fill="#4D4D4D" text-anchor="middle">3</text>
<text transform="translate(576.00,251.60)" font-size="10.6" fill="#000" text-anchor="middle">cluster</text>
<text transform="translate(473.00,120.60) rotate(-90) scale(0.965,1)" font-size="10.6" fill="#000" text-anchor="middle">Proportion (%)</text>
<text transform="translate(464.20,7.50)" font-size="10" fill="#000" font-weight="bold">C</text>
<text transform="translate(663.60,109.50)" font-size="8.2" fill="#000">CVD0</text>
<rect x="664.2" y="114.9" width="11.4" height="11.1" fill="#7EB0D5"/>
<rect x="664.2" y="127.3" width="11.4" height="11.3" fill="#FD7F6F"/>
<text transform="translate(680.00,123.20)" font-size="6.4" fill="#000">0</text>
<text transform="translate(680.00,135.00)" font-size="6.4" fill="#000">1</text>
</svg>
</body></html>
